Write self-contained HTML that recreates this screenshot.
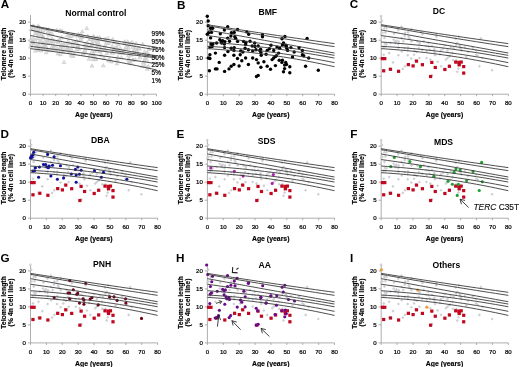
<!DOCTYPE html>
<html><head><meta charset="utf-8"><style>
*{margin:0;padding:0}
html,body{width:520px;height:367px;background:#fff;overflow:hidden}
svg{display:block;will-change:transform}
text{font-family:'Liberation Sans',sans-serif}
.let{font-size:11.7px;font-weight:bold}
.tit{font-size:8.6px;font-weight:bold}
.yt{font-size:6.1px;text-anchor:end;fill:#000;stroke:#000;stroke-width:0.22}
.xt{font-size:6.1px;text-anchor:middle;fill:#000;stroke:#000;stroke-width:0.22}
.yl{font-size:6.9px;font-weight:bold;text-anchor:middle;stroke:#000;stroke-width:0.15}
.xl{font-size:6.9px;font-weight:bold;text-anchor:middle;stroke:#000;stroke-width:0.15}
.axis{stroke:#999;stroke-width:0.8;fill:none}
.cv{stroke:#3a3a3a;stroke-width:0.9;fill:none}
.gd{fill:#cdcfd3}
.tri{fill:#e4e4e4;stroke:#bcbcbc;stroke-width:0.5}
.pl{font-size:6.4px;fill:#000;stroke:#000;stroke-width:0.2}
.arr{stroke:#222;stroke-width:0.85;fill:none}
.ann{font-size:8.4px;fill:#111;stroke:#111;stroke-width:0.15}
.rs{fill:#c0081f}
</style></head><body>
<svg width="520" height="367" viewBox="0 0 520 367">
<text x="0.7" y="8.2" class="let">A</text>
<text x="65.2" y="16" class="tit">Normal control</text>
<path d="M30.5 15V94.2H156.5" class="axis"/>
<path d="M27.9 94.2h2.6M27.9 76.2h2.6M27.9 58.2h2.6M27.9 40.2h2.6M27.9 22.2h2.6M30.5 94.2v2M43.1 94.2v2M55.7 94.2v2M68.3 94.2v2M80.9 94.2v2M93.5 94.2v2M106.1 94.2v2M118.7 94.2v2M131.3 94.2v2M143.9 94.2v2M156.5 94.2v2" class="axis"/>
<text x="26" y="96.3" class="yt">0</text>
<text x="26" y="78.3" class="yt">5</text>
<text x="26" y="60.3" class="yt">10</text>
<text x="26" y="42.3" class="yt">15</text>
<text x="26" y="24.3" class="yt">20</text>
<text x="30.5" y="105.4" class="xt">0</text>
<text x="43.1" y="105.4" class="xt">10</text>
<text x="55.7" y="105.4" class="xt">20</text>
<text x="68.3" y="105.4" class="xt">30</text>
<text x="80.9" y="105.4" class="xt">40</text>
<text x="93.5" y="105.4" class="xt">50</text>
<text x="106.1" y="105.4" class="xt">60</text>
<text x="118.7" y="105.4" class="xt">70</text>
<text x="131.3" y="105.4" class="xt">80</text>
<text x="143.9" y="105.4" class="xt">90</text>
<text x="156.5" y="105.4" class="xt">100</text>
<text transform="translate(6.2 53.8) rotate(-90)" class="yl">Telomere length</text>
<text transform="translate(13.1 53.8) rotate(-90)" class="yl">(% 4n cell line)</text>
<text x="93.8" y="116.8" class="xl">Age (years)</text>
<path d="M69.26 50.22l1.9 3.4h-3.8z" class="tri"/>
<path d="M108.42 58.64l1.9 3.4h-3.8z" class="tri"/>
<path d="M94.65 49.14l1.9 3.4h-3.8z" class="tri"/>
<path d="M37.44 36.23l1.9 3.4h-3.8z" class="tri"/>
<path d="M34.99 37.8l1.9 3.4h-3.8z" class="tri"/>
<path d="M38.86 47.43l1.9 3.4h-3.8z" class="tri"/>
<path d="M81.31 35.67l1.9 3.4h-3.8z" class="tri"/>
<path d="M45.32 44.85l1.9 3.4h-3.8z" class="tri"/>
<path d="M105.6 36.97l1.9 3.4h-3.8z" class="tri"/>
<path d="M99.58 49.24l1.9 3.4h-3.8z" class="tri"/>
<path d="M147.36 66.88l1.9 3.4h-3.8z" class="tri"/>
<path d="M133.26 57.93l1.9 3.4h-3.8z" class="tri"/>
<path d="M47.77 47.92l1.9 3.4h-3.8z" class="tri"/>
<path d="M67.43 33.48l1.9 3.4h-3.8z" class="tri"/>
<path d="M52.13 36.71l1.9 3.4h-3.8z" class="tri"/>
<path d="M106.98 51.12l1.9 3.4h-3.8z" class="tri"/>
<path d="M96.07 56.7l1.9 3.4h-3.8z" class="tri"/>
<path d="M37.63 44.23l1.9 3.4h-3.8z" class="tri"/>
<path d="M111.94 50.66l1.9 3.4h-3.8z" class="tri"/>
<path d="M68.1 39.3l1.9 3.4h-3.8z" class="tri"/>
<path d="M84.75 49.07l1.9 3.4h-3.8z" class="tri"/>
<path d="M125.59 46.42l1.9 3.4h-3.8z" class="tri"/>
<path d="M59.72 38.16l1.9 3.4h-3.8z" class="tri"/>
<path d="M93.37 36.61l1.9 3.4h-3.8z" class="tri"/>
<path d="M117.81 55.11l1.9 3.4h-3.8z" class="tri"/>
<path d="M147.83 65.14l1.9 3.4h-3.8z" class="tri"/>
<path d="M80.55 37.24l1.9 3.4h-3.8z" class="tri"/>
<path d="M48.69 38.51l1.9 3.4h-3.8z" class="tri"/>
<path d="M35.19 31.59l1.9 3.4h-3.8z" class="tri"/>
<path d="M122.02 48.89l1.9 3.4h-3.8z" class="tri"/>
<path d="M135.29 57.72l1.9 3.4h-3.8z" class="tri"/>
<path d="M113.73 46.92l1.9 3.4h-3.8z" class="tri"/>
<path d="M99.91 47.86l1.9 3.4h-3.8z" class="tri"/>
<path d="M131.04 41.27l1.9 3.4h-3.8z" class="tri"/>
<path d="M87.25 40.66l1.9 3.4h-3.8z" class="tri"/>
<path d="M37.76 31.15l1.9 3.4h-3.8z" class="tri"/>
<path d="M107.96 36.27l1.9 3.4h-3.8z" class="tri"/>
<path d="M128.88 57.23l1.9 3.4h-3.8z" class="tri"/>
<path d="M76.68 38.72l1.9 3.4h-3.8z" class="tri"/>
<path d="M33.2 36.77l1.9 3.4h-3.8z" class="tri"/>
<path d="M50.62 48.33l1.9 3.4h-3.8z" class="tri"/>
<path d="M37.56 29.35l1.9 3.4h-3.8z" class="tri"/>
<path d="M45.98 44.32l1.9 3.4h-3.8z" class="tri"/>
<path d="M77.3 33.88l1.9 3.4h-3.8z" class="tri"/>
<path d="M40.15 38.19l1.9 3.4h-3.8z" class="tri"/>
<path d="M96.27 36.92l1.9 3.4h-3.8z" class="tri"/>
<path d="M128.57 42.86l1.9 3.4h-3.8z" class="tri"/>
<path d="M63.83 42.81l1.9 3.4h-3.8z" class="tri"/>
<path d="M73.44 32.88l1.9 3.4h-3.8z" class="tri"/>
<path d="M145.14 63.75l1.9 3.4h-3.8z" class="tri"/>
<path d="M51.59 45.54l1.9 3.4h-3.8z" class="tri"/>
<path d="M58.43 40.19l1.9 3.4h-3.8z" class="tri"/>
<path d="M101.02 52.73l1.9 3.4h-3.8z" class="tri"/>
<path d="M30.99 37.58l1.9 3.4h-3.8z" class="tri"/>
<path d="M74.7 40.89l1.9 3.4h-3.8z" class="tri"/>
<path d="M144.59 49.9l1.9 3.4h-3.8z" class="tri"/>
<path d="M92.2 42.64l1.9 3.4h-3.8z" class="tri"/>
<path d="M111.44 59.63l1.9 3.4h-3.8z" class="tri"/>
<path d="M138.17 46.55l1.9 3.4h-3.8z" class="tri"/>
<path d="M135.18 45.6l1.9 3.4h-3.8z" class="tri"/>
<path d="M77.47 45.44l1.9 3.4h-3.8z" class="tri"/>
<path d="M42.89 33.8l1.9 3.4h-3.8z" class="tri"/>
<path d="M37.95 47.93l1.9 3.4h-3.8z" class="tri"/>
<path d="M55.49 47.87l1.9 3.4h-3.8z" class="tri"/>
<path d="M71.2 52.94l1.9 3.4h-3.8z" class="tri"/>
<path d="M30.53 44.74l1.9 3.4h-3.8z" class="tri"/>
<path d="M42.65 40.81l1.9 3.4h-3.8z" class="tri"/>
<path d="M33.55 25.79l1.9 3.4h-3.8z" class="tri"/>
<path d="M104 56.01l1.9 3.4h-3.8z" class="tri"/>
<path d="M60.7 44.01l1.9 3.4h-3.8z" class="tri"/>
<path d="M74.09 51.66l1.9 3.4h-3.8z" class="tri"/>
<path d="M132.12 40.24l1.9 3.4h-3.8z" class="tri"/>
<path d="M86.28 44.86l1.9 3.4h-3.8z" class="tri"/>
<path d="M40.78 47.38l1.9 3.4h-3.8z" class="tri"/>
<path d="M71.51 47.77l1.9 3.4h-3.8z" class="tri"/>
<path d="M129.71 60.44l1.9 3.4h-3.8z" class="tri"/>
<path d="M33.26 23.69l1.9 3.4h-3.8z" class="tri"/>
<path d="M93.73 54.28l1.9 3.4h-3.8z" class="tri"/>
<path d="M95.52 57.47l1.9 3.4h-3.8z" class="tri"/>
<path d="M93.71 34.17l1.9 3.4h-3.8z" class="tri"/>
<path d="M133.84 47.91l1.9 3.4h-3.8z" class="tri"/>
<path d="M61.76 43.69l1.9 3.4h-3.8z" class="tri"/>
<path d="M50.49 31.57l1.9 3.4h-3.8z" class="tri"/>
<path d="M94.25 39.09l1.9 3.4h-3.8z" class="tri"/>
<path d="M69.96 48.55l1.9 3.4h-3.8z" class="tri"/>
<path d="M127.64 39.72l1.9 3.4h-3.8z" class="tri"/>
<path d="M132.56 44.96l1.9 3.4h-3.8z" class="tri"/>
<path d="M128.45 45.91l1.9 3.4h-3.8z" class="tri"/>
<path d="M57.64 39.24l1.9 3.4h-3.8z" class="tri"/>
<path d="M73.06 53.8l1.9 3.4h-3.8z" class="tri"/>
<path d="M33.84 41.75l1.9 3.4h-3.8z" class="tri"/>
<path d="M61.52 35.51l1.9 3.4h-3.8z" class="tri"/>
<path d="M144.99 56.17l1.9 3.4h-3.8z" class="tri"/>
<path d="M142.66 42.02l1.9 3.4h-3.8z" class="tri"/>
<path d="M144.81 58.24l1.9 3.4h-3.8z" class="tri"/>
<path d="M56.89 46.45l1.9 3.4h-3.8z" class="tri"/>
<path d="M54.05 46.6l1.9 3.4h-3.8z" class="tri"/>
<path d="M105.2 38.04l1.9 3.4h-3.8z" class="tri"/>
<path d="M131.1 52.82l1.9 3.4h-3.8z" class="tri"/>
<path d="M108.66 41.07l1.9 3.4h-3.8z" class="tri"/>
<path d="M40.65 32.73l1.9 3.4h-3.8z" class="tri"/>
<path d="M139.4 46.7l1.9 3.4h-3.8z" class="tri"/>
<path d="M120.29 50.91l1.9 3.4h-3.8z" class="tri"/>
<path d="M51.87 31.38l1.9 3.4h-3.8z" class="tri"/>
<path d="M70.3 34.37l1.9 3.4h-3.8z" class="tri"/>
<path d="M146.81 57.82l1.9 3.4h-3.8z" class="tri"/>
<path d="M78.55 32.26l1.9 3.4h-3.8z" class="tri"/>
<path d="M117.26 57.88l1.9 3.4h-3.8z" class="tri"/>
<path d="M45.71 46.77l1.9 3.4h-3.8z" class="tri"/>
<path d="M138.81 45.99l1.9 3.4h-3.8z" class="tri"/>
<path d="M48 29.72l1.9 3.4h-3.8z" class="tri"/>
<path d="M147.84 51.31l1.9 3.4h-3.8z" class="tri"/>
<path d="M72.44 40.94l1.9 3.4h-3.8z" class="tri"/>
<path d="M46.18 50.37l1.9 3.4h-3.8z" class="tri"/>
<path d="M146.72 51.31l1.9 3.4h-3.8z" class="tri"/>
<path d="M93.53 35.23l1.9 3.4h-3.8z" class="tri"/>
<path d="M82.43 34.78l1.9 3.4h-3.8z" class="tri"/>
<path d="M129.39 59.15l1.9 3.4h-3.8z" class="tri"/>
<path d="M60.64 45.36l1.9 3.4h-3.8z" class="tri"/>
<path d="M59.29 37.79l1.9 3.4h-3.8z" class="tri"/>
<path d="M61.55 42.35l1.9 3.4h-3.8z" class="tri"/>
<path d="M46.19 27.23l1.9 3.4h-3.8z" class="tri"/>
<path d="M72.85 43.23l1.9 3.4h-3.8z" class="tri"/>
<path d="M100.33 37.11l1.9 3.4h-3.8z" class="tri"/>
<path d="M80.85 33.38l1.9 3.4h-3.8z" class="tri"/>
<path d="M90.55 44.42l1.9 3.4h-3.8z" class="tri"/>
<path d="M93.16 57.27l1.9 3.4h-3.8z" class="tri"/>
<path d="M83.18 51.64l1.9 3.4h-3.8z" class="tri"/>
<path d="M30.97 27.33l1.9 3.4h-3.8z" class="tri"/>
<path d="M51.13 39.3l1.9 3.4h-3.8z" class="tri"/>
<path d="M117.31 48.47l1.9 3.4h-3.8z" class="tri"/>
<path d="M69.52 41.2l1.9 3.4h-3.8z" class="tri"/>
<path d="M96.99 39.43l1.9 3.4h-3.8z" class="tri"/>
<path d="M43.2 35.78l1.9 3.4h-3.8z" class="tri"/>
<path d="M60.24 45.7l1.9 3.4h-3.8z" class="tri"/>
<path d="M122.94 50.66l1.9 3.4h-3.8z" class="tri"/>
<path d="M97.74 40.15l1.9 3.4h-3.8z" class="tri"/>
<path d="M139.72 55.3l1.9 3.4h-3.8z" class="tri"/>
<path d="M103.82 47.35l1.9 3.4h-3.8z" class="tri"/>
<path d="M91.81 40.75l1.9 3.4h-3.8z" class="tri"/>
<path d="M84.65 43.38l1.9 3.4h-3.8z" class="tri"/>
<path d="M87.72 34.02l1.9 3.4h-3.8z" class="tri"/>
<path d="M114.2 40.15l1.9 3.4h-3.8z" class="tri"/>
<path d="M143.28 60.62l1.9 3.4h-3.8z" class="tri"/>
<path d="M97.47 35.68l1.9 3.4h-3.8z" class="tri"/>
<path d="M131.05 61.3l1.9 3.4h-3.8z" class="tri"/>
<path d="M45.06 39.14l1.9 3.4h-3.8z" class="tri"/>
<path d="M39.18 43.53l1.9 3.4h-3.8z" class="tri"/>
<path d="M39.25 32.25l1.9 3.4h-3.8z" class="tri"/>
<path d="M124.34 41.34l1.9 3.4h-3.8z" class="tri"/>
<path d="M48.99 32.73l1.9 3.4h-3.8z" class="tri"/>
<path d="M109.53 57.13l1.9 3.4h-3.8z" class="tri"/>
<path d="M136.18 41.52l1.9 3.4h-3.8z" class="tri"/>
<path d="M56.78 28.13l1.9 3.4h-3.8z" class="tri"/>
<path d="M78.17 43.41l1.9 3.4h-3.8z" class="tri"/>
<path d="M148.99 47l1.9 3.4h-3.8z" class="tri"/>
<path d="M49.83 40.17l1.9 3.4h-3.8z" class="tri"/>
<path d="M92.22 49.37l1.9 3.4h-3.8z" class="tri"/>
<path d="M53.93 43.69l1.9 3.4h-3.8z" class="tri"/>
<path d="M116.94 61.49l1.9 3.4h-3.8z" class="tri"/>
<path d="M96.82 47.71l1.9 3.4h-3.8z" class="tri"/>
<path d="M32.66 40.18l1.9 3.4h-3.8z" class="tri"/>
<path d="M105.18 47.42l1.9 3.4h-3.8z" class="tri"/>
<path d="M38.2 23.74l1.9 3.4h-3.8z" class="tri"/>
<path d="M124.87 39.59l1.9 3.4h-3.8z" class="tri"/>
<path d="M43.04 43.42l1.9 3.4h-3.8z" class="tri"/>
<path d="M35.24 28.65l1.9 3.4h-3.8z" class="tri"/>
<path d="M62.87 49.78l1.9 3.4h-3.8z" class="tri"/>
<path d="M81.04 33.57l1.9 3.4h-3.8z" class="tri"/>
<path d="M128.53 57.81l1.9 3.4h-3.8z" class="tri"/>
<path d="M48.38 27.41l1.9 3.4h-3.8z" class="tri"/>
<path d="M98.8 41.77l1.9 3.4h-3.8z" class="tri"/>
<path d="M41.21 48.6l1.9 3.4h-3.8z" class="tri"/>
<path d="M112.88 50.88l1.9 3.4h-3.8z" class="tri"/>
<path d="M39.17 25.16l1.9 3.4h-3.8z" class="tri"/>
<path d="M106.44 40.64l1.9 3.4h-3.8z" class="tri"/>
<path d="M40.52 27.58l1.9 3.4h-3.8z" class="tri"/>
<path d="M38.47 27.02l1.9 3.4h-3.8z" class="tri"/>
<path d="M84.82 48.12l1.9 3.4h-3.8z" class="tri"/>
<path d="M96.7 35.95l1.9 3.4h-3.8z" class="tri"/>
<path d="M62.56 49.74l1.9 3.4h-3.8z" class="tri"/>
<path d="M93.57 52.03l1.9 3.4h-3.8z" class="tri"/>
<path d="M43.6 46.21l1.9 3.4h-3.8z" class="tri"/>
<path d="M36.53 44.19l1.9 3.4h-3.8z" class="tri"/>
<path d="M67.85 46.19l1.9 3.4h-3.8z" class="tri"/>
<path d="M121.41 55.72l1.9 3.4h-3.8z" class="tri"/>
<path d="M90.36 52.95l1.9 3.4h-3.8z" class="tri"/>
<path d="M72.04 53.91l1.9 3.4h-3.8z" class="tri"/>
<path d="M60.48 52.29l1.9 3.4h-3.8z" class="tri"/>
<path d="M118.25 48.77l1.9 3.4h-3.8z" class="tri"/>
<path d="M53.18 39.6l1.9 3.4h-3.8z" class="tri"/>
<path d="M142.38 64.33l1.9 3.4h-3.8z" class="tri"/>
<path d="M128.52 53.52l1.9 3.4h-3.8z" class="tri"/>
<path d="M89.75 36.96l1.9 3.4h-3.8z" class="tri"/>
<path d="M77.55 42.83l1.9 3.4h-3.8z" class="tri"/>
<path d="M112.82 37.34l1.9 3.4h-3.8z" class="tri"/>
<path d="M71.52 33.81l1.9 3.4h-3.8z" class="tri"/>
<path d="M115.1 46.15l1.9 3.4h-3.8z" class="tri"/>
<path d="M78.94 46.94l1.9 3.4h-3.8z" class="tri"/>
<path d="M37.01 46.16l1.9 3.4h-3.8z" class="tri"/>
<path d="M38.97 30.32l1.9 3.4h-3.8z" class="tri"/>
<path d="M61.09 48.68l1.9 3.4h-3.8z" class="tri"/>
<path d="M40.61 27.98l1.9 3.4h-3.8z" class="tri"/>
<path d="M134.7 48.7l1.9 3.4h-3.8z" class="tri"/>
<path d="M64.25 47.19l1.9 3.4h-3.8z" class="tri"/>
<path d="M65.58 42l1.9 3.4h-3.8z" class="tri"/>
<path d="M49.36 39.73l1.9 3.4h-3.8z" class="tri"/>
<path d="M62.01 28.87l1.9 3.4h-3.8z" class="tri"/>
<path d="M146.92 53.97l1.9 3.4h-3.8z" class="tri"/>
<path d="M59.76 28.36l1.9 3.4h-3.8z" class="tri"/>
<path d="M67.55 44.87l1.9 3.4h-3.8z" class="tri"/>
<path d="M30.63 38.54l1.9 3.4h-3.8z" class="tri"/>
<path d="M87.31 44.58l1.9 3.4h-3.8z" class="tri"/>
<path d="M54.56 39.06l1.9 3.4h-3.8z" class="tri"/>
<path d="M31.09 41.77l1.9 3.4h-3.8z" class="tri"/>
<path d="M41.24 39.66l1.9 3.4h-3.8z" class="tri"/>
<path d="M35.49 48.81l1.9 3.4h-3.8z" class="tri"/>
<path d="M66.92 47.83l1.9 3.4h-3.8z" class="tri"/>
<path d="M100.59 46.22l1.9 3.4h-3.8z" class="tri"/>
<path d="M120.34 46.53l1.9 3.4h-3.8z" class="tri"/>
<path d="M116.2 40.42l1.9 3.4h-3.8z" class="tri"/>
<path d="M77.13 47.17l1.9 3.4h-3.8z" class="tri"/>
<path d="M148.37 64.45l1.9 3.4h-3.8z" class="tri"/>
<path d="M117.18 46.34l1.9 3.4h-3.8z" class="tri"/>
<path d="M35.74 27.24l1.9 3.4h-3.8z" class="tri"/>
<path d="M137.27 50.23l1.9 3.4h-3.8z" class="tri"/>
<path d="M118.34 42.41l1.9 3.4h-3.8z" class="tri"/>
<path d="M47.18 37.37l1.9 3.4h-3.8z" class="tri"/>
<path d="M90.87 37.15l1.9 3.4h-3.8z" class="tri"/>
<path d="M126.82 43.49l1.9 3.4h-3.8z" class="tri"/>
<path d="M100.41 37.4l1.9 3.4h-3.8z" class="tri"/>
<path d="M112.24 44.26l1.9 3.4h-3.8z" class="tri"/>
<path d="M58.02 51.54l1.9 3.4h-3.8z" class="tri"/>
<path d="M46.43 41.46l1.9 3.4h-3.8z" class="tri"/>
<path d="M43.06 28.58l1.9 3.4h-3.8z" class="tri"/>
<path d="M97.36 43.28l1.9 3.4h-3.8z" class="tri"/>
<path d="M105.46 43.4l1.9 3.4h-3.8z" class="tri"/>
<path d="M89.07 56.96l1.9 3.4h-3.8z" class="tri"/>
<path d="M125.98 45.28l1.9 3.4h-3.8z" class="tri"/>
<path d="M90.71 44.37l1.9 3.4h-3.8z" class="tri"/>
<path d="M82.25 29.5l1.9 3.4h-3.8z" class="tri"/>
<path d="M86.75 26.25l1.9 3.4h-3.8z" class="tri"/>
<path d="M64 60.25l1.9 3.4h-3.8z" class="tri"/>
<path d="M92 63.75l1.9 3.4h-3.8z" class="tri"/>
<path d="M103.25 63.5l1.9 3.4h-3.8z" class="tri"/>
<path d="M99.6 35.4l1.9 3.4h-3.8z" class="tri"/>
<path d="M116 45.75l1.9 3.4h-3.8z" class="tri"/>
<path d="M137 49.5l1.9 3.4h-3.8z" class="tri"/>
<path d="M132.5 57.75l1.9 3.4h-3.8z" class="tri"/>
<text x="151.6" y="35.7" class="pl">99%</text>
<text x="151.6" y="43.6" class="pl">95%</text>
<text x="151.6" y="51.7" class="pl">75%</text>
<text x="151.6" y="59.6" class="pl">50%</text>
<text x="151.6" y="67" class="pl">25%</text>
<text x="151.6" y="75.2" class="pl">5%</text>
<text x="151.6" y="82.8" class="pl">1%</text>
<path d="M30.5 25.26 35.54 26.26 40.58 27.26 45.62 28.24 50.66 29.21 55.7 30.17 60.74 31.12 65.78 32.06 70.82 32.99 75.86 33.92 80.9 34.83 85.94 35.73 90.98 36.62 96.02 37.5 101.06 38.37 106.1 39.23 111.14 40.08 116.18 40.92 121.22 41.75 126.26 42.56 131.3 43.37 136.34 44.17 141.38 44.96 146.42 45.74 151.46 46.51 156.5 47.27" class="cv"/>
<path d="M30.5 25.8 35.54 26.91 40.58 28.01 45.62 29.1 50.66 30.18 55.7 31.24 60.74 32.29 65.78 33.33 70.82 34.35 75.86 35.36 80.9 36.36 85.94 37.35 90.98 38.32 96.02 39.28 101.06 40.23 106.1 41.17 111.14 42.09 116.18 43.01 121.22 43.9 126.26 44.79 131.3 45.66 136.34 46.53 141.38 47.37 146.42 48.21 151.46 49.03 156.5 49.85" class="cv"/>
<path d="M30.5 29.94 35.54 31.22 40.58 32.47 45.62 33.71 50.66 34.93 55.7 36.12 60.74 37.3 65.78 38.46 70.82 39.59 75.86 40.7 80.9 41.8 85.94 42.87 90.98 43.93 96.02 44.96 101.06 45.97 106.1 46.96 111.14 47.93 116.18 48.88 121.22 49.81 126.26 50.72 131.3 51.61 136.34 52.48 141.38 53.33 146.42 54.15 151.46 54.96 156.5 55.75" class="cv"/>
<path d="M30.5 35.52 35.54 36.53 40.58 37.53 45.62 38.52 50.66 39.49 55.7 40.45 60.74 41.4 65.78 42.33 70.82 43.25 75.86 44.16 80.9 45.05 85.94 45.93 90.98 46.79 96.02 47.64 101.06 48.48 106.1 49.3 111.14 50.11 116.18 50.91 121.22 51.69 126.26 52.46 131.3 53.22 136.34 53.96 141.38 54.69 146.42 55.4 151.46 56.11 156.5 56.79" class="cv"/>
<path d="M30.5 42 35.54 42.65 40.58 43.3 45.62 43.94 50.66 44.59 55.7 45.24 60.74 45.88 65.78 46.52 70.82 47.16 75.86 47.8 80.9 48.44 85.94 49.08 90.98 49.71 96.02 50.35 101.06 50.98 106.1 51.61 111.14 52.24 116.18 52.87 121.22 53.5 126.26 54.13 131.3 54.75 136.34 55.37 141.38 56 146.42 56.62 151.46 57.24 156.5 57.86" class="cv"/>
<path d="M30.5 46.32 35.54 46.95 40.58 47.59 45.62 48.23 50.66 48.88 55.7 49.53 60.74 50.19 65.78 50.86 70.82 51.53 75.86 52.2 80.9 52.88 85.94 53.56 90.98 54.25 96.02 54.95 101.06 55.65 106.1 56.35 111.14 57.06 116.18 57.77 121.22 58.49 126.26 59.22 131.3 59.95 136.34 60.68 141.38 61.42 146.42 62.17 151.46 62.92 156.5 63.67" class="cv"/>
<path d="M30.5 48.66 35.54 49.26 40.58 49.87 45.62 50.51 50.66 51.17 55.7 51.85 60.74 52.55 65.78 53.27 70.82 54.01 75.86 54.78 80.9 55.57 85.94 56.37 90.98 57.2 96.02 58.05 101.06 58.92 106.1 59.81 111.14 60.73 116.18 61.66 121.22 62.62 126.26 63.59 131.3 64.59 136.34 65.61 141.38 66.65 146.42 67.71 151.46 68.8 156.5 69.9" class="cv"/>
<text x="177" y="8.7" class="let">B</text>
<text x="258.5" y="14.8" class="tit">BMF</text>
<path d="M207.4 15V94.2H334.52" class="axis"/>
<path d="M204.8 94.2h2.6M204.8 76.2h2.6M204.8 58.2h2.6M204.8 40.2h2.6M204.8 22.2h2.6M207.4 94.2v2M223.29 94.2v2M239.18 94.2v2M255.07 94.2v2M270.96 94.2v2M286.85 94.2v2M302.74 94.2v2M318.63 94.2v2M334.52 94.2v2" class="axis"/>
<text x="202.9" y="96.3" class="yt">0</text>
<text x="202.9" y="78.3" class="yt">5</text>
<text x="202.9" y="60.3" class="yt">10</text>
<text x="202.9" y="42.3" class="yt">15</text>
<text x="202.9" y="24.3" class="yt">20</text>
<text x="207.4" y="105.4" class="xt">0</text>
<text x="223.29" y="105.4" class="xt">10</text>
<text x="239.18" y="105.4" class="xt">20</text>
<text x="255.07" y="105.4" class="xt">30</text>
<text x="270.96" y="105.4" class="xt">40</text>
<text x="286.85" y="105.4" class="xt">50</text>
<text x="302.74" y="105.4" class="xt">60</text>
<text x="318.63" y="105.4" class="xt">70</text>
<text x="334.52" y="105.4" class="xt">80</text>
<text transform="translate(183.1 53.8) rotate(-90)" class="yl">Telomere length</text>
<text transform="translate(190 53.8) rotate(-90)" class="yl">(% 4n cell line)</text>
<text x="270.7" y="116.8" class="xl">Age (years)</text>
<circle cx="207.3" cy="16.2" r="1.7" fill="#000"/>
<circle cx="208.2" cy="21" r="1.7" fill="#000"/>
<circle cx="208.2" cy="25.7" r="1.7" fill="#000"/>
<circle cx="210.6" cy="28.2" r="1.7" fill="#000"/>
<circle cx="212.6" cy="28.2" r="1.7" fill="#000"/>
<circle cx="207.3" cy="34.2" r="1.7" fill="#000"/>
<circle cx="208.7" cy="32.8" r="1.7" fill="#000"/>
<circle cx="211.5" cy="32.4" r="1.7" fill="#000"/>
<circle cx="210.6" cy="37.9" r="1.7" fill="#000"/>
<circle cx="220.3" cy="33.8" r="1.7" fill="#000"/>
<circle cx="224.4" cy="30.1" r="1.7" fill="#000"/>
<circle cx="227.7" cy="26.8" r="1.7" fill="#000"/>
<circle cx="231.4" cy="32.8" r="1.7" fill="#000"/>
<circle cx="234.2" cy="32.4" r="1.7" fill="#000"/>
<circle cx="230.9" cy="36.1" r="1.7" fill="#000"/>
<circle cx="227.7" cy="38.1" r="1.7" fill="#000"/>
<circle cx="219.8" cy="39.8" r="1.7" fill="#000"/>
<circle cx="222.6" cy="40.7" r="1.7" fill="#000"/>
<circle cx="224.9" cy="41.6" r="1.7" fill="#000"/>
<circle cx="229.5" cy="41.2" r="1.7" fill="#000"/>
<circle cx="216.6" cy="43" r="1.7" fill="#000"/>
<circle cx="211" cy="44" r="1.7" fill="#000"/>
<circle cx="212.9" cy="44" r="1.7" fill="#000"/>
<circle cx="221.7" cy="43" r="1.7" fill="#000"/>
<circle cx="224.4" cy="44" r="1.7" fill="#000"/>
<circle cx="212.1" cy="46.5" r="1.7" fill="#000"/>
<circle cx="209.9" cy="47.1" r="1.7" fill="#000"/>
<circle cx="221.4" cy="41.6" r="1.7" fill="#000"/>
<circle cx="224.6" cy="47.6" r="1.7" fill="#000"/>
<circle cx="227.9" cy="51.5" r="1.7" fill="#000"/>
<circle cx="231.2" cy="48.2" r="1.7" fill="#000"/>
<circle cx="233.9" cy="50.4" r="1.7" fill="#000"/>
<circle cx="209.9" cy="54.7" r="1.7" fill="#000"/>
<circle cx="215.4" cy="53.1" r="1.7" fill="#000"/>
<circle cx="208.3" cy="58" r="1.7" fill="#000"/>
<circle cx="209.9" cy="58.5" r="1.7" fill="#000"/>
<circle cx="224.6" cy="55.3" r="1.7" fill="#000"/>
<circle cx="233.9" cy="55.3" r="1.7" fill="#000"/>
<circle cx="219.2" cy="62.4" r="1.7" fill="#000"/>
<circle cx="233.9" cy="64.5" r="1.7" fill="#000"/>
<circle cx="231.2" cy="66.2" r="1.7" fill="#000"/>
<circle cx="229" cy="68.9" r="1.7" fill="#000"/>
<circle cx="209.4" cy="70.8" r="1.7" fill="#000"/>
<circle cx="215.4" cy="68.9" r="1.7" fill="#000"/>
<circle cx="217" cy="68.9" r="1.7" fill="#000"/>
<circle cx="224.6" cy="71.4" r="1.7" fill="#000"/>
<circle cx="237.6" cy="29.4" r="1.7" fill="#000"/>
<circle cx="246.8" cy="31.9" r="1.7" fill="#000"/>
<circle cx="248.7" cy="34.2" r="1.7" fill="#000"/>
<circle cx="234.8" cy="36.8" r="1.7" fill="#000"/>
<circle cx="235.7" cy="38.4" r="1.7" fill="#000"/>
<circle cx="237.6" cy="41.4" r="1.7" fill="#000"/>
<circle cx="243.6" cy="41.4" r="1.7" fill="#000"/>
<circle cx="245.9" cy="42.6" r="1.7" fill="#000"/>
<circle cx="250" cy="41.2" r="1.7" fill="#000"/>
<circle cx="254.7" cy="43" r="1.7" fill="#000"/>
<circle cx="245.6" cy="44.4" r="1.7" fill="#000"/>
<circle cx="252.2" cy="46" r="1.7" fill="#000"/>
<circle cx="254.9" cy="46.5" r="1.7" fill="#000"/>
<circle cx="258.2" cy="46" r="1.7" fill="#000"/>
<circle cx="234.2" cy="47.6" r="1.7" fill="#000"/>
<circle cx="245.1" cy="48.2" r="1.7" fill="#000"/>
<circle cx="248.4" cy="49.8" r="1.7" fill="#000"/>
<circle cx="240.7" cy="50.9" r="1.7" fill="#000"/>
<circle cx="242.9" cy="52" r="1.7" fill="#000"/>
<circle cx="252.7" cy="50.9" r="1.7" fill="#000"/>
<circle cx="256" cy="49.8" r="1.7" fill="#000"/>
<circle cx="259.8" cy="50.4" r="1.7" fill="#000"/>
<circle cx="260.9" cy="52.5" r="1.7" fill="#000"/>
<circle cx="240.2" cy="54.7" r="1.7" fill="#000"/>
<circle cx="237.5" cy="58.5" r="1.7" fill="#000"/>
<circle cx="245.6" cy="58" r="1.7" fill="#000"/>
<circle cx="241.8" cy="60.7" r="1.7" fill="#000"/>
<circle cx="252.7" cy="58" r="1.7" fill="#000"/>
<circle cx="256.5" cy="59.6" r="1.7" fill="#000"/>
<circle cx="258.2" cy="62.9" r="1.7" fill="#000"/>
<circle cx="239.1" cy="66" r="1.7" fill="#000"/>
<circle cx="248.4" cy="64.5" r="1.7" fill="#000"/>
<circle cx="260.9" cy="67.3" r="1.7" fill="#000"/>
<circle cx="256.5" cy="76.5" r="1.7" fill="#000"/>
<circle cx="258.2" cy="75.4" r="1.7" fill="#000"/>
<circle cx="262.5" cy="34.7" r="1.7" fill="#000"/>
<circle cx="262.5" cy="36.8" r="1.7" fill="#000"/>
<circle cx="284.9" cy="36.5" r="1.7" fill="#000"/>
<circle cx="282" cy="38.7" r="1.7" fill="#000"/>
<circle cx="283.5" cy="43" r="1.7" fill="#000"/>
<circle cx="271" cy="45.3" r="1.7" fill="#000"/>
<circle cx="285.9" cy="45.3" r="1.7" fill="#000"/>
<circle cx="260.6" cy="49.3" r="1.7" fill="#000"/>
<circle cx="261.2" cy="55.3" r="1.7" fill="#000"/>
<circle cx="266.1" cy="54.2" r="1.7" fill="#000"/>
<circle cx="267.2" cy="50.4" r="1.7" fill="#000"/>
<circle cx="269.4" cy="48.7" r="1.7" fill="#000"/>
<circle cx="273.7" cy="50.4" r="1.7" fill="#000"/>
<circle cx="277" cy="47.1" r="1.7" fill="#000"/>
<circle cx="279.7" cy="48.2" r="1.7" fill="#000"/>
<circle cx="282.4" cy="44.9" r="1.7" fill="#000"/>
<circle cx="286.3" cy="46.5" r="1.7" fill="#000"/>
<circle cx="286.8" cy="48.2" r="1.7" fill="#000"/>
<circle cx="278.6" cy="53.1" r="1.7" fill="#000"/>
<circle cx="272.1" cy="59.6" r="1.7" fill="#000"/>
<circle cx="273.7" cy="58" r="1.7" fill="#000"/>
<circle cx="275.4" cy="56.4" r="1.7" fill="#000"/>
<circle cx="276.4" cy="55.8" r="1.7" fill="#000"/>
<circle cx="279.2" cy="60.2" r="1.7" fill="#000"/>
<circle cx="282.4" cy="60.2" r="1.7" fill="#000"/>
<circle cx="281.9" cy="62.4" r="1.7" fill="#000"/>
<circle cx="284.6" cy="65.1" r="1.7" fill="#000"/>
<circle cx="285.7" cy="62.4" r="1.7" fill="#000"/>
<circle cx="263.9" cy="61.8" r="1.7" fill="#000"/>
<circle cx="267.2" cy="66.2" r="1.7" fill="#000"/>
<circle cx="270.5" cy="69.2" r="1.7" fill="#000"/>
<circle cx="275.4" cy="65.6" r="1.7" fill="#000"/>
<circle cx="284.6" cy="68.6" r="1.7" fill="#000"/>
<circle cx="283.5" cy="71.8" r="1.7" fill="#000"/>
<circle cx="287.6" cy="50.4" r="1.7" fill="#000"/>
<circle cx="290.9" cy="47.6" r="1.7" fill="#000"/>
<circle cx="294.2" cy="52" r="1.7" fill="#000"/>
<circle cx="299.1" cy="47.6" r="1.7" fill="#000"/>
<circle cx="302.4" cy="50.4" r="1.7" fill="#000"/>
<circle cx="302.4" cy="54.7" r="1.7" fill="#000"/>
<circle cx="303.7" cy="55.8" r="1.7" fill="#000"/>
<circle cx="308.7" cy="58" r="1.7" fill="#000"/>
<circle cx="292.5" cy="56.9" r="1.7" fill="#000"/>
<circle cx="286.5" cy="64.5" r="1.7" fill="#000"/>
<circle cx="289.8" cy="66.7" r="1.7" fill="#000"/>
<circle cx="305.6" cy="66.2" r="1.7" fill="#000"/>
<circle cx="289.8" cy="72.7" r="1.7" fill="#000"/>
<circle cx="307.1" cy="38.4" r="1.7" fill="#000"/>
<circle cx="318.3" cy="70.3" r="1.7" fill="#000"/>
<path d="M207.4 24.7 213.76 25.72 220.11 26.72 226.47 27.72 232.82 28.71 239.18 29.7 245.54 30.67 251.89 31.64 258.25 32.61 264.6 33.56 270.96 34.51 277.32 35.46 283.67 36.39 290.03 37.32 296.38 38.24 302.74 39.16 309.1 40.06 315.45 40.96 321.81 41.86 328.16 42.74 334.52 43.62" class="cv"/>
<path d="M207.4 25.64 213.76 26.78 220.11 27.91 226.47 29.03 232.82 30.14 239.18 31.24 245.54 32.33 251.89 33.41 258.25 34.48 264.6 35.55 270.96 36.6 277.32 37.65 283.67 38.69 290.03 39.71 296.38 40.73 302.74 41.74 309.1 42.74 315.45 43.73 321.81 44.72 328.16 45.69 334.52 46.65" class="cv"/>
<path d="M207.4 29.95 213.76 31.11 220.11 32.27 226.47 33.43 232.82 34.59 239.18 35.74 245.54 36.9 251.89 38.06 258.25 39.21 264.6 40.37 270.96 41.52 277.32 42.67 283.67 43.83 290.03 44.98 296.38 46.13 302.74 47.28 309.1 48.43 315.45 49.58 321.81 50.73 328.16 51.88 334.52 53.03" class="cv"/>
<path d="M207.4 35.55 213.76 36.45 220.11 37.35 226.47 38.27 232.82 39.2 239.18 40.13 245.54 41.08 251.89 42.04 258.25 43 264.6 43.98 270.96 44.97 277.32 45.96 283.67 46.97 290.03 47.98 296.38 49.01 302.74 50.04 309.1 51.08 315.45 52.14 321.81 53.2 328.16 54.28 334.52 55.36" class="cv"/>
<path d="M207.4 42.03 213.76 42.48 220.11 42.97 226.47 43.49 232.82 44.05 239.18 44.65 245.54 45.29 251.89 45.96 258.25 46.67 264.6 47.41 270.96 48.2 277.32 49.02 283.67 49.87 290.03 50.77 296.38 51.7 302.74 52.66 309.1 53.67 315.45 54.71 321.81 55.79 328.16 56.9 334.52 58.05" class="cv"/>
<path d="M207.4 46.32 213.76 46.68 220.11 47.1 226.47 47.56 232.82 48.07 239.18 48.62 245.54 49.22 251.89 49.88 258.25 50.57 264.6 51.32 270.96 52.11 277.32 52.96 283.67 53.85 290.03 54.78 296.38 55.77 302.74 56.8 309.1 57.88 315.45 59.01 321.81 60.18 328.16 61.4 334.52 62.67" class="cv"/>
<path d="M207.4 48.66 213.76 49.07 220.11 49.54 226.47 50.05 232.82 50.62 239.18 51.24 245.54 51.91 251.89 52.63 258.25 53.41 264.6 54.23 270.96 55.11 277.32 56.04 283.67 57.02 290.03 58.05 296.38 59.14 302.74 60.27 309.1 61.46 315.45 62.7 321.81 63.99 328.16 65.33 334.52 66.73" class="cv"/>
<text x="349.8" y="8.4" class="let">C</text>
<text x="432.8" y="13.5" class="tit">DC</text>
<path d="M381.2 15V94.2H508.32" class="axis"/>
<path d="M378.6 94.2h2.6M378.6 76.2h2.6M378.6 58.2h2.6M378.6 40.2h2.6M378.6 22.2h2.6M381.2 94.2v2M397.09 94.2v2M412.98 94.2v2M428.87 94.2v2M444.76 94.2v2M460.65 94.2v2M476.54 94.2v2M492.43 94.2v2M508.32 94.2v2" class="axis"/>
<text x="376.7" y="96.3" class="yt">0</text>
<text x="376.7" y="78.3" class="yt">5</text>
<text x="376.7" y="60.3" class="yt">10</text>
<text x="376.7" y="42.3" class="yt">15</text>
<text x="376.7" y="24.3" class="yt">20</text>
<text x="381.2" y="105.4" class="xt">0</text>
<text x="397.09" y="105.4" class="xt">10</text>
<text x="412.98" y="105.4" class="xt">20</text>
<text x="428.87" y="105.4" class="xt">30</text>
<text x="444.76" y="105.4" class="xt">40</text>
<text x="460.65" y="105.4" class="xt">50</text>
<text x="476.54" y="105.4" class="xt">60</text>
<text x="492.43" y="105.4" class="xt">70</text>
<text x="508.32" y="105.4" class="xt">80</text>
<text transform="translate(356.9 53.8) rotate(-90)" class="yl">Telomere length</text>
<text transform="translate(363.8 53.8) rotate(-90)" class="yl">(% 4n cell line)</text>
<text x="444.5" y="116.8" class="xl">Age (years)</text>
<path d="M381.1 14.65l1.55 1.55l-1.55 1.55l-1.55 -1.55z" class="gd"/>
<path d="M382 19.45l1.55 1.55l-1.55 1.55l-1.55 -1.55z" class="gd"/>
<path d="M382 24.15l1.55 1.55l-1.55 1.55l-1.55 -1.55z" class="gd"/>
<path d="M384.4 26.65l1.55 1.55l-1.55 1.55l-1.55 -1.55z" class="gd"/>
<path d="M386.4 26.65l1.55 1.55l-1.55 1.55l-1.55 -1.55z" class="gd"/>
<path d="M381.1 32.65l1.55 1.55l-1.55 1.55l-1.55 -1.55z" class="gd"/>
<path d="M382.5 31.25l1.55 1.55l-1.55 1.55l-1.55 -1.55z" class="gd"/>
<path d="M385.3 30.85l1.55 1.55l-1.55 1.55l-1.55 -1.55z" class="gd"/>
<path d="M384.4 36.35l1.55 1.55l-1.55 1.55l-1.55 -1.55z" class="gd"/>
<path d="M394.1 32.25l1.55 1.55l-1.55 1.55l-1.55 -1.55z" class="gd"/>
<path d="M398.2 28.55l1.55 1.55l-1.55 1.55l-1.55 -1.55z" class="gd"/>
<path d="M401.5 25.25l1.55 1.55l-1.55 1.55l-1.55 -1.55z" class="gd"/>
<path d="M405.2 31.25l1.55 1.55l-1.55 1.55l-1.55 -1.55z" class="gd"/>
<path d="M408 30.85l1.55 1.55l-1.55 1.55l-1.55 -1.55z" class="gd"/>
<path d="M404.7 34.55l1.55 1.55l-1.55 1.55l-1.55 -1.55z" class="gd"/>
<path d="M401.5 36.55l1.55 1.55l-1.55 1.55l-1.55 -1.55z" class="gd"/>
<path d="M393.6 38.25l1.55 1.55l-1.55 1.55l-1.55 -1.55z" class="gd"/>
<path d="M396.4 39.15l1.55 1.55l-1.55 1.55l-1.55 -1.55z" class="gd"/>
<path d="M398.7 40.05l1.55 1.55l-1.55 1.55l-1.55 -1.55z" class="gd"/>
<path d="M403.3 39.65l1.55 1.55l-1.55 1.55l-1.55 -1.55z" class="gd"/>
<path d="M390.4 41.45l1.55 1.55l-1.55 1.55l-1.55 -1.55z" class="gd"/>
<path d="M384.8 42.45l1.55 1.55l-1.55 1.55l-1.55 -1.55z" class="gd"/>
<path d="M386.7 42.45l1.55 1.55l-1.55 1.55l-1.55 -1.55z" class="gd"/>
<path d="M395.5 41.45l1.55 1.55l-1.55 1.55l-1.55 -1.55z" class="gd"/>
<path d="M398.2 42.45l1.55 1.55l-1.55 1.55l-1.55 -1.55z" class="gd"/>
<path d="M385.9 44.95l1.55 1.55l-1.55 1.55l-1.55 -1.55z" class="gd"/>
<path d="M383.7 45.55l1.55 1.55l-1.55 1.55l-1.55 -1.55z" class="gd"/>
<path d="M395.2 40.05l1.55 1.55l-1.55 1.55l-1.55 -1.55z" class="gd"/>
<path d="M398.4 46.05l1.55 1.55l-1.55 1.55l-1.55 -1.55z" class="gd"/>
<path d="M401.7 49.95l1.55 1.55l-1.55 1.55l-1.55 -1.55z" class="gd"/>
<path d="M405 46.65l1.55 1.55l-1.55 1.55l-1.55 -1.55z" class="gd"/>
<path d="M407.7 48.85l1.55 1.55l-1.55 1.55l-1.55 -1.55z" class="gd"/>
<path d="M383.7 53.15l1.55 1.55l-1.55 1.55l-1.55 -1.55z" class="gd"/>
<path d="M389.2 51.55l1.55 1.55l-1.55 1.55l-1.55 -1.55z" class="gd"/>
<path d="M382.1 56.45l1.55 1.55l-1.55 1.55l-1.55 -1.55z" class="gd"/>
<path d="M383.7 56.95l1.55 1.55l-1.55 1.55l-1.55 -1.55z" class="gd"/>
<path d="M398.4 53.75l1.55 1.55l-1.55 1.55l-1.55 -1.55z" class="gd"/>
<path d="M407.7 53.75l1.55 1.55l-1.55 1.55l-1.55 -1.55z" class="gd"/>
<path d="M393 60.85l1.55 1.55l-1.55 1.55l-1.55 -1.55z" class="gd"/>
<path d="M407.7 62.95l1.55 1.55l-1.55 1.55l-1.55 -1.55z" class="gd"/>
<path d="M405 64.65l1.55 1.55l-1.55 1.55l-1.55 -1.55z" class="gd"/>
<path d="M402.8 67.35l1.55 1.55l-1.55 1.55l-1.55 -1.55z" class="gd"/>
<path d="M383.2 69.25l1.55 1.55l-1.55 1.55l-1.55 -1.55z" class="gd"/>
<path d="M389.2 67.35l1.55 1.55l-1.55 1.55l-1.55 -1.55z" class="gd"/>
<path d="M390.8 67.35l1.55 1.55l-1.55 1.55l-1.55 -1.55z" class="gd"/>
<path d="M398.4 69.85l1.55 1.55l-1.55 1.55l-1.55 -1.55z" class="gd"/>
<path d="M411.4 27.85l1.55 1.55l-1.55 1.55l-1.55 -1.55z" class="gd"/>
<path d="M420.6 30.35l1.55 1.55l-1.55 1.55l-1.55 -1.55z" class="gd"/>
<path d="M422.5 32.65l1.55 1.55l-1.55 1.55l-1.55 -1.55z" class="gd"/>
<path d="M408.6 35.25l1.55 1.55l-1.55 1.55l-1.55 -1.55z" class="gd"/>
<path d="M409.5 36.85l1.55 1.55l-1.55 1.55l-1.55 -1.55z" class="gd"/>
<path d="M411.4 39.85l1.55 1.55l-1.55 1.55l-1.55 -1.55z" class="gd"/>
<path d="M417.4 39.85l1.55 1.55l-1.55 1.55l-1.55 -1.55z" class="gd"/>
<path d="M419.7 41.05l1.55 1.55l-1.55 1.55l-1.55 -1.55z" class="gd"/>
<path d="M423.8 39.65l1.55 1.55l-1.55 1.55l-1.55 -1.55z" class="gd"/>
<path d="M428.5 41.45l1.55 1.55l-1.55 1.55l-1.55 -1.55z" class="gd"/>
<path d="M419.4 42.85l1.55 1.55l-1.55 1.55l-1.55 -1.55z" class="gd"/>
<path d="M426 44.45l1.55 1.55l-1.55 1.55l-1.55 -1.55z" class="gd"/>
<path d="M428.7 44.95l1.55 1.55l-1.55 1.55l-1.55 -1.55z" class="gd"/>
<path d="M432 44.45l1.55 1.55l-1.55 1.55l-1.55 -1.55z" class="gd"/>
<path d="M408 46.05l1.55 1.55l-1.55 1.55l-1.55 -1.55z" class="gd"/>
<path d="M418.9 46.65l1.55 1.55l-1.55 1.55l-1.55 -1.55z" class="gd"/>
<path d="M422.2 48.25l1.55 1.55l-1.55 1.55l-1.55 -1.55z" class="gd"/>
<path d="M414.5 49.35l1.55 1.55l-1.55 1.55l-1.55 -1.55z" class="gd"/>
<path d="M416.7 50.45l1.55 1.55l-1.55 1.55l-1.55 -1.55z" class="gd"/>
<path d="M426.5 49.35l1.55 1.55l-1.55 1.55l-1.55 -1.55z" class="gd"/>
<path d="M429.8 48.25l1.55 1.55l-1.55 1.55l-1.55 -1.55z" class="gd"/>
<path d="M433.6 48.85l1.55 1.55l-1.55 1.55l-1.55 -1.55z" class="gd"/>
<path d="M434.7 50.95l1.55 1.55l-1.55 1.55l-1.55 -1.55z" class="gd"/>
<path d="M414 53.15l1.55 1.55l-1.55 1.55l-1.55 -1.55z" class="gd"/>
<path d="M411.3 56.95l1.55 1.55l-1.55 1.55l-1.55 -1.55z" class="gd"/>
<path d="M419.4 56.45l1.55 1.55l-1.55 1.55l-1.55 -1.55z" class="gd"/>
<path d="M415.6 59.15l1.55 1.55l-1.55 1.55l-1.55 -1.55z" class="gd"/>
<path d="M426.5 56.45l1.55 1.55l-1.55 1.55l-1.55 -1.55z" class="gd"/>
<path d="M430.3 58.05l1.55 1.55l-1.55 1.55l-1.55 -1.55z" class="gd"/>
<path d="M432 61.35l1.55 1.55l-1.55 1.55l-1.55 -1.55z" class="gd"/>
<path d="M412.9 64.45l1.55 1.55l-1.55 1.55l-1.55 -1.55z" class="gd"/>
<path d="M422.2 62.95l1.55 1.55l-1.55 1.55l-1.55 -1.55z" class="gd"/>
<path d="M434.7 65.75l1.55 1.55l-1.55 1.55l-1.55 -1.55z" class="gd"/>
<path d="M430.3 74.95l1.55 1.55l-1.55 1.55l-1.55 -1.55z" class="gd"/>
<path d="M432 73.85l1.55 1.55l-1.55 1.55l-1.55 -1.55z" class="gd"/>
<path d="M436.3 33.15l1.55 1.55l-1.55 1.55l-1.55 -1.55z" class="gd"/>
<path d="M436.3 35.25l1.55 1.55l-1.55 1.55l-1.55 -1.55z" class="gd"/>
<path d="M458.7 34.95l1.55 1.55l-1.55 1.55l-1.55 -1.55z" class="gd"/>
<path d="M455.8 37.15l1.55 1.55l-1.55 1.55l-1.55 -1.55z" class="gd"/>
<path d="M457.3 41.45l1.55 1.55l-1.55 1.55l-1.55 -1.55z" class="gd"/>
<path d="M444.8 43.75l1.55 1.55l-1.55 1.55l-1.55 -1.55z" class="gd"/>
<path d="M459.7 43.75l1.55 1.55l-1.55 1.55l-1.55 -1.55z" class="gd"/>
<path d="M434.4 47.75l1.55 1.55l-1.55 1.55l-1.55 -1.55z" class="gd"/>
<path d="M435 53.75l1.55 1.55l-1.55 1.55l-1.55 -1.55z" class="gd"/>
<path d="M439.9 52.65l1.55 1.55l-1.55 1.55l-1.55 -1.55z" class="gd"/>
<path d="M441 48.85l1.55 1.55l-1.55 1.55l-1.55 -1.55z" class="gd"/>
<path d="M443.2 47.15l1.55 1.55l-1.55 1.55l-1.55 -1.55z" class="gd"/>
<path d="M447.5 48.85l1.55 1.55l-1.55 1.55l-1.55 -1.55z" class="gd"/>
<path d="M450.8 45.55l1.55 1.55l-1.55 1.55l-1.55 -1.55z" class="gd"/>
<path d="M453.5 46.65l1.55 1.55l-1.55 1.55l-1.55 -1.55z" class="gd"/>
<path d="M456.2 43.35l1.55 1.55l-1.55 1.55l-1.55 -1.55z" class="gd"/>
<path d="M460.1 44.95l1.55 1.55l-1.55 1.55l-1.55 -1.55z" class="gd"/>
<path d="M460.6 46.65l1.55 1.55l-1.55 1.55l-1.55 -1.55z" class="gd"/>
<path d="M452.4 51.55l1.55 1.55l-1.55 1.55l-1.55 -1.55z" class="gd"/>
<path d="M445.9 58.05l1.55 1.55l-1.55 1.55l-1.55 -1.55z" class="gd"/>
<path d="M447.5 56.45l1.55 1.55l-1.55 1.55l-1.55 -1.55z" class="gd"/>
<path d="M449.2 54.85l1.55 1.55l-1.55 1.55l-1.55 -1.55z" class="gd"/>
<path d="M450.2 54.25l1.55 1.55l-1.55 1.55l-1.55 -1.55z" class="gd"/>
<path d="M453 58.65l1.55 1.55l-1.55 1.55l-1.55 -1.55z" class="gd"/>
<path d="M456.2 58.65l1.55 1.55l-1.55 1.55l-1.55 -1.55z" class="gd"/>
<path d="M455.7 60.85l1.55 1.55l-1.55 1.55l-1.55 -1.55z" class="gd"/>
<path d="M458.4 63.55l1.55 1.55l-1.55 1.55l-1.55 -1.55z" class="gd"/>
<path d="M459.5 60.85l1.55 1.55l-1.55 1.55l-1.55 -1.55z" class="gd"/>
<path d="M437.7 60.25l1.55 1.55l-1.55 1.55l-1.55 -1.55z" class="gd"/>
<path d="M441 64.65l1.55 1.55l-1.55 1.55l-1.55 -1.55z" class="gd"/>
<path d="M444.3 67.65l1.55 1.55l-1.55 1.55l-1.55 -1.55z" class="gd"/>
<path d="M449.2 64.05l1.55 1.55l-1.55 1.55l-1.55 -1.55z" class="gd"/>
<path d="M458.4 67.05l1.55 1.55l-1.55 1.55l-1.55 -1.55z" class="gd"/>
<path d="M457.3 70.25l1.55 1.55l-1.55 1.55l-1.55 -1.55z" class="gd"/>
<path d="M461.4 48.85l1.55 1.55l-1.55 1.55l-1.55 -1.55z" class="gd"/>
<path d="M464.7 46.05l1.55 1.55l-1.55 1.55l-1.55 -1.55z" class="gd"/>
<path d="M468 50.45l1.55 1.55l-1.55 1.55l-1.55 -1.55z" class="gd"/>
<path d="M472.9 46.05l1.55 1.55l-1.55 1.55l-1.55 -1.55z" class="gd"/>
<path d="M476.2 48.85l1.55 1.55l-1.55 1.55l-1.55 -1.55z" class="gd"/>
<path d="M476.2 53.15l1.55 1.55l-1.55 1.55l-1.55 -1.55z" class="gd"/>
<path d="M477.5 54.25l1.55 1.55l-1.55 1.55l-1.55 -1.55z" class="gd"/>
<path d="M482.5 56.45l1.55 1.55l-1.55 1.55l-1.55 -1.55z" class="gd"/>
<path d="M466.3 55.35l1.55 1.55l-1.55 1.55l-1.55 -1.55z" class="gd"/>
<path d="M460.3 62.95l1.55 1.55l-1.55 1.55l-1.55 -1.55z" class="gd"/>
<path d="M463.6 65.15l1.55 1.55l-1.55 1.55l-1.55 -1.55z" class="gd"/>
<path d="M479.4 64.65l1.55 1.55l-1.55 1.55l-1.55 -1.55z" class="gd"/>
<path d="M463.6 71.15l1.55 1.55l-1.55 1.55l-1.55 -1.55z" class="gd"/>
<path d="M480.9 36.85l1.55 1.55l-1.55 1.55l-1.55 -1.55z" class="gd"/>
<path d="M492.1 68.75l1.55 1.55l-1.55 1.55l-1.55 -1.55z" class="gd"/>
<rect x="380.8" y="57" width="3.2" height="3.2" class="rs"/>
<rect x="383.2" y="57" width="3.2" height="3.2" class="rs"/>
<rect x="382.1" y="69.2" width="3.2" height="3.2" class="rs"/>
<rect x="388.9" y="67.7" width="3.2" height="3.2" class="rs"/>
<rect x="397" y="69.7" width="3.2" height="3.2" class="rs"/>
<rect x="406.8" y="63" width="3.2" height="3.2" class="rs"/>
<rect x="411.5" y="64.3" width="3.2" height="3.2" class="rs"/>
<rect x="414.9" y="59.5" width="3.2" height="3.2" class="rs"/>
<rect x="420.8" y="63.1" width="3.2" height="3.2" class="rs"/>
<rect x="429" y="74.9" width="3.2" height="3.2" class="rs"/>
<rect x="430.2" y="60.8" width="3.2" height="3.2" class="rs"/>
<rect x="433.7" y="65.9" width="3.2" height="3.2" class="rs"/>
<rect x="443.3" y="67.9" width="3.2" height="3.2" class="rs"/>
<rect x="447.8" y="64.7" width="3.2" height="3.2" class="rs"/>
<rect x="454.1" y="60.5" width="3.2" height="3.2" class="rs"/>
<rect x="457.2" y="60.8" width="3.2" height="3.2" class="rs"/>
<rect x="459.6" y="60.5" width="3.2" height="3.2" class="rs"/>
<rect x="457.6" y="63.2" width="3.2" height="3.2" class="rs"/>
<rect x="462.1" y="65" width="3.2" height="3.2" class="rs"/>
<rect x="462.1" y="71.5" width="3.2" height="3.2" class="rs"/>
<path d="M381.2 24.7 387.56 25.72 393.91 26.72 400.27 27.72 406.62 28.71 412.98 29.7 419.34 30.67 425.69 31.64 432.05 32.61 438.4 33.56 444.76 34.51 451.12 35.46 457.47 36.39 463.83 37.32 470.18 38.24 476.54 39.16 482.9 40.06 489.25 40.96 495.61 41.86 501.96 42.74 508.32 43.62" class="cv"/>
<path d="M381.2 25.64 387.56 26.78 393.91 27.91 400.27 29.03 406.62 30.14 412.98 31.24 419.34 32.33 425.69 33.41 432.05 34.48 438.4 35.55 444.76 36.6 451.12 37.65 457.47 38.69 463.83 39.71 470.18 40.73 476.54 41.74 482.9 42.74 489.25 43.73 495.61 44.72 501.96 45.69 508.32 46.65" class="cv"/>
<path d="M381.2 29.95 387.56 31.11 393.91 32.27 400.27 33.43 406.62 34.59 412.98 35.74 419.34 36.9 425.69 38.06 432.05 39.21 438.4 40.37 444.76 41.52 451.12 42.67 457.47 43.83 463.83 44.98 470.18 46.13 476.54 47.28 482.9 48.43 489.25 49.58 495.61 50.73 501.96 51.88 508.32 53.03" class="cv"/>
<path d="M381.2 35.55 387.56 36.45 393.91 37.35 400.27 38.27 406.62 39.2 412.98 40.13 419.34 41.08 425.69 42.04 432.05 43 438.4 43.98 444.76 44.97 451.12 45.96 457.47 46.97 463.83 47.98 470.18 49.01 476.54 50.04 482.9 51.08 489.25 52.14 495.61 53.2 501.96 54.28 508.32 55.36" class="cv"/>
<path d="M381.2 42.03 387.56 42.48 393.91 42.97 400.27 43.49 406.62 44.05 412.98 44.65 419.34 45.29 425.69 45.96 432.05 46.67 438.4 47.41 444.76 48.2 451.12 49.02 457.47 49.87 463.83 50.77 470.18 51.7 476.54 52.66 482.9 53.67 489.25 54.71 495.61 55.79 501.96 56.9 508.32 58.05" class="cv"/>
<path d="M381.2 46.32 387.56 46.68 393.91 47.1 400.27 47.56 406.62 48.07 412.98 48.62 419.34 49.22 425.69 49.88 432.05 50.57 438.4 51.32 444.76 52.11 451.12 52.96 457.47 53.85 463.83 54.78 470.18 55.77 476.54 56.8 482.9 57.88 489.25 59.01 495.61 60.18 501.96 61.4 508.32 62.67" class="cv"/>
<path d="M381.2 48.66 387.56 49.07 393.91 49.54 400.27 50.05 406.62 50.62 412.98 51.24 419.34 51.91 425.69 52.63 432.05 53.41 438.4 54.23 444.76 55.11 451.12 56.04 457.47 57.02 463.83 58.05 470.18 59.14 476.54 60.27 482.9 61.46 489.25 62.7 495.61 63.99 501.96 65.33 508.32 66.73" class="cv"/>
<text x="0.4" y="137.8" class="let">D</text>
<text x="91" y="142.9" class="tit">DBA</text>
<path d="M30.5 139V218.2H157.62" class="axis"/>
<path d="M27.9 218.2h2.6M27.9 200.2h2.6M27.9 182.2h2.6M27.9 164.2h2.6M27.9 146.2h2.6M30.5 218.2v2M46.39 218.2v2M62.28 218.2v2M78.17 218.2v2M94.06 218.2v2M109.95 218.2v2M125.84 218.2v2M141.73 218.2v2M157.62 218.2v2" class="axis"/>
<text x="26" y="220.3" class="yt">0</text>
<text x="26" y="202.3" class="yt">5</text>
<text x="26" y="184.3" class="yt">10</text>
<text x="26" y="166.3" class="yt">15</text>
<text x="26" y="148.3" class="yt">20</text>
<text x="30.5" y="229.4" class="xt">0</text>
<text x="46.39" y="229.4" class="xt">10</text>
<text x="62.28" y="229.4" class="xt">20</text>
<text x="78.17" y="229.4" class="xt">30</text>
<text x="94.06" y="229.4" class="xt">40</text>
<text x="109.95" y="229.4" class="xt">50</text>
<text x="125.84" y="229.4" class="xt">60</text>
<text x="141.73" y="229.4" class="xt">70</text>
<text x="157.62" y="229.4" class="xt">80</text>
<text transform="translate(6.2 177.8) rotate(-90)" class="yl">Telomere length</text>
<text transform="translate(13.1 177.8) rotate(-90)" class="yl">(% 4n cell line)</text>
<text x="93.8" y="240.8" class="xl">Age (years)</text>
<path d="M30.4 138.65l1.55 1.55l-1.55 1.55l-1.55 -1.55z" class="gd"/>
<path d="M31.3 143.45l1.55 1.55l-1.55 1.55l-1.55 -1.55z" class="gd"/>
<path d="M31.3 148.15l1.55 1.55l-1.55 1.55l-1.55 -1.55z" class="gd"/>
<path d="M33.7 150.65l1.55 1.55l-1.55 1.55l-1.55 -1.55z" class="gd"/>
<path d="M35.7 150.65l1.55 1.55l-1.55 1.55l-1.55 -1.55z" class="gd"/>
<path d="M30.4 156.65l1.55 1.55l-1.55 1.55l-1.55 -1.55z" class="gd"/>
<path d="M31.8 155.25l1.55 1.55l-1.55 1.55l-1.55 -1.55z" class="gd"/>
<path d="M34.6 154.85l1.55 1.55l-1.55 1.55l-1.55 -1.55z" class="gd"/>
<path d="M33.7 160.35l1.55 1.55l-1.55 1.55l-1.55 -1.55z" class="gd"/>
<path d="M43.4 156.25l1.55 1.55l-1.55 1.55l-1.55 -1.55z" class="gd"/>
<path d="M47.5 152.55l1.55 1.55l-1.55 1.55l-1.55 -1.55z" class="gd"/>
<path d="M50.8 149.25l1.55 1.55l-1.55 1.55l-1.55 -1.55z" class="gd"/>
<path d="M54.5 155.25l1.55 1.55l-1.55 1.55l-1.55 -1.55z" class="gd"/>
<path d="M57.3 154.85l1.55 1.55l-1.55 1.55l-1.55 -1.55z" class="gd"/>
<path d="M54 158.55l1.55 1.55l-1.55 1.55l-1.55 -1.55z" class="gd"/>
<path d="M50.8 160.55l1.55 1.55l-1.55 1.55l-1.55 -1.55z" class="gd"/>
<path d="M42.9 162.25l1.55 1.55l-1.55 1.55l-1.55 -1.55z" class="gd"/>
<path d="M45.7 163.15l1.55 1.55l-1.55 1.55l-1.55 -1.55z" class="gd"/>
<path d="M48 164.05l1.55 1.55l-1.55 1.55l-1.55 -1.55z" class="gd"/>
<path d="M52.6 163.65l1.55 1.55l-1.55 1.55l-1.55 -1.55z" class="gd"/>
<path d="M39.7 165.45l1.55 1.55l-1.55 1.55l-1.55 -1.55z" class="gd"/>
<path d="M34.1 166.45l1.55 1.55l-1.55 1.55l-1.55 -1.55z" class="gd"/>
<path d="M36 166.45l1.55 1.55l-1.55 1.55l-1.55 -1.55z" class="gd"/>
<path d="M44.8 165.45l1.55 1.55l-1.55 1.55l-1.55 -1.55z" class="gd"/>
<path d="M47.5 166.45l1.55 1.55l-1.55 1.55l-1.55 -1.55z" class="gd"/>
<path d="M35.2 168.95l1.55 1.55l-1.55 1.55l-1.55 -1.55z" class="gd"/>
<path d="M33 169.55l1.55 1.55l-1.55 1.55l-1.55 -1.55z" class="gd"/>
<path d="M44.5 164.05l1.55 1.55l-1.55 1.55l-1.55 -1.55z" class="gd"/>
<path d="M47.7 170.05l1.55 1.55l-1.55 1.55l-1.55 -1.55z" class="gd"/>
<path d="M51 173.95l1.55 1.55l-1.55 1.55l-1.55 -1.55z" class="gd"/>
<path d="M54.3 170.65l1.55 1.55l-1.55 1.55l-1.55 -1.55z" class="gd"/>
<path d="M57 172.85l1.55 1.55l-1.55 1.55l-1.55 -1.55z" class="gd"/>
<path d="M33 177.15l1.55 1.55l-1.55 1.55l-1.55 -1.55z" class="gd"/>
<path d="M38.5 175.55l1.55 1.55l-1.55 1.55l-1.55 -1.55z" class="gd"/>
<path d="M31.4 180.45l1.55 1.55l-1.55 1.55l-1.55 -1.55z" class="gd"/>
<path d="M33 180.95l1.55 1.55l-1.55 1.55l-1.55 -1.55z" class="gd"/>
<path d="M47.7 177.75l1.55 1.55l-1.55 1.55l-1.55 -1.55z" class="gd"/>
<path d="M57 177.75l1.55 1.55l-1.55 1.55l-1.55 -1.55z" class="gd"/>
<path d="M42.3 184.85l1.55 1.55l-1.55 1.55l-1.55 -1.55z" class="gd"/>
<path d="M57 186.95l1.55 1.55l-1.55 1.55l-1.55 -1.55z" class="gd"/>
<path d="M54.3 188.65l1.55 1.55l-1.55 1.55l-1.55 -1.55z" class="gd"/>
<path d="M52.1 191.35l1.55 1.55l-1.55 1.55l-1.55 -1.55z" class="gd"/>
<path d="M32.5 193.25l1.55 1.55l-1.55 1.55l-1.55 -1.55z" class="gd"/>
<path d="M38.5 191.35l1.55 1.55l-1.55 1.55l-1.55 -1.55z" class="gd"/>
<path d="M40.1 191.35l1.55 1.55l-1.55 1.55l-1.55 -1.55z" class="gd"/>
<path d="M47.7 193.85l1.55 1.55l-1.55 1.55l-1.55 -1.55z" class="gd"/>
<path d="M60.7 151.85l1.55 1.55l-1.55 1.55l-1.55 -1.55z" class="gd"/>
<path d="M69.9 154.35l1.55 1.55l-1.55 1.55l-1.55 -1.55z" class="gd"/>
<path d="M71.8 156.65l1.55 1.55l-1.55 1.55l-1.55 -1.55z" class="gd"/>
<path d="M57.9 159.25l1.55 1.55l-1.55 1.55l-1.55 -1.55z" class="gd"/>
<path d="M58.8 160.85l1.55 1.55l-1.55 1.55l-1.55 -1.55z" class="gd"/>
<path d="M60.7 163.85l1.55 1.55l-1.55 1.55l-1.55 -1.55z" class="gd"/>
<path d="M66.7 163.85l1.55 1.55l-1.55 1.55l-1.55 -1.55z" class="gd"/>
<path d="M69 165.05l1.55 1.55l-1.55 1.55l-1.55 -1.55z" class="gd"/>
<path d="M73.1 163.65l1.55 1.55l-1.55 1.55l-1.55 -1.55z" class="gd"/>
<path d="M77.8 165.45l1.55 1.55l-1.55 1.55l-1.55 -1.55z" class="gd"/>
<path d="M68.7 166.85l1.55 1.55l-1.55 1.55l-1.55 -1.55z" class="gd"/>
<path d="M75.3 168.45l1.55 1.55l-1.55 1.55l-1.55 -1.55z" class="gd"/>
<path d="M78 168.95l1.55 1.55l-1.55 1.55l-1.55 -1.55z" class="gd"/>
<path d="M81.3 168.45l1.55 1.55l-1.55 1.55l-1.55 -1.55z" class="gd"/>
<path d="M57.3 170.05l1.55 1.55l-1.55 1.55l-1.55 -1.55z" class="gd"/>
<path d="M68.2 170.65l1.55 1.55l-1.55 1.55l-1.55 -1.55z" class="gd"/>
<path d="M71.5 172.25l1.55 1.55l-1.55 1.55l-1.55 -1.55z" class="gd"/>
<path d="M63.8 173.35l1.55 1.55l-1.55 1.55l-1.55 -1.55z" class="gd"/>
<path d="M66 174.45l1.55 1.55l-1.55 1.55l-1.55 -1.55z" class="gd"/>
<path d="M75.8 173.35l1.55 1.55l-1.55 1.55l-1.55 -1.55z" class="gd"/>
<path d="M79.1 172.25l1.55 1.55l-1.55 1.55l-1.55 -1.55z" class="gd"/>
<path d="M82.9 172.85l1.55 1.55l-1.55 1.55l-1.55 -1.55z" class="gd"/>
<path d="M84 174.95l1.55 1.55l-1.55 1.55l-1.55 -1.55z" class="gd"/>
<path d="M63.3 177.15l1.55 1.55l-1.55 1.55l-1.55 -1.55z" class="gd"/>
<path d="M60.6 180.95l1.55 1.55l-1.55 1.55l-1.55 -1.55z" class="gd"/>
<path d="M68.7 180.45l1.55 1.55l-1.55 1.55l-1.55 -1.55z" class="gd"/>
<path d="M64.9 183.15l1.55 1.55l-1.55 1.55l-1.55 -1.55z" class="gd"/>
<path d="M75.8 180.45l1.55 1.55l-1.55 1.55l-1.55 -1.55z" class="gd"/>
<path d="M79.6 182.05l1.55 1.55l-1.55 1.55l-1.55 -1.55z" class="gd"/>
<path d="M81.3 185.35l1.55 1.55l-1.55 1.55l-1.55 -1.55z" class="gd"/>
<path d="M62.2 188.45l1.55 1.55l-1.55 1.55l-1.55 -1.55z" class="gd"/>
<path d="M71.5 186.95l1.55 1.55l-1.55 1.55l-1.55 -1.55z" class="gd"/>
<path d="M84 189.75l1.55 1.55l-1.55 1.55l-1.55 -1.55z" class="gd"/>
<path d="M79.6 198.95l1.55 1.55l-1.55 1.55l-1.55 -1.55z" class="gd"/>
<path d="M81.3 197.85l1.55 1.55l-1.55 1.55l-1.55 -1.55z" class="gd"/>
<path d="M85.6 157.15l1.55 1.55l-1.55 1.55l-1.55 -1.55z" class="gd"/>
<path d="M85.6 159.25l1.55 1.55l-1.55 1.55l-1.55 -1.55z" class="gd"/>
<path d="M108 158.95l1.55 1.55l-1.55 1.55l-1.55 -1.55z" class="gd"/>
<path d="M105.1 161.15l1.55 1.55l-1.55 1.55l-1.55 -1.55z" class="gd"/>
<path d="M106.6 165.45l1.55 1.55l-1.55 1.55l-1.55 -1.55z" class="gd"/>
<path d="M94.1 167.75l1.55 1.55l-1.55 1.55l-1.55 -1.55z" class="gd"/>
<path d="M109 167.75l1.55 1.55l-1.55 1.55l-1.55 -1.55z" class="gd"/>
<path d="M83.7 171.75l1.55 1.55l-1.55 1.55l-1.55 -1.55z" class="gd"/>
<path d="M84.3 177.75l1.55 1.55l-1.55 1.55l-1.55 -1.55z" class="gd"/>
<path d="M89.2 176.65l1.55 1.55l-1.55 1.55l-1.55 -1.55z" class="gd"/>
<path d="M90.3 172.85l1.55 1.55l-1.55 1.55l-1.55 -1.55z" class="gd"/>
<path d="M92.5 171.15l1.55 1.55l-1.55 1.55l-1.55 -1.55z" class="gd"/>
<path d="M96.8 172.85l1.55 1.55l-1.55 1.55l-1.55 -1.55z" class="gd"/>
<path d="M100.1 169.55l1.55 1.55l-1.55 1.55l-1.55 -1.55z" class="gd"/>
<path d="M102.8 170.65l1.55 1.55l-1.55 1.55l-1.55 -1.55z" class="gd"/>
<path d="M105.5 167.35l1.55 1.55l-1.55 1.55l-1.55 -1.55z" class="gd"/>
<path d="M109.4 168.95l1.55 1.55l-1.55 1.55l-1.55 -1.55z" class="gd"/>
<path d="M109.9 170.65l1.55 1.55l-1.55 1.55l-1.55 -1.55z" class="gd"/>
<path d="M101.7 175.55l1.55 1.55l-1.55 1.55l-1.55 -1.55z" class="gd"/>
<path d="M95.2 182.05l1.55 1.55l-1.55 1.55l-1.55 -1.55z" class="gd"/>
<path d="M96.8 180.45l1.55 1.55l-1.55 1.55l-1.55 -1.55z" class="gd"/>
<path d="M98.5 178.85l1.55 1.55l-1.55 1.55l-1.55 -1.55z" class="gd"/>
<path d="M99.5 178.25l1.55 1.55l-1.55 1.55l-1.55 -1.55z" class="gd"/>
<path d="M102.3 182.65l1.55 1.55l-1.55 1.55l-1.55 -1.55z" class="gd"/>
<path d="M105.5 182.65l1.55 1.55l-1.55 1.55l-1.55 -1.55z" class="gd"/>
<path d="M105 184.85l1.55 1.55l-1.55 1.55l-1.55 -1.55z" class="gd"/>
<path d="M107.7 187.55l1.55 1.55l-1.55 1.55l-1.55 -1.55z" class="gd"/>
<path d="M108.8 184.85l1.55 1.55l-1.55 1.55l-1.55 -1.55z" class="gd"/>
<path d="M87 184.25l1.55 1.55l-1.55 1.55l-1.55 -1.55z" class="gd"/>
<path d="M90.3 188.65l1.55 1.55l-1.55 1.55l-1.55 -1.55z" class="gd"/>
<path d="M93.6 191.65l1.55 1.55l-1.55 1.55l-1.55 -1.55z" class="gd"/>
<path d="M98.5 188.05l1.55 1.55l-1.55 1.55l-1.55 -1.55z" class="gd"/>
<path d="M107.7 191.05l1.55 1.55l-1.55 1.55l-1.55 -1.55z" class="gd"/>
<path d="M106.6 194.25l1.55 1.55l-1.55 1.55l-1.55 -1.55z" class="gd"/>
<path d="M110.7 172.85l1.55 1.55l-1.55 1.55l-1.55 -1.55z" class="gd"/>
<path d="M114 170.05l1.55 1.55l-1.55 1.55l-1.55 -1.55z" class="gd"/>
<path d="M117.3 174.45l1.55 1.55l-1.55 1.55l-1.55 -1.55z" class="gd"/>
<path d="M122.2 170.05l1.55 1.55l-1.55 1.55l-1.55 -1.55z" class="gd"/>
<path d="M125.5 172.85l1.55 1.55l-1.55 1.55l-1.55 -1.55z" class="gd"/>
<path d="M125.5 177.15l1.55 1.55l-1.55 1.55l-1.55 -1.55z" class="gd"/>
<path d="M126.8 178.25l1.55 1.55l-1.55 1.55l-1.55 -1.55z" class="gd"/>
<path d="M131.8 180.45l1.55 1.55l-1.55 1.55l-1.55 -1.55z" class="gd"/>
<path d="M115.6 179.35l1.55 1.55l-1.55 1.55l-1.55 -1.55z" class="gd"/>
<path d="M109.6 186.95l1.55 1.55l-1.55 1.55l-1.55 -1.55z" class="gd"/>
<path d="M112.9 189.15l1.55 1.55l-1.55 1.55l-1.55 -1.55z" class="gd"/>
<path d="M128.7 188.65l1.55 1.55l-1.55 1.55l-1.55 -1.55z" class="gd"/>
<path d="M112.9 195.15l1.55 1.55l-1.55 1.55l-1.55 -1.55z" class="gd"/>
<path d="M130.2 160.85l1.55 1.55l-1.55 1.55l-1.55 -1.55z" class="gd"/>
<path d="M141.4 192.75l1.55 1.55l-1.55 1.55l-1.55 -1.55z" class="gd"/>
<rect x="30.1" y="181" width="3.2" height="3.2" class="rs"/>
<rect x="32.5" y="181" width="3.2" height="3.2" class="rs"/>
<rect x="31.4" y="193.2" width="3.2" height="3.2" class="rs"/>
<rect x="38.2" y="191.7" width="3.2" height="3.2" class="rs"/>
<rect x="46.3" y="193.7" width="3.2" height="3.2" class="rs"/>
<rect x="56.1" y="187" width="3.2" height="3.2" class="rs"/>
<rect x="60.8" y="188.3" width="3.2" height="3.2" class="rs"/>
<rect x="64.2" y="183.5" width="3.2" height="3.2" class="rs"/>
<rect x="70.1" y="187.1" width="3.2" height="3.2" class="rs"/>
<rect x="78.3" y="198.9" width="3.2" height="3.2" class="rs"/>
<rect x="79.5" y="184.8" width="3.2" height="3.2" class="rs"/>
<rect x="83" y="189.9" width="3.2" height="3.2" class="rs"/>
<rect x="92.6" y="191.9" width="3.2" height="3.2" class="rs"/>
<rect x="97.1" y="188.7" width="3.2" height="3.2" class="rs"/>
<rect x="103.4" y="184.5" width="3.2" height="3.2" class="rs"/>
<rect x="106.5" y="184.8" width="3.2" height="3.2" class="rs"/>
<rect x="108.9" y="184.5" width="3.2" height="3.2" class="rs"/>
<rect x="106.9" y="187.2" width="3.2" height="3.2" class="rs"/>
<rect x="111.4" y="189" width="3.2" height="3.2" class="rs"/>
<rect x="111.4" y="195.5" width="3.2" height="3.2" class="rs"/>
<circle cx="33.7" cy="152.3" r="1.55" fill="#10109a"/>
<circle cx="32.9" cy="154.7" r="1.55" fill="#10109a"/>
<circle cx="31.3" cy="156.3" r="1.55" fill="#10109a"/>
<circle cx="30.5" cy="158" r="1.55" fill="#10109a"/>
<circle cx="32.1" cy="157.2" r="1.55" fill="#10109a"/>
<circle cx="47.6" cy="154.4" r="1.55" fill="#10109a"/>
<circle cx="54.1" cy="156.8" r="1.55" fill="#10109a"/>
<circle cx="35.4" cy="167.8" r="1.55" fill="#10109a"/>
<circle cx="39.4" cy="167" r="1.55" fill="#10109a"/>
<circle cx="43.5" cy="164.5" r="1.55" fill="#10109a"/>
<circle cx="45.6" cy="164.5" r="1.55" fill="#10109a"/>
<circle cx="46.8" cy="167" r="1.55" fill="#10109a"/>
<circle cx="48.4" cy="167.8" r="1.55" fill="#10109a"/>
<circle cx="49.2" cy="166.1" r="1.55" fill="#10109a"/>
<circle cx="52.5" cy="165.3" r="1.55" fill="#10109a"/>
<circle cx="60.4" cy="165.7" r="1.55" fill="#10109a"/>
<circle cx="32.9" cy="171" r="1.55" fill="#10109a"/>
<circle cx="34.5" cy="170.7" r="1.55" fill="#10109a"/>
<circle cx="38.6" cy="177.3" r="1.55" fill="#10109a"/>
<circle cx="50.9" cy="176" r="1.55" fill="#10109a"/>
<circle cx="57.4" cy="179.2" r="1.55" fill="#10109a"/>
<circle cx="63.6" cy="177.9" r="1.55" fill="#10109a"/>
<circle cx="75.4" cy="169.4" r="1.55" fill="#10109a"/>
<circle cx="77.8" cy="167" r="1.55" fill="#10109a"/>
<circle cx="71.3" cy="174" r="1.55" fill="#10109a"/>
<circle cx="76.2" cy="175.1" r="1.55" fill="#10109a"/>
<circle cx="81.1" cy="170.2" r="1.55" fill="#10109a"/>
<circle cx="79.5" cy="174.3" r="1.55" fill="#10109a"/>
<circle cx="76.2" cy="182.2" r="1.55" fill="#10109a"/>
<circle cx="94.5" cy="170.7" r="1.55" fill="#10109a"/>
<circle cx="103.5" cy="172.4" r="1.55" fill="#10109a"/>
<circle cx="101.4" cy="177.3" r="1.55" fill="#10109a"/>
<circle cx="126.9" cy="179.2" r="1.55" fill="#10109a"/>
<path d="M30.5 148.7 36.86 149.72 43.21 150.72 49.57 151.72 55.92 152.71 62.28 153.7 68.64 154.67 74.99 155.64 81.35 156.61 87.7 157.56 94.06 158.51 100.42 159.46 106.77 160.39 113.13 161.32 119.48 162.24 125.84 163.16 132.2 164.06 138.55 164.96 144.91 165.86 151.26 166.74 157.62 167.62" class="cv"/>
<path d="M30.5 149.64 36.86 150.78 43.21 151.91 49.57 153.03 55.92 154.14 62.28 155.24 68.64 156.33 74.99 157.41 81.35 158.48 87.7 159.55 94.06 160.6 100.42 161.65 106.77 162.69 113.13 163.71 119.48 164.73 125.84 165.74 132.2 166.74 138.55 167.73 144.91 168.72 151.26 169.69 157.62 170.65" class="cv"/>
<path d="M30.5 153.95 36.86 155.11 43.21 156.27 49.57 157.43 55.92 158.59 62.28 159.74 68.64 160.9 74.99 162.06 81.35 163.21 87.7 164.37 94.06 165.52 100.42 166.67 106.77 167.83 113.13 168.98 119.48 170.13 125.84 171.28 132.2 172.43 138.55 173.58 144.91 174.73 151.26 175.88 157.62 177.03" class="cv"/>
<path d="M30.5 159.55 36.86 160.45 43.21 161.35 49.57 162.27 55.92 163.2 62.28 164.13 68.64 165.08 74.99 166.04 81.35 167 87.7 167.98 94.06 168.97 100.42 169.96 106.77 170.97 113.13 171.98 119.48 173.01 125.84 174.04 132.2 175.08 138.55 176.14 144.91 177.2 151.26 178.28 157.62 179.36" class="cv"/>
<path d="M30.5 166.03 36.86 166.48 43.21 166.97 49.57 167.49 55.92 168.05 62.28 168.65 68.64 169.29 74.99 169.96 81.35 170.67 87.7 171.41 94.06 172.2 100.42 173.02 106.77 173.87 113.13 174.77 119.48 175.7 125.84 176.66 132.2 177.67 138.55 178.71 144.91 179.79 151.26 180.9 157.62 182.05" class="cv"/>
<path d="M30.5 170.32 36.86 170.68 43.21 171.1 49.57 171.56 55.92 172.07 62.28 172.62 68.64 173.22 74.99 173.88 81.35 174.57 87.7 175.32 94.06 176.11 100.42 176.96 106.77 177.85 113.13 178.78 119.48 179.77 125.84 180.8 132.2 181.88 138.55 183.01 144.91 184.18 151.26 185.4 157.62 186.67" class="cv"/>
<path d="M30.5 172.66 36.86 173.07 43.21 173.54 49.57 174.05 55.92 174.62 62.28 175.24 68.64 175.91 74.99 176.63 81.35 177.41 87.7 178.23 94.06 179.11 100.42 180.04 106.77 181.02 113.13 182.05 119.48 183.14 125.84 184.27 132.2 185.46 138.55 186.7 144.91 187.99 151.26 189.33 157.62 190.73" class="cv"/>
<text x="176.4" y="138" class="let">E</text>
<text x="257.7" y="143.5" class="tit">SDS</text>
<path d="M207.4 139V218.2H334.52" class="axis"/>
<path d="M204.8 218.2h2.6M204.8 200.2h2.6M204.8 182.2h2.6M204.8 164.2h2.6M204.8 146.2h2.6M207.4 218.2v2M223.29 218.2v2M239.18 218.2v2M255.07 218.2v2M270.96 218.2v2M286.85 218.2v2M302.74 218.2v2M318.63 218.2v2M334.52 218.2v2" class="axis"/>
<text x="202.9" y="220.3" class="yt">0</text>
<text x="202.9" y="202.3" class="yt">5</text>
<text x="202.9" y="184.3" class="yt">10</text>
<text x="202.9" y="166.3" class="yt">15</text>
<text x="202.9" y="148.3" class="yt">20</text>
<text x="207.4" y="229.4" class="xt">0</text>
<text x="223.29" y="229.4" class="xt">10</text>
<text x="239.18" y="229.4" class="xt">20</text>
<text x="255.07" y="229.4" class="xt">30</text>
<text x="270.96" y="229.4" class="xt">40</text>
<text x="286.85" y="229.4" class="xt">50</text>
<text x="302.74" y="229.4" class="xt">60</text>
<text x="318.63" y="229.4" class="xt">70</text>
<text x="334.52" y="229.4" class="xt">80</text>
<text transform="translate(183.1 177.8) rotate(-90)" class="yl">Telomere length</text>
<text transform="translate(190 177.8) rotate(-90)" class="yl">(% 4n cell line)</text>
<text x="270.7" y="240.8" class="xl">Age (years)</text>
<path d="M207.3 138.65l1.55 1.55l-1.55 1.55l-1.55 -1.55z" class="gd"/>
<path d="M208.2 143.45l1.55 1.55l-1.55 1.55l-1.55 -1.55z" class="gd"/>
<path d="M208.2 148.15l1.55 1.55l-1.55 1.55l-1.55 -1.55z" class="gd"/>
<path d="M210.6 150.65l1.55 1.55l-1.55 1.55l-1.55 -1.55z" class="gd"/>
<path d="M212.6 150.65l1.55 1.55l-1.55 1.55l-1.55 -1.55z" class="gd"/>
<path d="M207.3 156.65l1.55 1.55l-1.55 1.55l-1.55 -1.55z" class="gd"/>
<path d="M208.7 155.25l1.55 1.55l-1.55 1.55l-1.55 -1.55z" class="gd"/>
<path d="M211.5 154.85l1.55 1.55l-1.55 1.55l-1.55 -1.55z" class="gd"/>
<path d="M210.6 160.35l1.55 1.55l-1.55 1.55l-1.55 -1.55z" class="gd"/>
<path d="M220.3 156.25l1.55 1.55l-1.55 1.55l-1.55 -1.55z" class="gd"/>
<path d="M224.4 152.55l1.55 1.55l-1.55 1.55l-1.55 -1.55z" class="gd"/>
<path d="M227.7 149.25l1.55 1.55l-1.55 1.55l-1.55 -1.55z" class="gd"/>
<path d="M231.4 155.25l1.55 1.55l-1.55 1.55l-1.55 -1.55z" class="gd"/>
<path d="M234.2 154.85l1.55 1.55l-1.55 1.55l-1.55 -1.55z" class="gd"/>
<path d="M230.9 158.55l1.55 1.55l-1.55 1.55l-1.55 -1.55z" class="gd"/>
<path d="M227.7 160.55l1.55 1.55l-1.55 1.55l-1.55 -1.55z" class="gd"/>
<path d="M219.8 162.25l1.55 1.55l-1.55 1.55l-1.55 -1.55z" class="gd"/>
<path d="M222.6 163.15l1.55 1.55l-1.55 1.55l-1.55 -1.55z" class="gd"/>
<path d="M224.9 164.05l1.55 1.55l-1.55 1.55l-1.55 -1.55z" class="gd"/>
<path d="M229.5 163.65l1.55 1.55l-1.55 1.55l-1.55 -1.55z" class="gd"/>
<path d="M216.6 165.45l1.55 1.55l-1.55 1.55l-1.55 -1.55z" class="gd"/>
<path d="M211 166.45l1.55 1.55l-1.55 1.55l-1.55 -1.55z" class="gd"/>
<path d="M212.9 166.45l1.55 1.55l-1.55 1.55l-1.55 -1.55z" class="gd"/>
<path d="M221.7 165.45l1.55 1.55l-1.55 1.55l-1.55 -1.55z" class="gd"/>
<path d="M224.4 166.45l1.55 1.55l-1.55 1.55l-1.55 -1.55z" class="gd"/>
<path d="M212.1 168.95l1.55 1.55l-1.55 1.55l-1.55 -1.55z" class="gd"/>
<path d="M209.9 169.55l1.55 1.55l-1.55 1.55l-1.55 -1.55z" class="gd"/>
<path d="M221.4 164.05l1.55 1.55l-1.55 1.55l-1.55 -1.55z" class="gd"/>
<path d="M224.6 170.05l1.55 1.55l-1.55 1.55l-1.55 -1.55z" class="gd"/>
<path d="M227.9 173.95l1.55 1.55l-1.55 1.55l-1.55 -1.55z" class="gd"/>
<path d="M231.2 170.65l1.55 1.55l-1.55 1.55l-1.55 -1.55z" class="gd"/>
<path d="M233.9 172.85l1.55 1.55l-1.55 1.55l-1.55 -1.55z" class="gd"/>
<path d="M209.9 177.15l1.55 1.55l-1.55 1.55l-1.55 -1.55z" class="gd"/>
<path d="M215.4 175.55l1.55 1.55l-1.55 1.55l-1.55 -1.55z" class="gd"/>
<path d="M208.3 180.45l1.55 1.55l-1.55 1.55l-1.55 -1.55z" class="gd"/>
<path d="M209.9 180.95l1.55 1.55l-1.55 1.55l-1.55 -1.55z" class="gd"/>
<path d="M224.6 177.75l1.55 1.55l-1.55 1.55l-1.55 -1.55z" class="gd"/>
<path d="M233.9 177.75l1.55 1.55l-1.55 1.55l-1.55 -1.55z" class="gd"/>
<path d="M219.2 184.85l1.55 1.55l-1.55 1.55l-1.55 -1.55z" class="gd"/>
<path d="M233.9 186.95l1.55 1.55l-1.55 1.55l-1.55 -1.55z" class="gd"/>
<path d="M231.2 188.65l1.55 1.55l-1.55 1.55l-1.55 -1.55z" class="gd"/>
<path d="M229 191.35l1.55 1.55l-1.55 1.55l-1.55 -1.55z" class="gd"/>
<path d="M209.4 193.25l1.55 1.55l-1.55 1.55l-1.55 -1.55z" class="gd"/>
<path d="M215.4 191.35l1.55 1.55l-1.55 1.55l-1.55 -1.55z" class="gd"/>
<path d="M217 191.35l1.55 1.55l-1.55 1.55l-1.55 -1.55z" class="gd"/>
<path d="M224.6 193.85l1.55 1.55l-1.55 1.55l-1.55 -1.55z" class="gd"/>
<path d="M237.6 151.85l1.55 1.55l-1.55 1.55l-1.55 -1.55z" class="gd"/>
<path d="M246.8 154.35l1.55 1.55l-1.55 1.55l-1.55 -1.55z" class="gd"/>
<path d="M248.7 156.65l1.55 1.55l-1.55 1.55l-1.55 -1.55z" class="gd"/>
<path d="M234.8 159.25l1.55 1.55l-1.55 1.55l-1.55 -1.55z" class="gd"/>
<path d="M235.7 160.85l1.55 1.55l-1.55 1.55l-1.55 -1.55z" class="gd"/>
<path d="M237.6 163.85l1.55 1.55l-1.55 1.55l-1.55 -1.55z" class="gd"/>
<path d="M243.6 163.85l1.55 1.55l-1.55 1.55l-1.55 -1.55z" class="gd"/>
<path d="M245.9 165.05l1.55 1.55l-1.55 1.55l-1.55 -1.55z" class="gd"/>
<path d="M250 163.65l1.55 1.55l-1.55 1.55l-1.55 -1.55z" class="gd"/>
<path d="M254.7 165.45l1.55 1.55l-1.55 1.55l-1.55 -1.55z" class="gd"/>
<path d="M245.6 166.85l1.55 1.55l-1.55 1.55l-1.55 -1.55z" class="gd"/>
<path d="M252.2 168.45l1.55 1.55l-1.55 1.55l-1.55 -1.55z" class="gd"/>
<path d="M254.9 168.95l1.55 1.55l-1.55 1.55l-1.55 -1.55z" class="gd"/>
<path d="M258.2 168.45l1.55 1.55l-1.55 1.55l-1.55 -1.55z" class="gd"/>
<path d="M234.2 170.05l1.55 1.55l-1.55 1.55l-1.55 -1.55z" class="gd"/>
<path d="M245.1 170.65l1.55 1.55l-1.55 1.55l-1.55 -1.55z" class="gd"/>
<path d="M248.4 172.25l1.55 1.55l-1.55 1.55l-1.55 -1.55z" class="gd"/>
<path d="M240.7 173.35l1.55 1.55l-1.55 1.55l-1.55 -1.55z" class="gd"/>
<path d="M242.9 174.45l1.55 1.55l-1.55 1.55l-1.55 -1.55z" class="gd"/>
<path d="M252.7 173.35l1.55 1.55l-1.55 1.55l-1.55 -1.55z" class="gd"/>
<path d="M256 172.25l1.55 1.55l-1.55 1.55l-1.55 -1.55z" class="gd"/>
<path d="M259.8 172.85l1.55 1.55l-1.55 1.55l-1.55 -1.55z" class="gd"/>
<path d="M260.9 174.95l1.55 1.55l-1.55 1.55l-1.55 -1.55z" class="gd"/>
<path d="M240.2 177.15l1.55 1.55l-1.55 1.55l-1.55 -1.55z" class="gd"/>
<path d="M237.5 180.95l1.55 1.55l-1.55 1.55l-1.55 -1.55z" class="gd"/>
<path d="M245.6 180.45l1.55 1.55l-1.55 1.55l-1.55 -1.55z" class="gd"/>
<path d="M241.8 183.15l1.55 1.55l-1.55 1.55l-1.55 -1.55z" class="gd"/>
<path d="M252.7 180.45l1.55 1.55l-1.55 1.55l-1.55 -1.55z" class="gd"/>
<path d="M256.5 182.05l1.55 1.55l-1.55 1.55l-1.55 -1.55z" class="gd"/>
<path d="M258.2 185.35l1.55 1.55l-1.55 1.55l-1.55 -1.55z" class="gd"/>
<path d="M239.1 188.45l1.55 1.55l-1.55 1.55l-1.55 -1.55z" class="gd"/>
<path d="M248.4 186.95l1.55 1.55l-1.55 1.55l-1.55 -1.55z" class="gd"/>
<path d="M260.9 189.75l1.55 1.55l-1.55 1.55l-1.55 -1.55z" class="gd"/>
<path d="M256.5 198.95l1.55 1.55l-1.55 1.55l-1.55 -1.55z" class="gd"/>
<path d="M258.2 197.85l1.55 1.55l-1.55 1.55l-1.55 -1.55z" class="gd"/>
<path d="M262.5 157.15l1.55 1.55l-1.55 1.55l-1.55 -1.55z" class="gd"/>
<path d="M262.5 159.25l1.55 1.55l-1.55 1.55l-1.55 -1.55z" class="gd"/>
<path d="M284.9 158.95l1.55 1.55l-1.55 1.55l-1.55 -1.55z" class="gd"/>
<path d="M282 161.15l1.55 1.55l-1.55 1.55l-1.55 -1.55z" class="gd"/>
<path d="M283.5 165.45l1.55 1.55l-1.55 1.55l-1.55 -1.55z" class="gd"/>
<path d="M271 167.75l1.55 1.55l-1.55 1.55l-1.55 -1.55z" class="gd"/>
<path d="M285.9 167.75l1.55 1.55l-1.55 1.55l-1.55 -1.55z" class="gd"/>
<path d="M260.6 171.75l1.55 1.55l-1.55 1.55l-1.55 -1.55z" class="gd"/>
<path d="M261.2 177.75l1.55 1.55l-1.55 1.55l-1.55 -1.55z" class="gd"/>
<path d="M266.1 176.65l1.55 1.55l-1.55 1.55l-1.55 -1.55z" class="gd"/>
<path d="M267.2 172.85l1.55 1.55l-1.55 1.55l-1.55 -1.55z" class="gd"/>
<path d="M269.4 171.15l1.55 1.55l-1.55 1.55l-1.55 -1.55z" class="gd"/>
<path d="M273.7 172.85l1.55 1.55l-1.55 1.55l-1.55 -1.55z" class="gd"/>
<path d="M277 169.55l1.55 1.55l-1.55 1.55l-1.55 -1.55z" class="gd"/>
<path d="M279.7 170.65l1.55 1.55l-1.55 1.55l-1.55 -1.55z" class="gd"/>
<path d="M282.4 167.35l1.55 1.55l-1.55 1.55l-1.55 -1.55z" class="gd"/>
<path d="M286.3 168.95l1.55 1.55l-1.55 1.55l-1.55 -1.55z" class="gd"/>
<path d="M286.8 170.65l1.55 1.55l-1.55 1.55l-1.55 -1.55z" class="gd"/>
<path d="M278.6 175.55l1.55 1.55l-1.55 1.55l-1.55 -1.55z" class="gd"/>
<path d="M272.1 182.05l1.55 1.55l-1.55 1.55l-1.55 -1.55z" class="gd"/>
<path d="M273.7 180.45l1.55 1.55l-1.55 1.55l-1.55 -1.55z" class="gd"/>
<path d="M275.4 178.85l1.55 1.55l-1.55 1.55l-1.55 -1.55z" class="gd"/>
<path d="M276.4 178.25l1.55 1.55l-1.55 1.55l-1.55 -1.55z" class="gd"/>
<path d="M279.2 182.65l1.55 1.55l-1.55 1.55l-1.55 -1.55z" class="gd"/>
<path d="M282.4 182.65l1.55 1.55l-1.55 1.55l-1.55 -1.55z" class="gd"/>
<path d="M281.9 184.85l1.55 1.55l-1.55 1.55l-1.55 -1.55z" class="gd"/>
<path d="M284.6 187.55l1.55 1.55l-1.55 1.55l-1.55 -1.55z" class="gd"/>
<path d="M285.7 184.85l1.55 1.55l-1.55 1.55l-1.55 -1.55z" class="gd"/>
<path d="M263.9 184.25l1.55 1.55l-1.55 1.55l-1.55 -1.55z" class="gd"/>
<path d="M267.2 188.65l1.55 1.55l-1.55 1.55l-1.55 -1.55z" class="gd"/>
<path d="M270.5 191.65l1.55 1.55l-1.55 1.55l-1.55 -1.55z" class="gd"/>
<path d="M275.4 188.05l1.55 1.55l-1.55 1.55l-1.55 -1.55z" class="gd"/>
<path d="M284.6 191.05l1.55 1.55l-1.55 1.55l-1.55 -1.55z" class="gd"/>
<path d="M283.5 194.25l1.55 1.55l-1.55 1.55l-1.55 -1.55z" class="gd"/>
<path d="M287.6 172.85l1.55 1.55l-1.55 1.55l-1.55 -1.55z" class="gd"/>
<path d="M290.9 170.05l1.55 1.55l-1.55 1.55l-1.55 -1.55z" class="gd"/>
<path d="M294.2 174.45l1.55 1.55l-1.55 1.55l-1.55 -1.55z" class="gd"/>
<path d="M299.1 170.05l1.55 1.55l-1.55 1.55l-1.55 -1.55z" class="gd"/>
<path d="M302.4 172.85l1.55 1.55l-1.55 1.55l-1.55 -1.55z" class="gd"/>
<path d="M302.4 177.15l1.55 1.55l-1.55 1.55l-1.55 -1.55z" class="gd"/>
<path d="M303.7 178.25l1.55 1.55l-1.55 1.55l-1.55 -1.55z" class="gd"/>
<path d="M308.7 180.45l1.55 1.55l-1.55 1.55l-1.55 -1.55z" class="gd"/>
<path d="M292.5 179.35l1.55 1.55l-1.55 1.55l-1.55 -1.55z" class="gd"/>
<path d="M286.5 186.95l1.55 1.55l-1.55 1.55l-1.55 -1.55z" class="gd"/>
<path d="M289.8 189.15l1.55 1.55l-1.55 1.55l-1.55 -1.55z" class="gd"/>
<path d="M305.6 188.65l1.55 1.55l-1.55 1.55l-1.55 -1.55z" class="gd"/>
<path d="M289.8 195.15l1.55 1.55l-1.55 1.55l-1.55 -1.55z" class="gd"/>
<path d="M307.1 160.85l1.55 1.55l-1.55 1.55l-1.55 -1.55z" class="gd"/>
<path d="M318.3 192.75l1.55 1.55l-1.55 1.55l-1.55 -1.55z" class="gd"/>
<rect x="207" y="181" width="3.2" height="3.2" class="rs"/>
<rect x="209.4" y="181" width="3.2" height="3.2" class="rs"/>
<rect x="208.3" y="193.2" width="3.2" height="3.2" class="rs"/>
<rect x="215.1" y="191.7" width="3.2" height="3.2" class="rs"/>
<rect x="223.2" y="193.7" width="3.2" height="3.2" class="rs"/>
<rect x="233" y="187" width="3.2" height="3.2" class="rs"/>
<rect x="237.7" y="188.3" width="3.2" height="3.2" class="rs"/>
<rect x="241.1" y="183.5" width="3.2" height="3.2" class="rs"/>
<rect x="247" y="187.1" width="3.2" height="3.2" class="rs"/>
<rect x="255.2" y="198.9" width="3.2" height="3.2" class="rs"/>
<rect x="256.4" y="184.8" width="3.2" height="3.2" class="rs"/>
<rect x="259.9" y="189.9" width="3.2" height="3.2" class="rs"/>
<rect x="269.5" y="191.9" width="3.2" height="3.2" class="rs"/>
<rect x="274" y="188.7" width="3.2" height="3.2" class="rs"/>
<rect x="280.3" y="184.5" width="3.2" height="3.2" class="rs"/>
<rect x="283.4" y="184.8" width="3.2" height="3.2" class="rs"/>
<rect x="285.8" y="184.5" width="3.2" height="3.2" class="rs"/>
<rect x="283.8" y="187.2" width="3.2" height="3.2" class="rs"/>
<rect x="288.3" y="189" width="3.2" height="3.2" class="rs"/>
<rect x="288.3" y="195.5" width="3.2" height="3.2" class="rs"/>
<circle cx="210.8" cy="168" r="1.55" fill="#b020b0"/>
<circle cx="234.3" cy="171.3" r="1.55" fill="#b020b0"/>
<circle cx="243.1" cy="176.1" r="1.55" fill="#b020b0"/>
<circle cx="273.3" cy="174.6" r="1.55" fill="#b020b0"/>
<circle cx="272.2" cy="183.4" r="1.55" fill="#b020b0"/>
<path d="M207.4 148.7 213.76 149.72 220.11 150.72 226.47 151.72 232.82 152.71 239.18 153.7 245.54 154.67 251.89 155.64 258.25 156.61 264.6 157.56 270.96 158.51 277.32 159.46 283.67 160.39 290.03 161.32 296.38 162.24 302.74 163.16 309.1 164.06 315.45 164.96 321.81 165.86 328.16 166.74 334.52 167.62" class="cv"/>
<path d="M207.4 149.64 213.76 150.78 220.11 151.91 226.47 153.03 232.82 154.14 239.18 155.24 245.54 156.33 251.89 157.41 258.25 158.48 264.6 159.55 270.96 160.6 277.32 161.65 283.67 162.69 290.03 163.71 296.38 164.73 302.74 165.74 309.1 166.74 315.45 167.73 321.81 168.72 328.16 169.69 334.52 170.65" class="cv"/>
<path d="M207.4 153.95 213.76 155.11 220.11 156.27 226.47 157.43 232.82 158.59 239.18 159.74 245.54 160.9 251.89 162.06 258.25 163.21 264.6 164.37 270.96 165.52 277.32 166.67 283.67 167.83 290.03 168.98 296.38 170.13 302.74 171.28 309.1 172.43 315.45 173.58 321.81 174.73 328.16 175.88 334.52 177.03" class="cv"/>
<path d="M207.4 159.55 213.76 160.45 220.11 161.35 226.47 162.27 232.82 163.2 239.18 164.13 245.54 165.08 251.89 166.04 258.25 167 264.6 167.98 270.96 168.97 277.32 169.96 283.67 170.97 290.03 171.98 296.38 173.01 302.74 174.04 309.1 175.08 315.45 176.14 321.81 177.2 328.16 178.28 334.52 179.36" class="cv"/>
<path d="M207.4 166.03 213.76 166.48 220.11 166.97 226.47 167.49 232.82 168.05 239.18 168.65 245.54 169.29 251.89 169.96 258.25 170.67 264.6 171.41 270.96 172.2 277.32 173.02 283.67 173.87 290.03 174.77 296.38 175.7 302.74 176.66 309.1 177.67 315.45 178.71 321.81 179.79 328.16 180.9 334.52 182.05" class="cv"/>
<path d="M207.4 170.32 213.76 170.68 220.11 171.1 226.47 171.56 232.82 172.07 239.18 172.62 245.54 173.22 251.89 173.88 258.25 174.57 264.6 175.32 270.96 176.11 277.32 176.96 283.67 177.85 290.03 178.78 296.38 179.77 302.74 180.8 309.1 181.88 315.45 183.01 321.81 184.18 328.16 185.4 334.52 186.67" class="cv"/>
<path d="M207.4 172.66 213.76 173.07 220.11 173.54 226.47 174.05 232.82 174.62 239.18 175.24 245.54 175.91 251.89 176.63 258.25 177.41 264.6 178.23 270.96 179.11 277.32 180.04 283.67 181.02 290.03 182.05 296.38 183.14 302.74 184.27 309.1 185.46 315.45 186.7 321.81 187.99 328.16 189.33 334.52 190.73" class="cv"/>
<text x="350.3" y="138" class="let">F</text>
<text x="434" y="144.6" class="tit">MDS</text>
<path d="M381.2 139V218.2H508.32" class="axis"/>
<path d="M378.6 218.2h2.6M378.6 200.2h2.6M378.6 182.2h2.6M378.6 164.2h2.6M378.6 146.2h2.6M381.2 218.2v2M397.09 218.2v2M412.98 218.2v2M428.87 218.2v2M444.76 218.2v2M460.65 218.2v2M476.54 218.2v2M492.43 218.2v2M508.32 218.2v2" class="axis"/>
<text x="376.7" y="220.3" class="yt">0</text>
<text x="376.7" y="202.3" class="yt">5</text>
<text x="376.7" y="184.3" class="yt">10</text>
<text x="376.7" y="166.3" class="yt">15</text>
<text x="376.7" y="148.3" class="yt">20</text>
<text x="381.2" y="229.4" class="xt">0</text>
<text x="397.09" y="229.4" class="xt">10</text>
<text x="412.98" y="229.4" class="xt">20</text>
<text x="428.87" y="229.4" class="xt">30</text>
<text x="444.76" y="229.4" class="xt">40</text>
<text x="460.65" y="229.4" class="xt">50</text>
<text x="476.54" y="229.4" class="xt">60</text>
<text x="492.43" y="229.4" class="xt">70</text>
<text x="508.32" y="229.4" class="xt">80</text>
<text transform="translate(356.9 177.8) rotate(-90)" class="yl">Telomere length</text>
<text transform="translate(363.8 177.8) rotate(-90)" class="yl">(% 4n cell line)</text>
<text x="444.5" y="240.8" class="xl">Age (years)</text>
<path d="M381.1 138.65l1.55 1.55l-1.55 1.55l-1.55 -1.55z" class="gd"/>
<path d="M382 143.45l1.55 1.55l-1.55 1.55l-1.55 -1.55z" class="gd"/>
<path d="M382 148.15l1.55 1.55l-1.55 1.55l-1.55 -1.55z" class="gd"/>
<path d="M384.4 150.65l1.55 1.55l-1.55 1.55l-1.55 -1.55z" class="gd"/>
<path d="M386.4 150.65l1.55 1.55l-1.55 1.55l-1.55 -1.55z" class="gd"/>
<path d="M381.1 156.65l1.55 1.55l-1.55 1.55l-1.55 -1.55z" class="gd"/>
<path d="M382.5 155.25l1.55 1.55l-1.55 1.55l-1.55 -1.55z" class="gd"/>
<path d="M385.3 154.85l1.55 1.55l-1.55 1.55l-1.55 -1.55z" class="gd"/>
<path d="M384.4 160.35l1.55 1.55l-1.55 1.55l-1.55 -1.55z" class="gd"/>
<path d="M394.1 156.25l1.55 1.55l-1.55 1.55l-1.55 -1.55z" class="gd"/>
<path d="M398.2 152.55l1.55 1.55l-1.55 1.55l-1.55 -1.55z" class="gd"/>
<path d="M401.5 149.25l1.55 1.55l-1.55 1.55l-1.55 -1.55z" class="gd"/>
<path d="M405.2 155.25l1.55 1.55l-1.55 1.55l-1.55 -1.55z" class="gd"/>
<path d="M408 154.85l1.55 1.55l-1.55 1.55l-1.55 -1.55z" class="gd"/>
<path d="M404.7 158.55l1.55 1.55l-1.55 1.55l-1.55 -1.55z" class="gd"/>
<path d="M401.5 160.55l1.55 1.55l-1.55 1.55l-1.55 -1.55z" class="gd"/>
<path d="M393.6 162.25l1.55 1.55l-1.55 1.55l-1.55 -1.55z" class="gd"/>
<path d="M396.4 163.15l1.55 1.55l-1.55 1.55l-1.55 -1.55z" class="gd"/>
<path d="M398.7 164.05l1.55 1.55l-1.55 1.55l-1.55 -1.55z" class="gd"/>
<path d="M403.3 163.65l1.55 1.55l-1.55 1.55l-1.55 -1.55z" class="gd"/>
<path d="M390.4 165.45l1.55 1.55l-1.55 1.55l-1.55 -1.55z" class="gd"/>
<path d="M384.8 166.45l1.55 1.55l-1.55 1.55l-1.55 -1.55z" class="gd"/>
<path d="M386.7 166.45l1.55 1.55l-1.55 1.55l-1.55 -1.55z" class="gd"/>
<path d="M395.5 165.45l1.55 1.55l-1.55 1.55l-1.55 -1.55z" class="gd"/>
<path d="M398.2 166.45l1.55 1.55l-1.55 1.55l-1.55 -1.55z" class="gd"/>
<path d="M385.9 168.95l1.55 1.55l-1.55 1.55l-1.55 -1.55z" class="gd"/>
<path d="M383.7 169.55l1.55 1.55l-1.55 1.55l-1.55 -1.55z" class="gd"/>
<path d="M395.2 164.05l1.55 1.55l-1.55 1.55l-1.55 -1.55z" class="gd"/>
<path d="M398.4 170.05l1.55 1.55l-1.55 1.55l-1.55 -1.55z" class="gd"/>
<path d="M401.7 173.95l1.55 1.55l-1.55 1.55l-1.55 -1.55z" class="gd"/>
<path d="M405 170.65l1.55 1.55l-1.55 1.55l-1.55 -1.55z" class="gd"/>
<path d="M407.7 172.85l1.55 1.55l-1.55 1.55l-1.55 -1.55z" class="gd"/>
<path d="M383.7 177.15l1.55 1.55l-1.55 1.55l-1.55 -1.55z" class="gd"/>
<path d="M389.2 175.55l1.55 1.55l-1.55 1.55l-1.55 -1.55z" class="gd"/>
<path d="M382.1 180.45l1.55 1.55l-1.55 1.55l-1.55 -1.55z" class="gd"/>
<path d="M383.7 180.95l1.55 1.55l-1.55 1.55l-1.55 -1.55z" class="gd"/>
<path d="M398.4 177.75l1.55 1.55l-1.55 1.55l-1.55 -1.55z" class="gd"/>
<path d="M407.7 177.75l1.55 1.55l-1.55 1.55l-1.55 -1.55z" class="gd"/>
<path d="M393 184.85l1.55 1.55l-1.55 1.55l-1.55 -1.55z" class="gd"/>
<path d="M407.7 186.95l1.55 1.55l-1.55 1.55l-1.55 -1.55z" class="gd"/>
<path d="M405 188.65l1.55 1.55l-1.55 1.55l-1.55 -1.55z" class="gd"/>
<path d="M402.8 191.35l1.55 1.55l-1.55 1.55l-1.55 -1.55z" class="gd"/>
<path d="M383.2 193.25l1.55 1.55l-1.55 1.55l-1.55 -1.55z" class="gd"/>
<path d="M389.2 191.35l1.55 1.55l-1.55 1.55l-1.55 -1.55z" class="gd"/>
<path d="M390.8 191.35l1.55 1.55l-1.55 1.55l-1.55 -1.55z" class="gd"/>
<path d="M398.4 193.85l1.55 1.55l-1.55 1.55l-1.55 -1.55z" class="gd"/>
<path d="M411.4 151.85l1.55 1.55l-1.55 1.55l-1.55 -1.55z" class="gd"/>
<path d="M420.6 154.35l1.55 1.55l-1.55 1.55l-1.55 -1.55z" class="gd"/>
<path d="M422.5 156.65l1.55 1.55l-1.55 1.55l-1.55 -1.55z" class="gd"/>
<path d="M408.6 159.25l1.55 1.55l-1.55 1.55l-1.55 -1.55z" class="gd"/>
<path d="M409.5 160.85l1.55 1.55l-1.55 1.55l-1.55 -1.55z" class="gd"/>
<path d="M411.4 163.85l1.55 1.55l-1.55 1.55l-1.55 -1.55z" class="gd"/>
<path d="M417.4 163.85l1.55 1.55l-1.55 1.55l-1.55 -1.55z" class="gd"/>
<path d="M419.7 165.05l1.55 1.55l-1.55 1.55l-1.55 -1.55z" class="gd"/>
<path d="M423.8 163.65l1.55 1.55l-1.55 1.55l-1.55 -1.55z" class="gd"/>
<path d="M428.5 165.45l1.55 1.55l-1.55 1.55l-1.55 -1.55z" class="gd"/>
<path d="M419.4 166.85l1.55 1.55l-1.55 1.55l-1.55 -1.55z" class="gd"/>
<path d="M426 168.45l1.55 1.55l-1.55 1.55l-1.55 -1.55z" class="gd"/>
<path d="M428.7 168.95l1.55 1.55l-1.55 1.55l-1.55 -1.55z" class="gd"/>
<path d="M432 168.45l1.55 1.55l-1.55 1.55l-1.55 -1.55z" class="gd"/>
<path d="M408 170.05l1.55 1.55l-1.55 1.55l-1.55 -1.55z" class="gd"/>
<path d="M418.9 170.65l1.55 1.55l-1.55 1.55l-1.55 -1.55z" class="gd"/>
<path d="M422.2 172.25l1.55 1.55l-1.55 1.55l-1.55 -1.55z" class="gd"/>
<path d="M414.5 173.35l1.55 1.55l-1.55 1.55l-1.55 -1.55z" class="gd"/>
<path d="M416.7 174.45l1.55 1.55l-1.55 1.55l-1.55 -1.55z" class="gd"/>
<path d="M426.5 173.35l1.55 1.55l-1.55 1.55l-1.55 -1.55z" class="gd"/>
<path d="M429.8 172.25l1.55 1.55l-1.55 1.55l-1.55 -1.55z" class="gd"/>
<path d="M433.6 172.85l1.55 1.55l-1.55 1.55l-1.55 -1.55z" class="gd"/>
<path d="M434.7 174.95l1.55 1.55l-1.55 1.55l-1.55 -1.55z" class="gd"/>
<path d="M414 177.15l1.55 1.55l-1.55 1.55l-1.55 -1.55z" class="gd"/>
<path d="M411.3 180.95l1.55 1.55l-1.55 1.55l-1.55 -1.55z" class="gd"/>
<path d="M419.4 180.45l1.55 1.55l-1.55 1.55l-1.55 -1.55z" class="gd"/>
<path d="M415.6 183.15l1.55 1.55l-1.55 1.55l-1.55 -1.55z" class="gd"/>
<path d="M426.5 180.45l1.55 1.55l-1.55 1.55l-1.55 -1.55z" class="gd"/>
<path d="M430.3 182.05l1.55 1.55l-1.55 1.55l-1.55 -1.55z" class="gd"/>
<path d="M432 185.35l1.55 1.55l-1.55 1.55l-1.55 -1.55z" class="gd"/>
<path d="M412.9 188.45l1.55 1.55l-1.55 1.55l-1.55 -1.55z" class="gd"/>
<path d="M422.2 186.95l1.55 1.55l-1.55 1.55l-1.55 -1.55z" class="gd"/>
<path d="M434.7 189.75l1.55 1.55l-1.55 1.55l-1.55 -1.55z" class="gd"/>
<path d="M430.3 198.95l1.55 1.55l-1.55 1.55l-1.55 -1.55z" class="gd"/>
<path d="M432 197.85l1.55 1.55l-1.55 1.55l-1.55 -1.55z" class="gd"/>
<path d="M436.3 157.15l1.55 1.55l-1.55 1.55l-1.55 -1.55z" class="gd"/>
<path d="M436.3 159.25l1.55 1.55l-1.55 1.55l-1.55 -1.55z" class="gd"/>
<path d="M458.7 158.95l1.55 1.55l-1.55 1.55l-1.55 -1.55z" class="gd"/>
<path d="M455.8 161.15l1.55 1.55l-1.55 1.55l-1.55 -1.55z" class="gd"/>
<path d="M457.3 165.45l1.55 1.55l-1.55 1.55l-1.55 -1.55z" class="gd"/>
<path d="M444.8 167.75l1.55 1.55l-1.55 1.55l-1.55 -1.55z" class="gd"/>
<path d="M459.7 167.75l1.55 1.55l-1.55 1.55l-1.55 -1.55z" class="gd"/>
<path d="M434.4 171.75l1.55 1.55l-1.55 1.55l-1.55 -1.55z" class="gd"/>
<path d="M435 177.75l1.55 1.55l-1.55 1.55l-1.55 -1.55z" class="gd"/>
<path d="M439.9 176.65l1.55 1.55l-1.55 1.55l-1.55 -1.55z" class="gd"/>
<path d="M441 172.85l1.55 1.55l-1.55 1.55l-1.55 -1.55z" class="gd"/>
<path d="M443.2 171.15l1.55 1.55l-1.55 1.55l-1.55 -1.55z" class="gd"/>
<path d="M447.5 172.85l1.55 1.55l-1.55 1.55l-1.55 -1.55z" class="gd"/>
<path d="M450.8 169.55l1.55 1.55l-1.55 1.55l-1.55 -1.55z" class="gd"/>
<path d="M453.5 170.65l1.55 1.55l-1.55 1.55l-1.55 -1.55z" class="gd"/>
<path d="M456.2 167.35l1.55 1.55l-1.55 1.55l-1.55 -1.55z" class="gd"/>
<path d="M460.1 168.95l1.55 1.55l-1.55 1.55l-1.55 -1.55z" class="gd"/>
<path d="M460.6 170.65l1.55 1.55l-1.55 1.55l-1.55 -1.55z" class="gd"/>
<path d="M452.4 175.55l1.55 1.55l-1.55 1.55l-1.55 -1.55z" class="gd"/>
<path d="M445.9 182.05l1.55 1.55l-1.55 1.55l-1.55 -1.55z" class="gd"/>
<path d="M447.5 180.45l1.55 1.55l-1.55 1.55l-1.55 -1.55z" class="gd"/>
<path d="M449.2 178.85l1.55 1.55l-1.55 1.55l-1.55 -1.55z" class="gd"/>
<path d="M450.2 178.25l1.55 1.55l-1.55 1.55l-1.55 -1.55z" class="gd"/>
<path d="M453 182.65l1.55 1.55l-1.55 1.55l-1.55 -1.55z" class="gd"/>
<path d="M456.2 182.65l1.55 1.55l-1.55 1.55l-1.55 -1.55z" class="gd"/>
<path d="M455.7 184.85l1.55 1.55l-1.55 1.55l-1.55 -1.55z" class="gd"/>
<path d="M458.4 187.55l1.55 1.55l-1.55 1.55l-1.55 -1.55z" class="gd"/>
<path d="M459.5 184.85l1.55 1.55l-1.55 1.55l-1.55 -1.55z" class="gd"/>
<path d="M437.7 184.25l1.55 1.55l-1.55 1.55l-1.55 -1.55z" class="gd"/>
<path d="M441 188.65l1.55 1.55l-1.55 1.55l-1.55 -1.55z" class="gd"/>
<path d="M444.3 191.65l1.55 1.55l-1.55 1.55l-1.55 -1.55z" class="gd"/>
<path d="M449.2 188.05l1.55 1.55l-1.55 1.55l-1.55 -1.55z" class="gd"/>
<path d="M458.4 191.05l1.55 1.55l-1.55 1.55l-1.55 -1.55z" class="gd"/>
<path d="M457.3 194.25l1.55 1.55l-1.55 1.55l-1.55 -1.55z" class="gd"/>
<path d="M461.4 172.85l1.55 1.55l-1.55 1.55l-1.55 -1.55z" class="gd"/>
<path d="M464.7 170.05l1.55 1.55l-1.55 1.55l-1.55 -1.55z" class="gd"/>
<path d="M468 174.45l1.55 1.55l-1.55 1.55l-1.55 -1.55z" class="gd"/>
<path d="M472.9 170.05l1.55 1.55l-1.55 1.55l-1.55 -1.55z" class="gd"/>
<path d="M476.2 172.85l1.55 1.55l-1.55 1.55l-1.55 -1.55z" class="gd"/>
<path d="M476.2 177.15l1.55 1.55l-1.55 1.55l-1.55 -1.55z" class="gd"/>
<path d="M477.5 178.25l1.55 1.55l-1.55 1.55l-1.55 -1.55z" class="gd"/>
<path d="M482.5 180.45l1.55 1.55l-1.55 1.55l-1.55 -1.55z" class="gd"/>
<path d="M466.3 179.35l1.55 1.55l-1.55 1.55l-1.55 -1.55z" class="gd"/>
<path d="M460.3 186.95l1.55 1.55l-1.55 1.55l-1.55 -1.55z" class="gd"/>
<path d="M463.6 189.15l1.55 1.55l-1.55 1.55l-1.55 -1.55z" class="gd"/>
<path d="M479.4 188.65l1.55 1.55l-1.55 1.55l-1.55 -1.55z" class="gd"/>
<path d="M463.6 195.15l1.55 1.55l-1.55 1.55l-1.55 -1.55z" class="gd"/>
<path d="M480.9 160.85l1.55 1.55l-1.55 1.55l-1.55 -1.55z" class="gd"/>
<path d="M492.1 192.75l1.55 1.55l-1.55 1.55l-1.55 -1.55z" class="gd"/>
<rect x="380.8" y="181" width="3.2" height="3.2" class="rs"/>
<rect x="383.2" y="181" width="3.2" height="3.2" class="rs"/>
<rect x="382.1" y="193.2" width="3.2" height="3.2" class="rs"/>
<rect x="388.9" y="191.7" width="3.2" height="3.2" class="rs"/>
<rect x="397" y="193.7" width="3.2" height="3.2" class="rs"/>
<rect x="406.8" y="187" width="3.2" height="3.2" class="rs"/>
<rect x="411.5" y="188.3" width="3.2" height="3.2" class="rs"/>
<rect x="414.9" y="183.5" width="3.2" height="3.2" class="rs"/>
<rect x="420.8" y="187.1" width="3.2" height="3.2" class="rs"/>
<rect x="429" y="198.9" width="3.2" height="3.2" class="rs"/>
<rect x="430.2" y="184.8" width="3.2" height="3.2" class="rs"/>
<rect x="433.7" y="189.9" width="3.2" height="3.2" class="rs"/>
<rect x="443.3" y="191.9" width="3.2" height="3.2" class="rs"/>
<rect x="447.8" y="188.7" width="3.2" height="3.2" class="rs"/>
<rect x="454.1" y="184.5" width="3.2" height="3.2" class="rs"/>
<rect x="457.2" y="184.8" width="3.2" height="3.2" class="rs"/>
<rect x="459.6" y="184.5" width="3.2" height="3.2" class="rs"/>
<rect x="457.6" y="187.2" width="3.2" height="3.2" class="rs"/>
<rect x="462.1" y="189" width="3.2" height="3.2" class="rs"/>
<rect x="462.1" y="195.5" width="3.2" height="3.2" class="rs"/>
<circle cx="394.3" cy="157.4" r="1.55" fill="#20a030"/>
<circle cx="409.9" cy="161.6" r="1.55" fill="#20a030"/>
<circle cx="390.8" cy="166.6" r="1.55" fill="#20a030"/>
<circle cx="420.5" cy="166.6" r="1.55" fill="#20a030"/>
<circle cx="433.8" cy="176.3" r="1.55" fill="#20a030"/>
<circle cx="448" cy="181.3" r="1.55" fill="#20a030"/>
<circle cx="481.7" cy="162.4" r="1.55" fill="#20a030"/>
<circle cx="455.9" cy="169.1" r="1.55" fill="#20a030"/>
<circle cx="460.2" cy="170" r="1.55" fill="#20a030"/>
<circle cx="454.1" cy="172.2" r="1.55" fill="#20a030"/>
<circle cx="473.1" cy="171.5" r="1.55" fill="#20a030"/>
<circle cx="452.3" cy="184.2" r="1.55" fill="#20a030"/>
<circle cx="466.7" cy="180.5" r="1.55" fill="#20a030"/>
<circle cx="482.3" cy="181.7" r="1.55" fill="#20a030"/>
<circle cx="479.2" cy="190.5" r="1.55" fill="#20a030"/>
<circle cx="457.2" cy="195.4" r="1.55" fill="#20a030"/>
<circle cx="458.4" cy="184.4" r="1.55" fill="#20a030"/>
<path d="M381.2 148.7 387.56 149.72 393.91 150.72 400.27 151.72 406.62 152.71 412.98 153.7 419.34 154.67 425.69 155.64 432.05 156.61 438.4 157.56 444.76 158.51 451.12 159.46 457.47 160.39 463.83 161.32 470.18 162.24 476.54 163.16 482.9 164.06 489.25 164.96 495.61 165.86 501.96 166.74 508.32 167.62" class="cv"/>
<path d="M381.2 149.64 387.56 150.78 393.91 151.91 400.27 153.03 406.62 154.14 412.98 155.24 419.34 156.33 425.69 157.41 432.05 158.48 438.4 159.55 444.76 160.6 451.12 161.65 457.47 162.69 463.83 163.71 470.18 164.73 476.54 165.74 482.9 166.74 489.25 167.73 495.61 168.72 501.96 169.69 508.32 170.65" class="cv"/>
<path d="M381.2 153.95 387.56 155.11 393.91 156.27 400.27 157.43 406.62 158.59 412.98 159.74 419.34 160.9 425.69 162.06 432.05 163.21 438.4 164.37 444.76 165.52 451.12 166.67 457.47 167.83 463.83 168.98 470.18 170.13 476.54 171.28 482.9 172.43 489.25 173.58 495.61 174.73 501.96 175.88 508.32 177.03" class="cv"/>
<path d="M381.2 159.55 387.56 160.45 393.91 161.35 400.27 162.27 406.62 163.2 412.98 164.13 419.34 165.08 425.69 166.04 432.05 167 438.4 167.98 444.76 168.97 451.12 169.96 457.47 170.97 463.83 171.98 470.18 173.01 476.54 174.04 482.9 175.08 489.25 176.14 495.61 177.2 501.96 178.28 508.32 179.36" class="cv"/>
<path d="M381.2 166.03 387.56 166.48 393.91 166.97 400.27 167.49 406.62 168.05 412.98 168.65 419.34 169.29 425.69 169.96 432.05 170.67 438.4 171.41 444.76 172.2 451.12 173.02 457.47 173.87 463.83 174.77 470.18 175.7 476.54 176.66 482.9 177.67 489.25 178.71 495.61 179.79 501.96 180.9 508.32 182.05" class="cv"/>
<path d="M381.2 170.32 387.56 170.68 393.91 171.1 400.27 171.56 406.62 172.07 412.98 172.62 419.34 173.22 425.69 173.88 432.05 174.57 438.4 175.32 444.76 176.11 451.12 176.96 457.47 177.85 463.83 178.78 470.18 179.77 476.54 180.8 482.9 181.88 489.25 183.01 495.61 184.18 501.96 185.4 508.32 186.67" class="cv"/>
<path d="M381.2 172.66 387.56 173.07 393.91 173.54 400.27 174.05 406.62 174.62 412.98 175.24 419.34 175.91 425.69 176.63 432.05 177.41 438.4 178.23 444.76 179.11 451.12 180.04 457.47 181.02 463.83 182.05 470.18 183.14 476.54 184.27 482.9 185.46 489.25 186.7 495.61 187.99 501.96 189.33 508.32 190.73" class="cv"/>
<text x="0.6" y="262.2" class="let">G</text>
<text x="93" y="266.7" class="tit">PNH</text>
<path d="M30.5 263.7V342.9H157.62" class="axis"/>
<path d="M27.9 342.9h2.6M27.9 324.9h2.6M27.9 306.9h2.6M27.9 288.9h2.6M27.9 270.9h2.6M30.5 342.9v2M46.39 342.9v2M62.28 342.9v2M78.17 342.9v2M94.06 342.9v2M109.95 342.9v2M125.84 342.9v2M141.73 342.9v2M157.62 342.9v2" class="axis"/>
<text x="26" y="345" class="yt">0</text>
<text x="26" y="327" class="yt">5</text>
<text x="26" y="309" class="yt">10</text>
<text x="26" y="291" class="yt">15</text>
<text x="26" y="273" class="yt">20</text>
<text x="30.5" y="354.1" class="xt">0</text>
<text x="46.39" y="354.1" class="xt">10</text>
<text x="62.28" y="354.1" class="xt">20</text>
<text x="78.17" y="354.1" class="xt">30</text>
<text x="94.06" y="354.1" class="xt">40</text>
<text x="109.95" y="354.1" class="xt">50</text>
<text x="125.84" y="354.1" class="xt">60</text>
<text x="141.73" y="354.1" class="xt">70</text>
<text x="157.62" y="354.1" class="xt">80</text>
<text transform="translate(6.2 302.5) rotate(-90)" class="yl">Telomere length</text>
<text transform="translate(13.1 302.5) rotate(-90)" class="yl">(% 4n cell line)</text>
<text x="93.8" y="365.5" class="xl">Age (years)</text>
<path d="M30.4 263.35l1.55 1.55l-1.55 1.55l-1.55 -1.55z" class="gd"/>
<path d="M31.3 268.15l1.55 1.55l-1.55 1.55l-1.55 -1.55z" class="gd"/>
<path d="M31.3 272.85l1.55 1.55l-1.55 1.55l-1.55 -1.55z" class="gd"/>
<path d="M33.7 275.35l1.55 1.55l-1.55 1.55l-1.55 -1.55z" class="gd"/>
<path d="M35.7 275.35l1.55 1.55l-1.55 1.55l-1.55 -1.55z" class="gd"/>
<path d="M30.4 281.35l1.55 1.55l-1.55 1.55l-1.55 -1.55z" class="gd"/>
<path d="M31.8 279.95l1.55 1.55l-1.55 1.55l-1.55 -1.55z" class="gd"/>
<path d="M34.6 279.55l1.55 1.55l-1.55 1.55l-1.55 -1.55z" class="gd"/>
<path d="M33.7 285.05l1.55 1.55l-1.55 1.55l-1.55 -1.55z" class="gd"/>
<path d="M43.4 280.95l1.55 1.55l-1.55 1.55l-1.55 -1.55z" class="gd"/>
<path d="M47.5 277.25l1.55 1.55l-1.55 1.55l-1.55 -1.55z" class="gd"/>
<path d="M50.8 273.95l1.55 1.55l-1.55 1.55l-1.55 -1.55z" class="gd"/>
<path d="M54.5 279.95l1.55 1.55l-1.55 1.55l-1.55 -1.55z" class="gd"/>
<path d="M57.3 279.55l1.55 1.55l-1.55 1.55l-1.55 -1.55z" class="gd"/>
<path d="M54 283.25l1.55 1.55l-1.55 1.55l-1.55 -1.55z" class="gd"/>
<path d="M50.8 285.25l1.55 1.55l-1.55 1.55l-1.55 -1.55z" class="gd"/>
<path d="M42.9 286.95l1.55 1.55l-1.55 1.55l-1.55 -1.55z" class="gd"/>
<path d="M45.7 287.85l1.55 1.55l-1.55 1.55l-1.55 -1.55z" class="gd"/>
<path d="M48 288.75l1.55 1.55l-1.55 1.55l-1.55 -1.55z" class="gd"/>
<path d="M52.6 288.35l1.55 1.55l-1.55 1.55l-1.55 -1.55z" class="gd"/>
<path d="M39.7 290.15l1.55 1.55l-1.55 1.55l-1.55 -1.55z" class="gd"/>
<path d="M34.1 291.15l1.55 1.55l-1.55 1.55l-1.55 -1.55z" class="gd"/>
<path d="M36 291.15l1.55 1.55l-1.55 1.55l-1.55 -1.55z" class="gd"/>
<path d="M44.8 290.15l1.55 1.55l-1.55 1.55l-1.55 -1.55z" class="gd"/>
<path d="M47.5 291.15l1.55 1.55l-1.55 1.55l-1.55 -1.55z" class="gd"/>
<path d="M35.2 293.65l1.55 1.55l-1.55 1.55l-1.55 -1.55z" class="gd"/>
<path d="M33 294.25l1.55 1.55l-1.55 1.55l-1.55 -1.55z" class="gd"/>
<path d="M44.5 288.75l1.55 1.55l-1.55 1.55l-1.55 -1.55z" class="gd"/>
<path d="M47.7 294.75l1.55 1.55l-1.55 1.55l-1.55 -1.55z" class="gd"/>
<path d="M51 298.65l1.55 1.55l-1.55 1.55l-1.55 -1.55z" class="gd"/>
<path d="M54.3 295.35l1.55 1.55l-1.55 1.55l-1.55 -1.55z" class="gd"/>
<path d="M57 297.55l1.55 1.55l-1.55 1.55l-1.55 -1.55z" class="gd"/>
<path d="M33 301.85l1.55 1.55l-1.55 1.55l-1.55 -1.55z" class="gd"/>
<path d="M38.5 300.25l1.55 1.55l-1.55 1.55l-1.55 -1.55z" class="gd"/>
<path d="M31.4 305.15l1.55 1.55l-1.55 1.55l-1.55 -1.55z" class="gd"/>
<path d="M33 305.65l1.55 1.55l-1.55 1.55l-1.55 -1.55z" class="gd"/>
<path d="M47.7 302.45l1.55 1.55l-1.55 1.55l-1.55 -1.55z" class="gd"/>
<path d="M57 302.45l1.55 1.55l-1.55 1.55l-1.55 -1.55z" class="gd"/>
<path d="M42.3 309.55l1.55 1.55l-1.55 1.55l-1.55 -1.55z" class="gd"/>
<path d="M57 311.65l1.55 1.55l-1.55 1.55l-1.55 -1.55z" class="gd"/>
<path d="M54.3 313.35l1.55 1.55l-1.55 1.55l-1.55 -1.55z" class="gd"/>
<path d="M52.1 316.05l1.55 1.55l-1.55 1.55l-1.55 -1.55z" class="gd"/>
<path d="M32.5 317.95l1.55 1.55l-1.55 1.55l-1.55 -1.55z" class="gd"/>
<path d="M38.5 316.05l1.55 1.55l-1.55 1.55l-1.55 -1.55z" class="gd"/>
<path d="M40.1 316.05l1.55 1.55l-1.55 1.55l-1.55 -1.55z" class="gd"/>
<path d="M47.7 318.55l1.55 1.55l-1.55 1.55l-1.55 -1.55z" class="gd"/>
<path d="M60.7 276.55l1.55 1.55l-1.55 1.55l-1.55 -1.55z" class="gd"/>
<path d="M69.9 279.05l1.55 1.55l-1.55 1.55l-1.55 -1.55z" class="gd"/>
<path d="M71.8 281.35l1.55 1.55l-1.55 1.55l-1.55 -1.55z" class="gd"/>
<path d="M57.9 283.95l1.55 1.55l-1.55 1.55l-1.55 -1.55z" class="gd"/>
<path d="M58.8 285.55l1.55 1.55l-1.55 1.55l-1.55 -1.55z" class="gd"/>
<path d="M60.7 288.55l1.55 1.55l-1.55 1.55l-1.55 -1.55z" class="gd"/>
<path d="M66.7 288.55l1.55 1.55l-1.55 1.55l-1.55 -1.55z" class="gd"/>
<path d="M69 289.75l1.55 1.55l-1.55 1.55l-1.55 -1.55z" class="gd"/>
<path d="M73.1 288.35l1.55 1.55l-1.55 1.55l-1.55 -1.55z" class="gd"/>
<path d="M77.8 290.15l1.55 1.55l-1.55 1.55l-1.55 -1.55z" class="gd"/>
<path d="M68.7 291.55l1.55 1.55l-1.55 1.55l-1.55 -1.55z" class="gd"/>
<path d="M75.3 293.15l1.55 1.55l-1.55 1.55l-1.55 -1.55z" class="gd"/>
<path d="M78 293.65l1.55 1.55l-1.55 1.55l-1.55 -1.55z" class="gd"/>
<path d="M81.3 293.15l1.55 1.55l-1.55 1.55l-1.55 -1.55z" class="gd"/>
<path d="M57.3 294.75l1.55 1.55l-1.55 1.55l-1.55 -1.55z" class="gd"/>
<path d="M68.2 295.35l1.55 1.55l-1.55 1.55l-1.55 -1.55z" class="gd"/>
<path d="M71.5 296.95l1.55 1.55l-1.55 1.55l-1.55 -1.55z" class="gd"/>
<path d="M63.8 298.05l1.55 1.55l-1.55 1.55l-1.55 -1.55z" class="gd"/>
<path d="M66 299.15l1.55 1.55l-1.55 1.55l-1.55 -1.55z" class="gd"/>
<path d="M75.8 298.05l1.55 1.55l-1.55 1.55l-1.55 -1.55z" class="gd"/>
<path d="M79.1 296.95l1.55 1.55l-1.55 1.55l-1.55 -1.55z" class="gd"/>
<path d="M82.9 297.55l1.55 1.55l-1.55 1.55l-1.55 -1.55z" class="gd"/>
<path d="M84 299.65l1.55 1.55l-1.55 1.55l-1.55 -1.55z" class="gd"/>
<path d="M63.3 301.85l1.55 1.55l-1.55 1.55l-1.55 -1.55z" class="gd"/>
<path d="M60.6 305.65l1.55 1.55l-1.55 1.55l-1.55 -1.55z" class="gd"/>
<path d="M68.7 305.15l1.55 1.55l-1.55 1.55l-1.55 -1.55z" class="gd"/>
<path d="M64.9 307.85l1.55 1.55l-1.55 1.55l-1.55 -1.55z" class="gd"/>
<path d="M75.8 305.15l1.55 1.55l-1.55 1.55l-1.55 -1.55z" class="gd"/>
<path d="M79.6 306.75l1.55 1.55l-1.55 1.55l-1.55 -1.55z" class="gd"/>
<path d="M81.3 310.05l1.55 1.55l-1.55 1.55l-1.55 -1.55z" class="gd"/>
<path d="M62.2 313.15l1.55 1.55l-1.55 1.55l-1.55 -1.55z" class="gd"/>
<path d="M71.5 311.65l1.55 1.55l-1.55 1.55l-1.55 -1.55z" class="gd"/>
<path d="M84 314.45l1.55 1.55l-1.55 1.55l-1.55 -1.55z" class="gd"/>
<path d="M79.6 323.65l1.55 1.55l-1.55 1.55l-1.55 -1.55z" class="gd"/>
<path d="M81.3 322.55l1.55 1.55l-1.55 1.55l-1.55 -1.55z" class="gd"/>
<path d="M85.6 281.85l1.55 1.55l-1.55 1.55l-1.55 -1.55z" class="gd"/>
<path d="M85.6 283.95l1.55 1.55l-1.55 1.55l-1.55 -1.55z" class="gd"/>
<path d="M108 283.65l1.55 1.55l-1.55 1.55l-1.55 -1.55z" class="gd"/>
<path d="M105.1 285.85l1.55 1.55l-1.55 1.55l-1.55 -1.55z" class="gd"/>
<path d="M106.6 290.15l1.55 1.55l-1.55 1.55l-1.55 -1.55z" class="gd"/>
<path d="M94.1 292.45l1.55 1.55l-1.55 1.55l-1.55 -1.55z" class="gd"/>
<path d="M109 292.45l1.55 1.55l-1.55 1.55l-1.55 -1.55z" class="gd"/>
<path d="M83.7 296.45l1.55 1.55l-1.55 1.55l-1.55 -1.55z" class="gd"/>
<path d="M84.3 302.45l1.55 1.55l-1.55 1.55l-1.55 -1.55z" class="gd"/>
<path d="M89.2 301.35l1.55 1.55l-1.55 1.55l-1.55 -1.55z" class="gd"/>
<path d="M90.3 297.55l1.55 1.55l-1.55 1.55l-1.55 -1.55z" class="gd"/>
<path d="M92.5 295.85l1.55 1.55l-1.55 1.55l-1.55 -1.55z" class="gd"/>
<path d="M96.8 297.55l1.55 1.55l-1.55 1.55l-1.55 -1.55z" class="gd"/>
<path d="M100.1 294.25l1.55 1.55l-1.55 1.55l-1.55 -1.55z" class="gd"/>
<path d="M102.8 295.35l1.55 1.55l-1.55 1.55l-1.55 -1.55z" class="gd"/>
<path d="M105.5 292.05l1.55 1.55l-1.55 1.55l-1.55 -1.55z" class="gd"/>
<path d="M109.4 293.65l1.55 1.55l-1.55 1.55l-1.55 -1.55z" class="gd"/>
<path d="M109.9 295.35l1.55 1.55l-1.55 1.55l-1.55 -1.55z" class="gd"/>
<path d="M101.7 300.25l1.55 1.55l-1.55 1.55l-1.55 -1.55z" class="gd"/>
<path d="M95.2 306.75l1.55 1.55l-1.55 1.55l-1.55 -1.55z" class="gd"/>
<path d="M96.8 305.15l1.55 1.55l-1.55 1.55l-1.55 -1.55z" class="gd"/>
<path d="M98.5 303.55l1.55 1.55l-1.55 1.55l-1.55 -1.55z" class="gd"/>
<path d="M99.5 302.95l1.55 1.55l-1.55 1.55l-1.55 -1.55z" class="gd"/>
<path d="M102.3 307.35l1.55 1.55l-1.55 1.55l-1.55 -1.55z" class="gd"/>
<path d="M105.5 307.35l1.55 1.55l-1.55 1.55l-1.55 -1.55z" class="gd"/>
<path d="M105 309.55l1.55 1.55l-1.55 1.55l-1.55 -1.55z" class="gd"/>
<path d="M107.7 312.25l1.55 1.55l-1.55 1.55l-1.55 -1.55z" class="gd"/>
<path d="M108.8 309.55l1.55 1.55l-1.55 1.55l-1.55 -1.55z" class="gd"/>
<path d="M87 308.95l1.55 1.55l-1.55 1.55l-1.55 -1.55z" class="gd"/>
<path d="M90.3 313.35l1.55 1.55l-1.55 1.55l-1.55 -1.55z" class="gd"/>
<path d="M93.6 316.35l1.55 1.55l-1.55 1.55l-1.55 -1.55z" class="gd"/>
<path d="M98.5 312.75l1.55 1.55l-1.55 1.55l-1.55 -1.55z" class="gd"/>
<path d="M107.7 315.75l1.55 1.55l-1.55 1.55l-1.55 -1.55z" class="gd"/>
<path d="M106.6 318.95l1.55 1.55l-1.55 1.55l-1.55 -1.55z" class="gd"/>
<path d="M110.7 297.55l1.55 1.55l-1.55 1.55l-1.55 -1.55z" class="gd"/>
<path d="M114 294.75l1.55 1.55l-1.55 1.55l-1.55 -1.55z" class="gd"/>
<path d="M117.3 299.15l1.55 1.55l-1.55 1.55l-1.55 -1.55z" class="gd"/>
<path d="M122.2 294.75l1.55 1.55l-1.55 1.55l-1.55 -1.55z" class="gd"/>
<path d="M125.5 297.55l1.55 1.55l-1.55 1.55l-1.55 -1.55z" class="gd"/>
<path d="M125.5 301.85l1.55 1.55l-1.55 1.55l-1.55 -1.55z" class="gd"/>
<path d="M126.8 302.95l1.55 1.55l-1.55 1.55l-1.55 -1.55z" class="gd"/>
<path d="M131.8 305.15l1.55 1.55l-1.55 1.55l-1.55 -1.55z" class="gd"/>
<path d="M115.6 304.05l1.55 1.55l-1.55 1.55l-1.55 -1.55z" class="gd"/>
<path d="M109.6 311.65l1.55 1.55l-1.55 1.55l-1.55 -1.55z" class="gd"/>
<path d="M112.9 313.85l1.55 1.55l-1.55 1.55l-1.55 -1.55z" class="gd"/>
<path d="M128.7 313.35l1.55 1.55l-1.55 1.55l-1.55 -1.55z" class="gd"/>
<path d="M112.9 319.85l1.55 1.55l-1.55 1.55l-1.55 -1.55z" class="gd"/>
<path d="M130.2 285.55l1.55 1.55l-1.55 1.55l-1.55 -1.55z" class="gd"/>
<path d="M141.4 317.45l1.55 1.55l-1.55 1.55l-1.55 -1.55z" class="gd"/>
<rect x="30.1" y="305.7" width="3.2" height="3.2" class="rs"/>
<rect x="32.5" y="305.7" width="3.2" height="3.2" class="rs"/>
<rect x="31.4" y="317.9" width="3.2" height="3.2" class="rs"/>
<rect x="38.2" y="316.4" width="3.2" height="3.2" class="rs"/>
<rect x="46.3" y="318.4" width="3.2" height="3.2" class="rs"/>
<rect x="56.1" y="311.7" width="3.2" height="3.2" class="rs"/>
<rect x="60.8" y="313" width="3.2" height="3.2" class="rs"/>
<rect x="64.2" y="308.2" width="3.2" height="3.2" class="rs"/>
<rect x="70.1" y="311.8" width="3.2" height="3.2" class="rs"/>
<rect x="78.3" y="323.6" width="3.2" height="3.2" class="rs"/>
<rect x="79.5" y="309.5" width="3.2" height="3.2" class="rs"/>
<rect x="83" y="314.6" width="3.2" height="3.2" class="rs"/>
<rect x="92.6" y="316.6" width="3.2" height="3.2" class="rs"/>
<rect x="97.1" y="313.4" width="3.2" height="3.2" class="rs"/>
<rect x="103.4" y="309.2" width="3.2" height="3.2" class="rs"/>
<rect x="106.5" y="309.5" width="3.2" height="3.2" class="rs"/>
<rect x="108.9" y="309.2" width="3.2" height="3.2" class="rs"/>
<rect x="106.9" y="311.9" width="3.2" height="3.2" class="rs"/>
<rect x="111.4" y="313.7" width="3.2" height="3.2" class="rs"/>
<rect x="111.4" y="320.2" width="3.2" height="3.2" class="rs"/>
<circle cx="69.7" cy="280.6" r="1.55" fill="#700018"/>
<circle cx="85.7" cy="283.3" r="1.55" fill="#700018"/>
<circle cx="73.3" cy="289.8" r="1.55" fill="#700018"/>
<circle cx="68" cy="293" r="1.55" fill="#700018"/>
<circle cx="69.7" cy="293" r="1.55" fill="#700018"/>
<circle cx="76.8" cy="294.2" r="1.55" fill="#700018"/>
<circle cx="77.7" cy="293.4" r="1.55" fill="#700018"/>
<circle cx="54.2" cy="297.7" r="1.55" fill="#700018"/>
<circle cx="69.7" cy="298.7" r="1.55" fill="#700018"/>
<circle cx="83" cy="298.7" r="1.55" fill="#700018"/>
<circle cx="83.9" cy="300.1" r="1.55" fill="#700018"/>
<circle cx="79.5" cy="303.1" r="1.55" fill="#700018"/>
<circle cx="83.9" cy="304.3" r="1.55" fill="#700018"/>
<circle cx="90.1" cy="299" r="1.55" fill="#700018"/>
<circle cx="91.9" cy="297.8" r="1.55" fill="#700018"/>
<circle cx="98.1" cy="304.9" r="1.55" fill="#700018"/>
<circle cx="109.6" cy="296.9" r="1.55" fill="#700018"/>
<circle cx="114" cy="296.9" r="1.55" fill="#700018"/>
<circle cx="117.1" cy="300.4" r="1.55" fill="#700018"/>
<circle cx="125.6" cy="298.7" r="1.55" fill="#700018"/>
<circle cx="125.9" cy="303.1" r="1.55" fill="#700018"/>
<circle cx="141.5" cy="318.4" r="1.55" fill="#700018"/>
<path d="M30.5 273.4 36.86 274.42 43.21 275.42 49.57 276.42 55.92 277.41 62.28 278.4 68.64 279.37 74.99 280.34 81.35 281.31 87.7 282.26 94.06 283.21 100.42 284.16 106.77 285.09 113.13 286.02 119.48 286.94 125.84 287.86 132.2 288.76 138.55 289.66 144.91 290.56 151.26 291.44 157.62 292.32" class="cv"/>
<path d="M30.5 274.34 36.86 275.48 43.21 276.61 49.57 277.73 55.92 278.84 62.28 279.94 68.64 281.03 74.99 282.11 81.35 283.18 87.7 284.25 94.06 285.3 100.42 286.35 106.77 287.39 113.13 288.41 119.48 289.43 125.84 290.44 132.2 291.44 138.55 292.43 144.91 293.42 151.26 294.39 157.62 295.35" class="cv"/>
<path d="M30.5 278.65 36.86 279.81 43.21 280.97 49.57 282.13 55.92 283.29 62.28 284.44 68.64 285.6 74.99 286.76 81.35 287.91 87.7 289.07 94.06 290.22 100.42 291.37 106.77 292.53 113.13 293.68 119.48 294.83 125.84 295.98 132.2 297.13 138.55 298.28 144.91 299.43 151.26 300.58 157.62 301.73" class="cv"/>
<path d="M30.5 284.25 36.86 285.15 43.21 286.05 49.57 286.97 55.92 287.9 62.28 288.83 68.64 289.78 74.99 290.74 81.35 291.7 87.7 292.68 94.06 293.67 100.42 294.66 106.77 295.67 113.13 296.68 119.48 297.71 125.84 298.74 132.2 299.78 138.55 300.84 144.91 301.9 151.26 302.98 157.62 304.06" class="cv"/>
<path d="M30.5 290.73 36.86 291.18 43.21 291.67 49.57 292.19 55.92 292.75 62.28 293.35 68.64 293.99 74.99 294.66 81.35 295.37 87.7 296.11 94.06 296.9 100.42 297.72 106.77 298.57 113.13 299.47 119.48 300.4 125.84 301.36 132.2 302.37 138.55 303.41 144.91 304.49 151.26 305.6 157.62 306.75" class="cv"/>
<path d="M30.5 295.02 36.86 295.38 43.21 295.8 49.57 296.26 55.92 296.77 62.28 297.32 68.64 297.92 74.99 298.58 81.35 299.27 87.7 300.02 94.06 300.81 100.42 301.66 106.77 302.55 113.13 303.48 119.48 304.47 125.84 305.5 132.2 306.58 138.55 307.71 144.91 308.88 151.26 310.1 157.62 311.37" class="cv"/>
<path d="M30.5 297.36 36.86 297.77 43.21 298.24 49.57 298.75 55.92 299.32 62.28 299.94 68.64 300.61 74.99 301.33 81.35 302.11 87.7 302.93 94.06 303.81 100.42 304.74 106.77 305.72 113.13 306.75 119.48 307.84 125.84 308.97 132.2 310.16 138.55 311.4 144.91 312.69 151.26 314.03 157.62 315.43" class="cv"/>
<text x="176" y="262.4" class="let">H</text>
<text x="258.5" y="267.6" class="tit">AA</text>
<path d="M207.4 263.7V342.9H334.52" class="axis"/>
<path d="M204.8 342.9h2.6M204.8 324.9h2.6M204.8 306.9h2.6M204.8 288.9h2.6M204.8 270.9h2.6M207.4 342.9v2M223.29 342.9v2M239.18 342.9v2M255.07 342.9v2M270.96 342.9v2M286.85 342.9v2M302.74 342.9v2M318.63 342.9v2M334.52 342.9v2" class="axis"/>
<text x="202.9" y="345" class="yt">0</text>
<text x="202.9" y="327" class="yt">5</text>
<text x="202.9" y="309" class="yt">10</text>
<text x="202.9" y="291" class="yt">15</text>
<text x="202.9" y="273" class="yt">20</text>
<text x="207.4" y="354.1" class="xt">0</text>
<text x="223.29" y="354.1" class="xt">10</text>
<text x="239.18" y="354.1" class="xt">20</text>
<text x="255.07" y="354.1" class="xt">30</text>
<text x="270.96" y="354.1" class="xt">40</text>
<text x="286.85" y="354.1" class="xt">50</text>
<text x="302.74" y="354.1" class="xt">60</text>
<text x="318.63" y="354.1" class="xt">70</text>
<text x="334.52" y="354.1" class="xt">80</text>
<text transform="translate(183.1 302.5) rotate(-90)" class="yl">Telomere length</text>
<text transform="translate(190 302.5) rotate(-90)" class="yl">(% 4n cell line)</text>
<text x="270.7" y="365.5" class="xl">Age (years)</text>
<path d="M207.3 263.35l1.55 1.55l-1.55 1.55l-1.55 -1.55z" class="gd"/>
<path d="M208.2 268.15l1.55 1.55l-1.55 1.55l-1.55 -1.55z" class="gd"/>
<path d="M208.2 272.85l1.55 1.55l-1.55 1.55l-1.55 -1.55z" class="gd"/>
<path d="M210.6 275.35l1.55 1.55l-1.55 1.55l-1.55 -1.55z" class="gd"/>
<path d="M212.6 275.35l1.55 1.55l-1.55 1.55l-1.55 -1.55z" class="gd"/>
<path d="M207.3 281.35l1.55 1.55l-1.55 1.55l-1.55 -1.55z" class="gd"/>
<path d="M208.7 279.95l1.55 1.55l-1.55 1.55l-1.55 -1.55z" class="gd"/>
<path d="M211.5 279.55l1.55 1.55l-1.55 1.55l-1.55 -1.55z" class="gd"/>
<path d="M210.6 285.05l1.55 1.55l-1.55 1.55l-1.55 -1.55z" class="gd"/>
<path d="M220.3 280.95l1.55 1.55l-1.55 1.55l-1.55 -1.55z" class="gd"/>
<path d="M224.4 277.25l1.55 1.55l-1.55 1.55l-1.55 -1.55z" class="gd"/>
<path d="M227.7 273.95l1.55 1.55l-1.55 1.55l-1.55 -1.55z" class="gd"/>
<path d="M231.4 279.95l1.55 1.55l-1.55 1.55l-1.55 -1.55z" class="gd"/>
<path d="M234.2 279.55l1.55 1.55l-1.55 1.55l-1.55 -1.55z" class="gd"/>
<path d="M230.9 283.25l1.55 1.55l-1.55 1.55l-1.55 -1.55z" class="gd"/>
<path d="M227.7 285.25l1.55 1.55l-1.55 1.55l-1.55 -1.55z" class="gd"/>
<path d="M219.8 286.95l1.55 1.55l-1.55 1.55l-1.55 -1.55z" class="gd"/>
<path d="M222.6 287.85l1.55 1.55l-1.55 1.55l-1.55 -1.55z" class="gd"/>
<path d="M224.9 288.75l1.55 1.55l-1.55 1.55l-1.55 -1.55z" class="gd"/>
<path d="M229.5 288.35l1.55 1.55l-1.55 1.55l-1.55 -1.55z" class="gd"/>
<path d="M216.6 290.15l1.55 1.55l-1.55 1.55l-1.55 -1.55z" class="gd"/>
<path d="M211 291.15l1.55 1.55l-1.55 1.55l-1.55 -1.55z" class="gd"/>
<path d="M212.9 291.15l1.55 1.55l-1.55 1.55l-1.55 -1.55z" class="gd"/>
<path d="M221.7 290.15l1.55 1.55l-1.55 1.55l-1.55 -1.55z" class="gd"/>
<path d="M224.4 291.15l1.55 1.55l-1.55 1.55l-1.55 -1.55z" class="gd"/>
<path d="M212.1 293.65l1.55 1.55l-1.55 1.55l-1.55 -1.55z" class="gd"/>
<path d="M209.9 294.25l1.55 1.55l-1.55 1.55l-1.55 -1.55z" class="gd"/>
<path d="M221.4 288.75l1.55 1.55l-1.55 1.55l-1.55 -1.55z" class="gd"/>
<path d="M224.6 294.75l1.55 1.55l-1.55 1.55l-1.55 -1.55z" class="gd"/>
<path d="M227.9 298.65l1.55 1.55l-1.55 1.55l-1.55 -1.55z" class="gd"/>
<path d="M231.2 295.35l1.55 1.55l-1.55 1.55l-1.55 -1.55z" class="gd"/>
<path d="M233.9 297.55l1.55 1.55l-1.55 1.55l-1.55 -1.55z" class="gd"/>
<path d="M209.9 301.85l1.55 1.55l-1.55 1.55l-1.55 -1.55z" class="gd"/>
<path d="M215.4 300.25l1.55 1.55l-1.55 1.55l-1.55 -1.55z" class="gd"/>
<path d="M208.3 305.15l1.55 1.55l-1.55 1.55l-1.55 -1.55z" class="gd"/>
<path d="M209.9 305.65l1.55 1.55l-1.55 1.55l-1.55 -1.55z" class="gd"/>
<path d="M224.6 302.45l1.55 1.55l-1.55 1.55l-1.55 -1.55z" class="gd"/>
<path d="M233.9 302.45l1.55 1.55l-1.55 1.55l-1.55 -1.55z" class="gd"/>
<path d="M219.2 309.55l1.55 1.55l-1.55 1.55l-1.55 -1.55z" class="gd"/>
<path d="M233.9 311.65l1.55 1.55l-1.55 1.55l-1.55 -1.55z" class="gd"/>
<path d="M231.2 313.35l1.55 1.55l-1.55 1.55l-1.55 -1.55z" class="gd"/>
<path d="M229 316.05l1.55 1.55l-1.55 1.55l-1.55 -1.55z" class="gd"/>
<path d="M209.4 317.95l1.55 1.55l-1.55 1.55l-1.55 -1.55z" class="gd"/>
<path d="M215.4 316.05l1.55 1.55l-1.55 1.55l-1.55 -1.55z" class="gd"/>
<path d="M217 316.05l1.55 1.55l-1.55 1.55l-1.55 -1.55z" class="gd"/>
<path d="M224.6 318.55l1.55 1.55l-1.55 1.55l-1.55 -1.55z" class="gd"/>
<path d="M237.6 276.55l1.55 1.55l-1.55 1.55l-1.55 -1.55z" class="gd"/>
<path d="M246.8 279.05l1.55 1.55l-1.55 1.55l-1.55 -1.55z" class="gd"/>
<path d="M248.7 281.35l1.55 1.55l-1.55 1.55l-1.55 -1.55z" class="gd"/>
<path d="M234.8 283.95l1.55 1.55l-1.55 1.55l-1.55 -1.55z" class="gd"/>
<path d="M235.7 285.55l1.55 1.55l-1.55 1.55l-1.55 -1.55z" class="gd"/>
<path d="M237.6 288.55l1.55 1.55l-1.55 1.55l-1.55 -1.55z" class="gd"/>
<path d="M243.6 288.55l1.55 1.55l-1.55 1.55l-1.55 -1.55z" class="gd"/>
<path d="M245.9 289.75l1.55 1.55l-1.55 1.55l-1.55 -1.55z" class="gd"/>
<path d="M250 288.35l1.55 1.55l-1.55 1.55l-1.55 -1.55z" class="gd"/>
<path d="M254.7 290.15l1.55 1.55l-1.55 1.55l-1.55 -1.55z" class="gd"/>
<path d="M245.6 291.55l1.55 1.55l-1.55 1.55l-1.55 -1.55z" class="gd"/>
<path d="M252.2 293.15l1.55 1.55l-1.55 1.55l-1.55 -1.55z" class="gd"/>
<path d="M254.9 293.65l1.55 1.55l-1.55 1.55l-1.55 -1.55z" class="gd"/>
<path d="M258.2 293.15l1.55 1.55l-1.55 1.55l-1.55 -1.55z" class="gd"/>
<path d="M234.2 294.75l1.55 1.55l-1.55 1.55l-1.55 -1.55z" class="gd"/>
<path d="M245.1 295.35l1.55 1.55l-1.55 1.55l-1.55 -1.55z" class="gd"/>
<path d="M248.4 296.95l1.55 1.55l-1.55 1.55l-1.55 -1.55z" class="gd"/>
<path d="M240.7 298.05l1.55 1.55l-1.55 1.55l-1.55 -1.55z" class="gd"/>
<path d="M242.9 299.15l1.55 1.55l-1.55 1.55l-1.55 -1.55z" class="gd"/>
<path d="M252.7 298.05l1.55 1.55l-1.55 1.55l-1.55 -1.55z" class="gd"/>
<path d="M256 296.95l1.55 1.55l-1.55 1.55l-1.55 -1.55z" class="gd"/>
<path d="M259.8 297.55l1.55 1.55l-1.55 1.55l-1.55 -1.55z" class="gd"/>
<path d="M260.9 299.65l1.55 1.55l-1.55 1.55l-1.55 -1.55z" class="gd"/>
<path d="M240.2 301.85l1.55 1.55l-1.55 1.55l-1.55 -1.55z" class="gd"/>
<path d="M237.5 305.65l1.55 1.55l-1.55 1.55l-1.55 -1.55z" class="gd"/>
<path d="M245.6 305.15l1.55 1.55l-1.55 1.55l-1.55 -1.55z" class="gd"/>
<path d="M241.8 307.85l1.55 1.55l-1.55 1.55l-1.55 -1.55z" class="gd"/>
<path d="M252.7 305.15l1.55 1.55l-1.55 1.55l-1.55 -1.55z" class="gd"/>
<path d="M256.5 306.75l1.55 1.55l-1.55 1.55l-1.55 -1.55z" class="gd"/>
<path d="M258.2 310.05l1.55 1.55l-1.55 1.55l-1.55 -1.55z" class="gd"/>
<path d="M239.1 313.15l1.55 1.55l-1.55 1.55l-1.55 -1.55z" class="gd"/>
<path d="M248.4 311.65l1.55 1.55l-1.55 1.55l-1.55 -1.55z" class="gd"/>
<path d="M260.9 314.45l1.55 1.55l-1.55 1.55l-1.55 -1.55z" class="gd"/>
<path d="M256.5 323.65l1.55 1.55l-1.55 1.55l-1.55 -1.55z" class="gd"/>
<path d="M258.2 322.55l1.55 1.55l-1.55 1.55l-1.55 -1.55z" class="gd"/>
<path d="M262.5 281.85l1.55 1.55l-1.55 1.55l-1.55 -1.55z" class="gd"/>
<path d="M262.5 283.95l1.55 1.55l-1.55 1.55l-1.55 -1.55z" class="gd"/>
<path d="M284.9 283.65l1.55 1.55l-1.55 1.55l-1.55 -1.55z" class="gd"/>
<path d="M282 285.85l1.55 1.55l-1.55 1.55l-1.55 -1.55z" class="gd"/>
<path d="M283.5 290.15l1.55 1.55l-1.55 1.55l-1.55 -1.55z" class="gd"/>
<path d="M271 292.45l1.55 1.55l-1.55 1.55l-1.55 -1.55z" class="gd"/>
<path d="M285.9 292.45l1.55 1.55l-1.55 1.55l-1.55 -1.55z" class="gd"/>
<path d="M260.6 296.45l1.55 1.55l-1.55 1.55l-1.55 -1.55z" class="gd"/>
<path d="M261.2 302.45l1.55 1.55l-1.55 1.55l-1.55 -1.55z" class="gd"/>
<path d="M266.1 301.35l1.55 1.55l-1.55 1.55l-1.55 -1.55z" class="gd"/>
<path d="M267.2 297.55l1.55 1.55l-1.55 1.55l-1.55 -1.55z" class="gd"/>
<path d="M269.4 295.85l1.55 1.55l-1.55 1.55l-1.55 -1.55z" class="gd"/>
<path d="M273.7 297.55l1.55 1.55l-1.55 1.55l-1.55 -1.55z" class="gd"/>
<path d="M277 294.25l1.55 1.55l-1.55 1.55l-1.55 -1.55z" class="gd"/>
<path d="M279.7 295.35l1.55 1.55l-1.55 1.55l-1.55 -1.55z" class="gd"/>
<path d="M282.4 292.05l1.55 1.55l-1.55 1.55l-1.55 -1.55z" class="gd"/>
<path d="M286.3 293.65l1.55 1.55l-1.55 1.55l-1.55 -1.55z" class="gd"/>
<path d="M286.8 295.35l1.55 1.55l-1.55 1.55l-1.55 -1.55z" class="gd"/>
<path d="M278.6 300.25l1.55 1.55l-1.55 1.55l-1.55 -1.55z" class="gd"/>
<path d="M272.1 306.75l1.55 1.55l-1.55 1.55l-1.55 -1.55z" class="gd"/>
<path d="M273.7 305.15l1.55 1.55l-1.55 1.55l-1.55 -1.55z" class="gd"/>
<path d="M275.4 303.55l1.55 1.55l-1.55 1.55l-1.55 -1.55z" class="gd"/>
<path d="M276.4 302.95l1.55 1.55l-1.55 1.55l-1.55 -1.55z" class="gd"/>
<path d="M279.2 307.35l1.55 1.55l-1.55 1.55l-1.55 -1.55z" class="gd"/>
<path d="M282.4 307.35l1.55 1.55l-1.55 1.55l-1.55 -1.55z" class="gd"/>
<path d="M281.9 309.55l1.55 1.55l-1.55 1.55l-1.55 -1.55z" class="gd"/>
<path d="M284.6 312.25l1.55 1.55l-1.55 1.55l-1.55 -1.55z" class="gd"/>
<path d="M285.7 309.55l1.55 1.55l-1.55 1.55l-1.55 -1.55z" class="gd"/>
<path d="M263.9 308.95l1.55 1.55l-1.55 1.55l-1.55 -1.55z" class="gd"/>
<path d="M267.2 313.35l1.55 1.55l-1.55 1.55l-1.55 -1.55z" class="gd"/>
<path d="M270.5 316.35l1.55 1.55l-1.55 1.55l-1.55 -1.55z" class="gd"/>
<path d="M275.4 312.75l1.55 1.55l-1.55 1.55l-1.55 -1.55z" class="gd"/>
<path d="M284.6 315.75l1.55 1.55l-1.55 1.55l-1.55 -1.55z" class="gd"/>
<path d="M283.5 318.95l1.55 1.55l-1.55 1.55l-1.55 -1.55z" class="gd"/>
<path d="M287.6 297.55l1.55 1.55l-1.55 1.55l-1.55 -1.55z" class="gd"/>
<path d="M290.9 294.75l1.55 1.55l-1.55 1.55l-1.55 -1.55z" class="gd"/>
<path d="M294.2 299.15l1.55 1.55l-1.55 1.55l-1.55 -1.55z" class="gd"/>
<path d="M299.1 294.75l1.55 1.55l-1.55 1.55l-1.55 -1.55z" class="gd"/>
<path d="M302.4 297.55l1.55 1.55l-1.55 1.55l-1.55 -1.55z" class="gd"/>
<path d="M302.4 301.85l1.55 1.55l-1.55 1.55l-1.55 -1.55z" class="gd"/>
<path d="M303.7 302.95l1.55 1.55l-1.55 1.55l-1.55 -1.55z" class="gd"/>
<path d="M308.7 305.15l1.55 1.55l-1.55 1.55l-1.55 -1.55z" class="gd"/>
<path d="M292.5 304.05l1.55 1.55l-1.55 1.55l-1.55 -1.55z" class="gd"/>
<path d="M286.5 311.65l1.55 1.55l-1.55 1.55l-1.55 -1.55z" class="gd"/>
<path d="M289.8 313.85l1.55 1.55l-1.55 1.55l-1.55 -1.55z" class="gd"/>
<path d="M305.6 313.35l1.55 1.55l-1.55 1.55l-1.55 -1.55z" class="gd"/>
<path d="M289.8 319.85l1.55 1.55l-1.55 1.55l-1.55 -1.55z" class="gd"/>
<path d="M307.1 285.55l1.55 1.55l-1.55 1.55l-1.55 -1.55z" class="gd"/>
<path d="M318.3 317.45l1.55 1.55l-1.55 1.55l-1.55 -1.55z" class="gd"/>
<rect x="207" y="305.7" width="3.2" height="3.2" class="rs"/>
<rect x="209.4" y="305.7" width="3.2" height="3.2" class="rs"/>
<rect x="208.3" y="317.9" width="3.2" height="3.2" class="rs"/>
<rect x="215.1" y="316.4" width="3.2" height="3.2" class="rs"/>
<rect x="223.2" y="318.4" width="3.2" height="3.2" class="rs"/>
<rect x="233" y="311.7" width="3.2" height="3.2" class="rs"/>
<rect x="237.7" y="313" width="3.2" height="3.2" class="rs"/>
<rect x="241.1" y="308.2" width="3.2" height="3.2" class="rs"/>
<rect x="247" y="311.8" width="3.2" height="3.2" class="rs"/>
<rect x="255.2" y="323.6" width="3.2" height="3.2" class="rs"/>
<rect x="256.4" y="309.5" width="3.2" height="3.2" class="rs"/>
<rect x="259.9" y="314.6" width="3.2" height="3.2" class="rs"/>
<rect x="269.5" y="316.6" width="3.2" height="3.2" class="rs"/>
<rect x="274" y="313.4" width="3.2" height="3.2" class="rs"/>
<rect x="280.3" y="309.2" width="3.2" height="3.2" class="rs"/>
<rect x="283.4" y="309.5" width="3.2" height="3.2" class="rs"/>
<rect x="285.8" y="309.2" width="3.2" height="3.2" class="rs"/>
<rect x="283.8" y="311.9" width="3.2" height="3.2" class="rs"/>
<rect x="288.3" y="313.7" width="3.2" height="3.2" class="rs"/>
<rect x="288.3" y="320.2" width="3.2" height="3.2" class="rs"/>
<circle cx="206.6" cy="265" r="1.55" fill="#6a0a8a"/>
<circle cx="207.7" cy="274.5" r="1.55" fill="#6a0a8a"/>
<circle cx="212.5" cy="276.3" r="1.55" fill="#6a0a8a"/>
<circle cx="211.8" cy="281.8" r="1.55" fill="#6a0a8a"/>
<circle cx="210.4" cy="286.5" r="1.55" fill="#6a0a8a"/>
<circle cx="211.5" cy="292.7" r="1.55" fill="#6a0a8a"/>
<circle cx="210.2" cy="294" r="1.55" fill="#6a0a8a"/>
<circle cx="217.3" cy="291.3" r="1.55" fill="#6a0a8a"/>
<circle cx="222.7" cy="289.2" r="1.55" fill="#6a0a8a"/>
<circle cx="224.1" cy="290.6" r="1.55" fill="#6a0a8a"/>
<circle cx="225.4" cy="289.9" r="1.55" fill="#6a0a8a"/>
<circle cx="227.5" cy="275.6" r="1.55" fill="#6a0a8a"/>
<circle cx="227.5" cy="286.5" r="1.55" fill="#6a0a8a"/>
<circle cx="230.9" cy="285.2" r="1.55" fill="#6a0a8a"/>
<circle cx="234.3" cy="281.1" r="1.55" fill="#6a0a8a"/>
<circle cx="237" cy="278.3" r="1.55" fill="#6a0a8a"/>
<circle cx="235" cy="285.8" r="1.55" fill="#6a0a8a"/>
<circle cx="224.1" cy="294.7" r="1.55" fill="#6a0a8a"/>
<circle cx="226.1" cy="296.7" r="1.55" fill="#6a0a8a"/>
<circle cx="228.8" cy="297.4" r="1.55" fill="#6a0a8a"/>
<circle cx="226.8" cy="298.8" r="1.55" fill="#6a0a8a"/>
<circle cx="229.5" cy="299.5" r="1.55" fill="#6a0a8a"/>
<circle cx="224.8" cy="304.2" r="1.55" fill="#6a0a8a"/>
<circle cx="209.8" cy="303.6" r="1.55" fill="#6a0a8a"/>
<circle cx="219.4" cy="310.3" r="1.55" fill="#6a0a8a"/>
<circle cx="248.6" cy="283.1" r="1.55" fill="#6a0a8a"/>
<circle cx="243.8" cy="291.3" r="1.55" fill="#6a0a8a"/>
<circle cx="245.2" cy="296.7" r="1.55" fill="#6a0a8a"/>
<circle cx="240.5" cy="300.1" r="1.55" fill="#6a0a8a"/>
<circle cx="241.8" cy="302.2" r="1.55" fill="#6a0a8a"/>
<circle cx="237.2" cy="307.1" r="1.55" fill="#6a0a8a"/>
<circle cx="245.1" cy="306.9" r="1.55" fill="#6a0a8a"/>
<circle cx="256.2" cy="308.3" r="1.55" fill="#6a0a8a"/>
<circle cx="257.6" cy="310.8" r="1.55" fill="#6a0a8a"/>
<circle cx="215.1" cy="318" r="1.55" fill="#6a0a8a"/>
<circle cx="217.1" cy="317.6" r="1.55" fill="#6a0a8a"/>
<circle cx="218.5" cy="315.6" r="1.55" fill="#6a0a8a"/>
<circle cx="229.2" cy="317.6" r="1.55" fill="#6a0a8a"/>
<circle cx="230.6" cy="315.6" r="1.55" fill="#6a0a8a"/>
<circle cx="256.1" cy="325" r="1.55" fill="#6a0a8a"/>
<circle cx="258.2" cy="324.3" r="1.55" fill="#6a0a8a"/>
<circle cx="266.2" cy="302.8" r="1.55" fill="#6a0a8a"/>
<circle cx="260.9" cy="297.4" r="1.55" fill="#6a0a8a"/>
<circle cx="270.9" cy="296.1" r="1.55" fill="#6a0a8a"/>
<circle cx="248.3" cy="283.3" r="1.55" fill="#6a0a8a"/>
<circle cx="262.7" cy="285.7" r="1.55" fill="#6a0a8a"/>
<circle cx="282.2" cy="287.2" r="1.55" fill="#6a0a8a"/>
<circle cx="284.8" cy="285.3" r="1.55" fill="#6a0a8a"/>
<circle cx="283.3" cy="292" r="1.55" fill="#6a0a8a"/>
<circle cx="260.8" cy="297.3" r="1.55" fill="#6a0a8a"/>
<circle cx="270.8" cy="295.8" r="1.55" fill="#6a0a8a"/>
<circle cx="276.8" cy="295.8" r="1.55" fill="#6a0a8a"/>
<circle cx="288.5" cy="299.5" r="1.55" fill="#6a0a8a"/>
<circle cx="294.5" cy="301" r="1.55" fill="#6a0a8a"/>
<circle cx="266" cy="303.3" r="1.55" fill="#6a0a8a"/>
<circle cx="276.5" cy="305.2" r="1.55" fill="#6a0a8a"/>
<circle cx="275" cy="314.5" r="1.55" fill="#6a0a8a"/>
<circle cx="281.8" cy="310.8" r="1.55" fill="#6a0a8a"/>
<circle cx="285.2" cy="310" r="1.55" fill="#6a0a8a"/>
<circle cx="286.3" cy="313.8" r="1.55" fill="#6a0a8a"/>
<circle cx="284.8" cy="316.8" r="1.55" fill="#6a0a8a"/>
<path d="M207.4 273.4 213.76 274.42 220.11 275.42 226.47 276.42 232.82 277.41 239.18 278.4 245.54 279.37 251.89 280.34 258.25 281.31 264.6 282.26 270.96 283.21 277.32 284.16 283.67 285.09 290.03 286.02 296.38 286.94 302.74 287.86 309.1 288.76 315.45 289.66 321.81 290.56 328.16 291.44 334.52 292.32" class="cv"/>
<path d="M207.4 274.34 213.76 275.48 220.11 276.61 226.47 277.73 232.82 278.84 239.18 279.94 245.54 281.03 251.89 282.11 258.25 283.18 264.6 284.25 270.96 285.3 277.32 286.35 283.67 287.39 290.03 288.41 296.38 289.43 302.74 290.44 309.1 291.44 315.45 292.43 321.81 293.42 328.16 294.39 334.52 295.35" class="cv"/>
<path d="M207.4 278.65 213.76 279.81 220.11 280.97 226.47 282.13 232.82 283.29 239.18 284.44 245.54 285.6 251.89 286.76 258.25 287.91 264.6 289.07 270.96 290.22 277.32 291.37 283.67 292.53 290.03 293.68 296.38 294.83 302.74 295.98 309.1 297.13 315.45 298.28 321.81 299.43 328.16 300.58 334.52 301.73" class="cv"/>
<path d="M207.4 284.25 213.76 285.15 220.11 286.05 226.47 286.97 232.82 287.9 239.18 288.83 245.54 289.78 251.89 290.74 258.25 291.7 264.6 292.68 270.96 293.67 277.32 294.66 283.67 295.67 290.03 296.68 296.38 297.71 302.74 298.74 309.1 299.78 315.45 300.84 321.81 301.9 328.16 302.98 334.52 304.06" class="cv"/>
<path d="M207.4 290.73 213.76 291.18 220.11 291.67 226.47 292.19 232.82 292.75 239.18 293.35 245.54 293.99 251.89 294.66 258.25 295.37 264.6 296.11 270.96 296.9 277.32 297.72 283.67 298.57 290.03 299.47 296.38 300.4 302.74 301.36 309.1 302.37 315.45 303.41 321.81 304.49 328.16 305.6 334.52 306.75" class="cv"/>
<path d="M207.4 295.02 213.76 295.38 220.11 295.8 226.47 296.26 232.82 296.77 239.18 297.32 245.54 297.92 251.89 298.58 258.25 299.27 264.6 300.02 270.96 300.81 277.32 301.66 283.67 302.55 290.03 303.48 296.38 304.47 302.74 305.5 309.1 306.58 315.45 307.71 321.81 308.88 328.16 310.1 334.52 311.37" class="cv"/>
<path d="M207.4 297.36 213.76 297.77 220.11 298.24 226.47 298.75 232.82 299.32 239.18 299.94 245.54 300.61 251.89 301.33 258.25 302.11 264.6 302.93 270.96 303.81 277.32 304.74 283.67 305.72 290.03 306.75 296.38 307.84 302.74 308.97 309.1 310.16 315.45 311.4 321.81 312.69 328.16 314.03 334.52 315.43" class="cv"/>
<text x="350.1" y="262.4" class="let">I</text>
<text x="432.5" y="268.2" class="tit">Others</text>
<path d="M381.2 263.7V342.9H508.32" class="axis"/>
<path d="M378.6 342.9h2.6M378.6 324.9h2.6M378.6 306.9h2.6M378.6 288.9h2.6M378.6 270.9h2.6M381.2 342.9v2M397.09 342.9v2M412.98 342.9v2M428.87 342.9v2M444.76 342.9v2M460.65 342.9v2M476.54 342.9v2M492.43 342.9v2M508.32 342.9v2" class="axis"/>
<text x="376.7" y="345" class="yt">0</text>
<text x="376.7" y="327" class="yt">5</text>
<text x="376.7" y="309" class="yt">10</text>
<text x="376.7" y="291" class="yt">15</text>
<text x="376.7" y="273" class="yt">20</text>
<text x="381.2" y="354.1" class="xt">0</text>
<text x="397.09" y="354.1" class="xt">10</text>
<text x="412.98" y="354.1" class="xt">20</text>
<text x="428.87" y="354.1" class="xt">30</text>
<text x="444.76" y="354.1" class="xt">40</text>
<text x="460.65" y="354.1" class="xt">50</text>
<text x="476.54" y="354.1" class="xt">60</text>
<text x="492.43" y="354.1" class="xt">70</text>
<text x="508.32" y="354.1" class="xt">80</text>
<text transform="translate(356.9 302.5) rotate(-90)" class="yl">Telomere length</text>
<text transform="translate(363.8 302.5) rotate(-90)" class="yl">(% 4n cell line)</text>
<text x="444.5" y="365.5" class="xl">Age (years)</text>
<path d="M381.1 263.35l1.55 1.55l-1.55 1.55l-1.55 -1.55z" class="gd"/>
<path d="M382 268.15l1.55 1.55l-1.55 1.55l-1.55 -1.55z" class="gd"/>
<path d="M382 272.85l1.55 1.55l-1.55 1.55l-1.55 -1.55z" class="gd"/>
<path d="M384.4 275.35l1.55 1.55l-1.55 1.55l-1.55 -1.55z" class="gd"/>
<path d="M386.4 275.35l1.55 1.55l-1.55 1.55l-1.55 -1.55z" class="gd"/>
<path d="M381.1 281.35l1.55 1.55l-1.55 1.55l-1.55 -1.55z" class="gd"/>
<path d="M382.5 279.95l1.55 1.55l-1.55 1.55l-1.55 -1.55z" class="gd"/>
<path d="M385.3 279.55l1.55 1.55l-1.55 1.55l-1.55 -1.55z" class="gd"/>
<path d="M384.4 285.05l1.55 1.55l-1.55 1.55l-1.55 -1.55z" class="gd"/>
<path d="M394.1 280.95l1.55 1.55l-1.55 1.55l-1.55 -1.55z" class="gd"/>
<path d="M398.2 277.25l1.55 1.55l-1.55 1.55l-1.55 -1.55z" class="gd"/>
<path d="M401.5 273.95l1.55 1.55l-1.55 1.55l-1.55 -1.55z" class="gd"/>
<path d="M405.2 279.95l1.55 1.55l-1.55 1.55l-1.55 -1.55z" class="gd"/>
<path d="M408 279.55l1.55 1.55l-1.55 1.55l-1.55 -1.55z" class="gd"/>
<path d="M404.7 283.25l1.55 1.55l-1.55 1.55l-1.55 -1.55z" class="gd"/>
<path d="M401.5 285.25l1.55 1.55l-1.55 1.55l-1.55 -1.55z" class="gd"/>
<path d="M393.6 286.95l1.55 1.55l-1.55 1.55l-1.55 -1.55z" class="gd"/>
<path d="M396.4 287.85l1.55 1.55l-1.55 1.55l-1.55 -1.55z" class="gd"/>
<path d="M398.7 288.75l1.55 1.55l-1.55 1.55l-1.55 -1.55z" class="gd"/>
<path d="M403.3 288.35l1.55 1.55l-1.55 1.55l-1.55 -1.55z" class="gd"/>
<path d="M390.4 290.15l1.55 1.55l-1.55 1.55l-1.55 -1.55z" class="gd"/>
<path d="M384.8 291.15l1.55 1.55l-1.55 1.55l-1.55 -1.55z" class="gd"/>
<path d="M386.7 291.15l1.55 1.55l-1.55 1.55l-1.55 -1.55z" class="gd"/>
<path d="M395.5 290.15l1.55 1.55l-1.55 1.55l-1.55 -1.55z" class="gd"/>
<path d="M398.2 291.15l1.55 1.55l-1.55 1.55l-1.55 -1.55z" class="gd"/>
<path d="M385.9 293.65l1.55 1.55l-1.55 1.55l-1.55 -1.55z" class="gd"/>
<path d="M383.7 294.25l1.55 1.55l-1.55 1.55l-1.55 -1.55z" class="gd"/>
<path d="M395.2 288.75l1.55 1.55l-1.55 1.55l-1.55 -1.55z" class="gd"/>
<path d="M398.4 294.75l1.55 1.55l-1.55 1.55l-1.55 -1.55z" class="gd"/>
<path d="M401.7 298.65l1.55 1.55l-1.55 1.55l-1.55 -1.55z" class="gd"/>
<path d="M405 295.35l1.55 1.55l-1.55 1.55l-1.55 -1.55z" class="gd"/>
<path d="M407.7 297.55l1.55 1.55l-1.55 1.55l-1.55 -1.55z" class="gd"/>
<path d="M383.7 301.85l1.55 1.55l-1.55 1.55l-1.55 -1.55z" class="gd"/>
<path d="M389.2 300.25l1.55 1.55l-1.55 1.55l-1.55 -1.55z" class="gd"/>
<path d="M382.1 305.15l1.55 1.55l-1.55 1.55l-1.55 -1.55z" class="gd"/>
<path d="M383.7 305.65l1.55 1.55l-1.55 1.55l-1.55 -1.55z" class="gd"/>
<path d="M398.4 302.45l1.55 1.55l-1.55 1.55l-1.55 -1.55z" class="gd"/>
<path d="M407.7 302.45l1.55 1.55l-1.55 1.55l-1.55 -1.55z" class="gd"/>
<path d="M393 309.55l1.55 1.55l-1.55 1.55l-1.55 -1.55z" class="gd"/>
<path d="M407.7 311.65l1.55 1.55l-1.55 1.55l-1.55 -1.55z" class="gd"/>
<path d="M405 313.35l1.55 1.55l-1.55 1.55l-1.55 -1.55z" class="gd"/>
<path d="M402.8 316.05l1.55 1.55l-1.55 1.55l-1.55 -1.55z" class="gd"/>
<path d="M383.2 317.95l1.55 1.55l-1.55 1.55l-1.55 -1.55z" class="gd"/>
<path d="M389.2 316.05l1.55 1.55l-1.55 1.55l-1.55 -1.55z" class="gd"/>
<path d="M390.8 316.05l1.55 1.55l-1.55 1.55l-1.55 -1.55z" class="gd"/>
<path d="M398.4 318.55l1.55 1.55l-1.55 1.55l-1.55 -1.55z" class="gd"/>
<path d="M411.4 276.55l1.55 1.55l-1.55 1.55l-1.55 -1.55z" class="gd"/>
<path d="M420.6 279.05l1.55 1.55l-1.55 1.55l-1.55 -1.55z" class="gd"/>
<path d="M422.5 281.35l1.55 1.55l-1.55 1.55l-1.55 -1.55z" class="gd"/>
<path d="M408.6 283.95l1.55 1.55l-1.55 1.55l-1.55 -1.55z" class="gd"/>
<path d="M409.5 285.55l1.55 1.55l-1.55 1.55l-1.55 -1.55z" class="gd"/>
<path d="M411.4 288.55l1.55 1.55l-1.55 1.55l-1.55 -1.55z" class="gd"/>
<path d="M417.4 288.55l1.55 1.55l-1.55 1.55l-1.55 -1.55z" class="gd"/>
<path d="M419.7 289.75l1.55 1.55l-1.55 1.55l-1.55 -1.55z" class="gd"/>
<path d="M423.8 288.35l1.55 1.55l-1.55 1.55l-1.55 -1.55z" class="gd"/>
<path d="M428.5 290.15l1.55 1.55l-1.55 1.55l-1.55 -1.55z" class="gd"/>
<path d="M419.4 291.55l1.55 1.55l-1.55 1.55l-1.55 -1.55z" class="gd"/>
<path d="M426 293.15l1.55 1.55l-1.55 1.55l-1.55 -1.55z" class="gd"/>
<path d="M428.7 293.65l1.55 1.55l-1.55 1.55l-1.55 -1.55z" class="gd"/>
<path d="M432 293.15l1.55 1.55l-1.55 1.55l-1.55 -1.55z" class="gd"/>
<path d="M408 294.75l1.55 1.55l-1.55 1.55l-1.55 -1.55z" class="gd"/>
<path d="M418.9 295.35l1.55 1.55l-1.55 1.55l-1.55 -1.55z" class="gd"/>
<path d="M422.2 296.95l1.55 1.55l-1.55 1.55l-1.55 -1.55z" class="gd"/>
<path d="M414.5 298.05l1.55 1.55l-1.55 1.55l-1.55 -1.55z" class="gd"/>
<path d="M416.7 299.15l1.55 1.55l-1.55 1.55l-1.55 -1.55z" class="gd"/>
<path d="M426.5 298.05l1.55 1.55l-1.55 1.55l-1.55 -1.55z" class="gd"/>
<path d="M429.8 296.95l1.55 1.55l-1.55 1.55l-1.55 -1.55z" class="gd"/>
<path d="M433.6 297.55l1.55 1.55l-1.55 1.55l-1.55 -1.55z" class="gd"/>
<path d="M434.7 299.65l1.55 1.55l-1.55 1.55l-1.55 -1.55z" class="gd"/>
<path d="M414 301.85l1.55 1.55l-1.55 1.55l-1.55 -1.55z" class="gd"/>
<path d="M411.3 305.65l1.55 1.55l-1.55 1.55l-1.55 -1.55z" class="gd"/>
<path d="M419.4 305.15l1.55 1.55l-1.55 1.55l-1.55 -1.55z" class="gd"/>
<path d="M415.6 307.85l1.55 1.55l-1.55 1.55l-1.55 -1.55z" class="gd"/>
<path d="M426.5 305.15l1.55 1.55l-1.55 1.55l-1.55 -1.55z" class="gd"/>
<path d="M430.3 306.75l1.55 1.55l-1.55 1.55l-1.55 -1.55z" class="gd"/>
<path d="M432 310.05l1.55 1.55l-1.55 1.55l-1.55 -1.55z" class="gd"/>
<path d="M412.9 313.15l1.55 1.55l-1.55 1.55l-1.55 -1.55z" class="gd"/>
<path d="M422.2 311.65l1.55 1.55l-1.55 1.55l-1.55 -1.55z" class="gd"/>
<path d="M434.7 314.45l1.55 1.55l-1.55 1.55l-1.55 -1.55z" class="gd"/>
<path d="M430.3 323.65l1.55 1.55l-1.55 1.55l-1.55 -1.55z" class="gd"/>
<path d="M432 322.55l1.55 1.55l-1.55 1.55l-1.55 -1.55z" class="gd"/>
<path d="M436.3 281.85l1.55 1.55l-1.55 1.55l-1.55 -1.55z" class="gd"/>
<path d="M436.3 283.95l1.55 1.55l-1.55 1.55l-1.55 -1.55z" class="gd"/>
<path d="M458.7 283.65l1.55 1.55l-1.55 1.55l-1.55 -1.55z" class="gd"/>
<path d="M455.8 285.85l1.55 1.55l-1.55 1.55l-1.55 -1.55z" class="gd"/>
<path d="M457.3 290.15l1.55 1.55l-1.55 1.55l-1.55 -1.55z" class="gd"/>
<path d="M444.8 292.45l1.55 1.55l-1.55 1.55l-1.55 -1.55z" class="gd"/>
<path d="M459.7 292.45l1.55 1.55l-1.55 1.55l-1.55 -1.55z" class="gd"/>
<path d="M434.4 296.45l1.55 1.55l-1.55 1.55l-1.55 -1.55z" class="gd"/>
<path d="M435 302.45l1.55 1.55l-1.55 1.55l-1.55 -1.55z" class="gd"/>
<path d="M439.9 301.35l1.55 1.55l-1.55 1.55l-1.55 -1.55z" class="gd"/>
<path d="M441 297.55l1.55 1.55l-1.55 1.55l-1.55 -1.55z" class="gd"/>
<path d="M443.2 295.85l1.55 1.55l-1.55 1.55l-1.55 -1.55z" class="gd"/>
<path d="M447.5 297.55l1.55 1.55l-1.55 1.55l-1.55 -1.55z" class="gd"/>
<path d="M450.8 294.25l1.55 1.55l-1.55 1.55l-1.55 -1.55z" class="gd"/>
<path d="M453.5 295.35l1.55 1.55l-1.55 1.55l-1.55 -1.55z" class="gd"/>
<path d="M456.2 292.05l1.55 1.55l-1.55 1.55l-1.55 -1.55z" class="gd"/>
<path d="M460.1 293.65l1.55 1.55l-1.55 1.55l-1.55 -1.55z" class="gd"/>
<path d="M460.6 295.35l1.55 1.55l-1.55 1.55l-1.55 -1.55z" class="gd"/>
<path d="M452.4 300.25l1.55 1.55l-1.55 1.55l-1.55 -1.55z" class="gd"/>
<path d="M445.9 306.75l1.55 1.55l-1.55 1.55l-1.55 -1.55z" class="gd"/>
<path d="M447.5 305.15l1.55 1.55l-1.55 1.55l-1.55 -1.55z" class="gd"/>
<path d="M449.2 303.55l1.55 1.55l-1.55 1.55l-1.55 -1.55z" class="gd"/>
<path d="M450.2 302.95l1.55 1.55l-1.55 1.55l-1.55 -1.55z" class="gd"/>
<path d="M453 307.35l1.55 1.55l-1.55 1.55l-1.55 -1.55z" class="gd"/>
<path d="M456.2 307.35l1.55 1.55l-1.55 1.55l-1.55 -1.55z" class="gd"/>
<path d="M455.7 309.55l1.55 1.55l-1.55 1.55l-1.55 -1.55z" class="gd"/>
<path d="M458.4 312.25l1.55 1.55l-1.55 1.55l-1.55 -1.55z" class="gd"/>
<path d="M459.5 309.55l1.55 1.55l-1.55 1.55l-1.55 -1.55z" class="gd"/>
<path d="M437.7 308.95l1.55 1.55l-1.55 1.55l-1.55 -1.55z" class="gd"/>
<path d="M441 313.35l1.55 1.55l-1.55 1.55l-1.55 -1.55z" class="gd"/>
<path d="M444.3 316.35l1.55 1.55l-1.55 1.55l-1.55 -1.55z" class="gd"/>
<path d="M449.2 312.75l1.55 1.55l-1.55 1.55l-1.55 -1.55z" class="gd"/>
<path d="M458.4 315.75l1.55 1.55l-1.55 1.55l-1.55 -1.55z" class="gd"/>
<path d="M457.3 318.95l1.55 1.55l-1.55 1.55l-1.55 -1.55z" class="gd"/>
<path d="M461.4 297.55l1.55 1.55l-1.55 1.55l-1.55 -1.55z" class="gd"/>
<path d="M464.7 294.75l1.55 1.55l-1.55 1.55l-1.55 -1.55z" class="gd"/>
<path d="M468 299.15l1.55 1.55l-1.55 1.55l-1.55 -1.55z" class="gd"/>
<path d="M472.9 294.75l1.55 1.55l-1.55 1.55l-1.55 -1.55z" class="gd"/>
<path d="M476.2 297.55l1.55 1.55l-1.55 1.55l-1.55 -1.55z" class="gd"/>
<path d="M476.2 301.85l1.55 1.55l-1.55 1.55l-1.55 -1.55z" class="gd"/>
<path d="M477.5 302.95l1.55 1.55l-1.55 1.55l-1.55 -1.55z" class="gd"/>
<path d="M482.5 305.15l1.55 1.55l-1.55 1.55l-1.55 -1.55z" class="gd"/>
<path d="M466.3 304.05l1.55 1.55l-1.55 1.55l-1.55 -1.55z" class="gd"/>
<path d="M460.3 311.65l1.55 1.55l-1.55 1.55l-1.55 -1.55z" class="gd"/>
<path d="M463.6 313.85l1.55 1.55l-1.55 1.55l-1.55 -1.55z" class="gd"/>
<path d="M479.4 313.35l1.55 1.55l-1.55 1.55l-1.55 -1.55z" class="gd"/>
<path d="M463.6 319.85l1.55 1.55l-1.55 1.55l-1.55 -1.55z" class="gd"/>
<path d="M480.9 285.55l1.55 1.55l-1.55 1.55l-1.55 -1.55z" class="gd"/>
<path d="M492.1 317.45l1.55 1.55l-1.55 1.55l-1.55 -1.55z" class="gd"/>
<rect x="380.8" y="305.7" width="3.2" height="3.2" class="rs"/>
<rect x="383.2" y="305.7" width="3.2" height="3.2" class="rs"/>
<rect x="382.1" y="317.9" width="3.2" height="3.2" class="rs"/>
<rect x="388.9" y="316.4" width="3.2" height="3.2" class="rs"/>
<rect x="397" y="318.4" width="3.2" height="3.2" class="rs"/>
<rect x="406.8" y="311.7" width="3.2" height="3.2" class="rs"/>
<rect x="411.5" y="313" width="3.2" height="3.2" class="rs"/>
<rect x="414.9" y="308.2" width="3.2" height="3.2" class="rs"/>
<rect x="420.8" y="311.8" width="3.2" height="3.2" class="rs"/>
<rect x="429" y="323.6" width="3.2" height="3.2" class="rs"/>
<rect x="430.2" y="309.5" width="3.2" height="3.2" class="rs"/>
<rect x="433.7" y="314.6" width="3.2" height="3.2" class="rs"/>
<rect x="443.3" y="316.6" width="3.2" height="3.2" class="rs"/>
<rect x="447.8" y="313.4" width="3.2" height="3.2" class="rs"/>
<rect x="454.1" y="309.2" width="3.2" height="3.2" class="rs"/>
<rect x="457.2" y="309.5" width="3.2" height="3.2" class="rs"/>
<rect x="459.6" y="309.2" width="3.2" height="3.2" class="rs"/>
<rect x="457.6" y="311.9" width="3.2" height="3.2" class="rs"/>
<rect x="462.1" y="313.7" width="3.2" height="3.2" class="rs"/>
<rect x="462.1" y="320.2" width="3.2" height="3.2" class="rs"/>
<circle cx="381.3" cy="269.8" r="1.55" fill="#f0a030"/>
<circle cx="417.8" cy="290.1" r="1.55" fill="#f0a030"/>
<circle cx="426.9" cy="307.3" r="1.55" fill="#f0a030"/>
<path d="M381.2 273.4 387.56 274.42 393.91 275.42 400.27 276.42 406.62 277.41 412.98 278.4 419.34 279.37 425.69 280.34 432.05 281.31 438.4 282.26 444.76 283.21 451.12 284.16 457.47 285.09 463.83 286.02 470.18 286.94 476.54 287.86 482.9 288.76 489.25 289.66 495.61 290.56 501.96 291.44 508.32 292.32" class="cv"/>
<path d="M381.2 274.34 387.56 275.48 393.91 276.61 400.27 277.73 406.62 278.84 412.98 279.94 419.34 281.03 425.69 282.11 432.05 283.18 438.4 284.25 444.76 285.3 451.12 286.35 457.47 287.39 463.83 288.41 470.18 289.43 476.54 290.44 482.9 291.44 489.25 292.43 495.61 293.42 501.96 294.39 508.32 295.35" class="cv"/>
<path d="M381.2 278.65 387.56 279.81 393.91 280.97 400.27 282.13 406.62 283.29 412.98 284.44 419.34 285.6 425.69 286.76 432.05 287.91 438.4 289.07 444.76 290.22 451.12 291.37 457.47 292.53 463.83 293.68 470.18 294.83 476.54 295.98 482.9 297.13 489.25 298.28 495.61 299.43 501.96 300.58 508.32 301.73" class="cv"/>
<path d="M381.2 284.25 387.56 285.15 393.91 286.05 400.27 286.97 406.62 287.9 412.98 288.83 419.34 289.78 425.69 290.74 432.05 291.7 438.4 292.68 444.76 293.67 451.12 294.66 457.47 295.67 463.83 296.68 470.18 297.71 476.54 298.74 482.9 299.78 489.25 300.84 495.61 301.9 501.96 302.98 508.32 304.06" class="cv"/>
<path d="M381.2 290.73 387.56 291.18 393.91 291.67 400.27 292.19 406.62 292.75 412.98 293.35 419.34 293.99 425.69 294.66 432.05 295.37 438.4 296.11 444.76 296.9 451.12 297.72 457.47 298.57 463.83 299.47 470.18 300.4 476.54 301.36 482.9 302.37 489.25 303.41 495.61 304.49 501.96 305.6 508.32 306.75" class="cv"/>
<path d="M381.2 295.02 387.56 295.38 393.91 295.8 400.27 296.26 406.62 296.77 412.98 297.32 419.34 297.92 425.69 298.58 432.05 299.27 438.4 300.02 444.76 300.81 451.12 301.66 457.47 302.55 463.83 303.48 470.18 304.47 476.54 305.5 482.9 306.58 489.25 307.71 495.61 308.88 501.96 310.1 508.32 311.37" class="cv"/>
<path d="M381.2 297.36 387.56 297.77 393.91 298.24 400.27 298.75 406.62 299.32 412.98 299.94 419.34 300.61 425.69 301.33 432.05 302.11 438.4 302.93 444.76 303.81 451.12 304.74 457.47 305.72 463.83 306.75 470.18 307.84 476.54 308.97 482.9 310.16 489.25 311.4 495.61 312.69 501.96 314.03 508.32 315.43" class="cv"/>
<path d="M468.7 207.5L460 199.2M461.46 204.19L460 199.2L465.05 200.43" class="arr"/>
<text x="473.5" y="209.9" class="ann"><tspan font-style="italic">TERC</tspan> C35T</text>
<path d="M232.7 267.1L232.4 272.4L237.6 272.9M236.4 269.5L238.5 267.9" class="arr" style="stroke-width:1.1"/>
<path d="M216 303.4L221.8 301.5M218.74 300.57L221.8 301.5L219.88 304.06" class="arr"/>
<path d="M217.4 326.6L218.8 315.4M215.92 319.49L218.8 315.4L220.58 320.07" class="arr"/>
<path d="M240.7 329.7L231.9 320.7M233.14 325.54L231.9 320.7L236.71 322.05" class="arr"/>
<path d="M269.4 336.5L261 328.4M262.38 333.21L261 328.4L265.85 329.61" class="arr"/>
</svg></body></html>
